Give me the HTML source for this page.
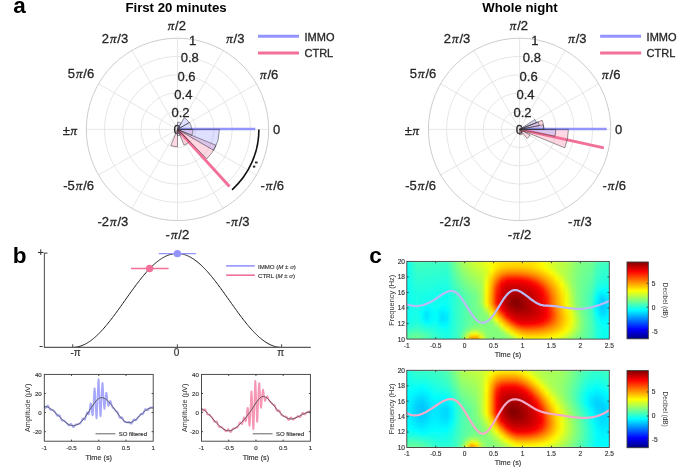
<!DOCTYPE html>
<html><head><meta charset="utf-8"><style>
html,body{margin:0;padding:0;background:#fff;}
svg{display:block;will-change:transform;}
</style></head><body>
<svg width="685" height="473" viewBox="0 0 685 473">
<defs><clipPath id="c1"><rect x="406.8" y="261.4" width="202.50" height="77.70"/></clipPath><linearGradient id="g2"><stop offset="0.000" stop-color="#08fff7"/><stop offset="0.025" stop-color="#29ffd6"/><stop offset="0.049" stop-color="#41ffbe"/><stop offset="0.074" stop-color="#40ffbf"/><stop offset="0.099" stop-color="#3fffc0"/><stop offset="0.123" stop-color="#3effc1"/><stop offset="0.148" stop-color="#3dffc2"/><stop offset="0.173" stop-color="#3cffc3"/><stop offset="0.198" stop-color="#3bffc4"/><stop offset="0.222" stop-color="#5cffa3"/><stop offset="0.247" stop-color="#81ff7e"/><stop offset="0.272" stop-color="#a4ff5b"/><stop offset="0.296" stop-color="#b7ff48"/><stop offset="0.321" stop-color="#c8ff37"/><stop offset="0.346" stop-color="#d5ff2a"/><stop offset="0.370" stop-color="#e1ff1e"/><stop offset="0.395" stop-color="#f1ff0e"/><stop offset="0.420" stop-color="#fffd00"/><stop offset="0.444" stop-color="#ffec00"/><stop offset="0.469" stop-color="#ffe200"/><stop offset="0.494" stop-color="#ffe000"/><stop offset="0.519" stop-color="#ffdf00"/><stop offset="0.543" stop-color="#ffde00"/><stop offset="0.568" stop-color="#ffde00"/><stop offset="0.593" stop-color="#ffde00"/><stop offset="0.617" stop-color="#ffde00"/><stop offset="0.642" stop-color="#ffe800"/><stop offset="0.667" stop-color="#fffb00"/><stop offset="0.691" stop-color="#f1ff0e"/><stop offset="0.716" stop-color="#dfff20"/><stop offset="0.741" stop-color="#cbff34"/><stop offset="0.765" stop-color="#c2ff3d"/><stop offset="0.790" stop-color="#b7ff48"/><stop offset="0.815" stop-color="#a0ff5f"/><stop offset="0.840" stop-color="#8bff74"/><stop offset="0.864" stop-color="#7cff83"/><stop offset="0.889" stop-color="#76ff89"/><stop offset="0.914" stop-color="#6fff90"/><stop offset="0.938" stop-color="#52ffad"/><stop offset="0.963" stop-color="#42ffbd"/><stop offset="0.988" stop-color="#3fffc0"/><stop offset="1.000" stop-color="#3effc1"/></linearGradient><linearGradient id="g3"><stop offset="0.000" stop-color="#08fff7"/><stop offset="0.025" stop-color="#28ffd7"/><stop offset="0.049" stop-color="#3effc1"/><stop offset="0.074" stop-color="#3dffc2"/><stop offset="0.099" stop-color="#3cffc3"/><stop offset="0.123" stop-color="#3bffc4"/><stop offset="0.148" stop-color="#3affc5"/><stop offset="0.173" stop-color="#39ffc6"/><stop offset="0.198" stop-color="#38ffc7"/><stop offset="0.222" stop-color="#58ffa7"/><stop offset="0.247" stop-color="#7cff83"/><stop offset="0.272" stop-color="#9fff60"/><stop offset="0.296" stop-color="#b1ff4e"/><stop offset="0.321" stop-color="#c3ff3c"/><stop offset="0.346" stop-color="#cfff30"/><stop offset="0.370" stop-color="#dcff23"/><stop offset="0.395" stop-color="#eaff15"/><stop offset="0.420" stop-color="#fbff04"/><stop offset="0.444" stop-color="#fff000"/><stop offset="0.469" stop-color="#ffe400"/><stop offset="0.494" stop-color="#ffdf00"/><stop offset="0.519" stop-color="#ffde00"/><stop offset="0.543" stop-color="#ffdd00"/><stop offset="0.568" stop-color="#ffde00"/><stop offset="0.593" stop-color="#ffdf00"/><stop offset="0.617" stop-color="#ffe100"/><stop offset="0.642" stop-color="#ffec00"/><stop offset="0.667" stop-color="#fffd00"/><stop offset="0.691" stop-color="#eeff11"/><stop offset="0.716" stop-color="#dbff24"/><stop offset="0.741" stop-color="#c8ff37"/><stop offset="0.765" stop-color="#bfff40"/><stop offset="0.790" stop-color="#b5ff4a"/><stop offset="0.815" stop-color="#9eff61"/><stop offset="0.840" stop-color="#89ff76"/><stop offset="0.864" stop-color="#7bff84"/><stop offset="0.889" stop-color="#74ff8b"/><stop offset="0.914" stop-color="#6cff93"/><stop offset="0.938" stop-color="#4fffb0"/><stop offset="0.963" stop-color="#3fffc0"/><stop offset="0.988" stop-color="#3cffc3"/><stop offset="1.000" stop-color="#3bffc4"/></linearGradient><linearGradient id="g4"><stop offset="0.000" stop-color="#08fff7"/><stop offset="0.025" stop-color="#26ffd9"/><stop offset="0.049" stop-color="#3cffc3"/><stop offset="0.074" stop-color="#3bffc4"/><stop offset="0.099" stop-color="#3affc5"/><stop offset="0.123" stop-color="#39ffc6"/><stop offset="0.148" stop-color="#38ffc7"/><stop offset="0.173" stop-color="#37ffc8"/><stop offset="0.198" stop-color="#35ffca"/><stop offset="0.222" stop-color="#55ffaa"/><stop offset="0.247" stop-color="#78ff87"/><stop offset="0.272" stop-color="#99ff66"/><stop offset="0.296" stop-color="#acff53"/><stop offset="0.321" stop-color="#bdff42"/><stop offset="0.346" stop-color="#c9ff36"/><stop offset="0.370" stop-color="#d6ff29"/><stop offset="0.395" stop-color="#e5ff1a"/><stop offset="0.420" stop-color="#f8ff07"/><stop offset="0.444" stop-color="#ffee00"/><stop offset="0.469" stop-color="#ffdd00"/><stop offset="0.494" stop-color="#ffd500"/><stop offset="0.519" stop-color="#ffd300"/><stop offset="0.543" stop-color="#ffd300"/><stop offset="0.568" stop-color="#ffd400"/><stop offset="0.593" stop-color="#ffd800"/><stop offset="0.617" stop-color="#ffdd00"/><stop offset="0.642" stop-color="#ffe900"/><stop offset="0.667" stop-color="#fffb00"/><stop offset="0.691" stop-color="#efff10"/><stop offset="0.716" stop-color="#daff25"/><stop offset="0.741" stop-color="#c6ff39"/><stop offset="0.765" stop-color="#bdff42"/><stop offset="0.790" stop-color="#b2ff4d"/><stop offset="0.815" stop-color="#9cff63"/><stop offset="0.840" stop-color="#88ff77"/><stop offset="0.864" stop-color="#79ff86"/><stop offset="0.889" stop-color="#72ff8d"/><stop offset="0.914" stop-color="#6aff95"/><stop offset="0.938" stop-color="#4cffb3"/><stop offset="0.963" stop-color="#3cffc3"/><stop offset="0.988" stop-color="#39ffc6"/><stop offset="1.000" stop-color="#38ffc7"/></linearGradient><linearGradient id="g5"><stop offset="0.000" stop-color="#08fff7"/><stop offset="0.025" stop-color="#25ffda"/><stop offset="0.049" stop-color="#3affc5"/><stop offset="0.074" stop-color="#39ffc6"/><stop offset="0.099" stop-color="#38ffc7"/><stop offset="0.123" stop-color="#36ffc9"/><stop offset="0.148" stop-color="#35ffca"/><stop offset="0.173" stop-color="#34ffcb"/><stop offset="0.198" stop-color="#33ffcc"/><stop offset="0.222" stop-color="#51ffae"/><stop offset="0.247" stop-color="#74ff8b"/><stop offset="0.272" stop-color="#94ff6b"/><stop offset="0.296" stop-color="#a6ff59"/><stop offset="0.321" stop-color="#b7ff48"/><stop offset="0.346" stop-color="#c4ff3b"/><stop offset="0.370" stop-color="#d0ff2f"/><stop offset="0.395" stop-color="#dfff20"/><stop offset="0.420" stop-color="#faff05"/><stop offset="0.444" stop-color="#ffe400"/><stop offset="0.469" stop-color="#ffce00"/><stop offset="0.494" stop-color="#ffc400"/><stop offset="0.519" stop-color="#ffc100"/><stop offset="0.543" stop-color="#ffc100"/><stop offset="0.568" stop-color="#ffc300"/><stop offset="0.593" stop-color="#ffc900"/><stop offset="0.617" stop-color="#ffd100"/><stop offset="0.642" stop-color="#ffdf00"/><stop offset="0.667" stop-color="#fff200"/><stop offset="0.691" stop-color="#f6ff09"/><stop offset="0.716" stop-color="#deff21"/><stop offset="0.741" stop-color="#c7ff38"/><stop offset="0.765" stop-color="#bbff44"/><stop offset="0.790" stop-color="#b0ff4f"/><stop offset="0.815" stop-color="#9aff65"/><stop offset="0.840" stop-color="#86ff79"/><stop offset="0.864" stop-color="#78ff87"/><stop offset="0.889" stop-color="#70ff8f"/><stop offset="0.914" stop-color="#67ff98"/><stop offset="0.938" stop-color="#49ffb6"/><stop offset="0.963" stop-color="#39ffc6"/><stop offset="0.988" stop-color="#36ffc9"/><stop offset="1.000" stop-color="#35ffca"/></linearGradient><linearGradient id="g6"><stop offset="0.000" stop-color="#08fff7"/><stop offset="0.025" stop-color="#24ffdb"/><stop offset="0.049" stop-color="#38ffc7"/><stop offset="0.074" stop-color="#37ffc8"/><stop offset="0.099" stop-color="#35ffca"/><stop offset="0.123" stop-color="#34ffcb"/><stop offset="0.148" stop-color="#33ffcc"/><stop offset="0.173" stop-color="#32ffcd"/><stop offset="0.198" stop-color="#30ffcf"/><stop offset="0.222" stop-color="#4effb1"/><stop offset="0.247" stop-color="#6fff90"/><stop offset="0.272" stop-color="#8eff71"/><stop offset="0.296" stop-color="#a1ff5e"/><stop offset="0.321" stop-color="#b2ff4d"/><stop offset="0.346" stop-color="#beff41"/><stop offset="0.370" stop-color="#cbff34"/><stop offset="0.395" stop-color="#dcff23"/><stop offset="0.420" stop-color="#fffe00"/><stop offset="0.444" stop-color="#ffd600"/><stop offset="0.469" stop-color="#ffbb00"/><stop offset="0.494" stop-color="#ffad00"/><stop offset="0.519" stop-color="#ffaa00"/><stop offset="0.543" stop-color="#ffaa00"/><stop offset="0.568" stop-color="#ffad00"/><stop offset="0.593" stop-color="#ffb400"/><stop offset="0.617" stop-color="#ffbf00"/><stop offset="0.642" stop-color="#ffce00"/><stop offset="0.667" stop-color="#ffe300"/><stop offset="0.691" stop-color="#fffb00"/><stop offset="0.716" stop-color="#e8ff17"/><stop offset="0.741" stop-color="#cbff34"/><stop offset="0.765" stop-color="#baff45"/><stop offset="0.790" stop-color="#aeff51"/><stop offset="0.815" stop-color="#98ff67"/><stop offset="0.840" stop-color="#85ff7a"/><stop offset="0.864" stop-color="#76ff89"/><stop offset="0.889" stop-color="#6eff91"/><stop offset="0.914" stop-color="#65ff9a"/><stop offset="0.938" stop-color="#46ffb9"/><stop offset="0.963" stop-color="#36ffc9"/><stop offset="0.988" stop-color="#33ffcc"/><stop offset="1.000" stop-color="#32ffcd"/></linearGradient><linearGradient id="g7"><stop offset="0.000" stop-color="#08fff7"/><stop offset="0.025" stop-color="#23ffdc"/><stop offset="0.049" stop-color="#36ffc9"/><stop offset="0.074" stop-color="#34ffcb"/><stop offset="0.099" stop-color="#33ffcc"/><stop offset="0.123" stop-color="#32ffcd"/><stop offset="0.148" stop-color="#30ffcf"/><stop offset="0.173" stop-color="#2fffd0"/><stop offset="0.198" stop-color="#2effd1"/><stop offset="0.222" stop-color="#4bffb4"/><stop offset="0.247" stop-color="#6bff94"/><stop offset="0.272" stop-color="#89ff76"/><stop offset="0.296" stop-color="#9bff64"/><stop offset="0.321" stop-color="#acff53"/><stop offset="0.346" stop-color="#b8ff47"/><stop offset="0.370" stop-color="#c5ff3a"/><stop offset="0.395" stop-color="#dbff24"/><stop offset="0.420" stop-color="#fff300"/><stop offset="0.444" stop-color="#ffc400"/><stop offset="0.469" stop-color="#ffa400"/><stop offset="0.494" stop-color="#ff9300"/><stop offset="0.519" stop-color="#ff8f00"/><stop offset="0.543" stop-color="#ff8f00"/><stop offset="0.568" stop-color="#ff9300"/><stop offset="0.593" stop-color="#ff9b00"/><stop offset="0.617" stop-color="#ffa900"/><stop offset="0.642" stop-color="#ffba00"/><stop offset="0.667" stop-color="#ffd000"/><stop offset="0.691" stop-color="#ffea00"/><stop offset="0.716" stop-color="#f6ff09"/><stop offset="0.741" stop-color="#d5ff2a"/><stop offset="0.765" stop-color="#bcff43"/><stop offset="0.790" stop-color="#adff52"/><stop offset="0.815" stop-color="#97ff68"/><stop offset="0.840" stop-color="#83ff7c"/><stop offset="0.864" stop-color="#75ff8a"/><stop offset="0.889" stop-color="#6cff93"/><stop offset="0.914" stop-color="#63ff9c"/><stop offset="0.938" stop-color="#44ffbb"/><stop offset="0.963" stop-color="#33ffcc"/><stop offset="0.988" stop-color="#30ffcf"/><stop offset="1.000" stop-color="#2fffd0"/></linearGradient><linearGradient id="g8"><stop offset="0.000" stop-color="#08fff7"/><stop offset="0.025" stop-color="#21ffde"/><stop offset="0.049" stop-color="#33ffcc"/><stop offset="0.074" stop-color="#32ffcd"/><stop offset="0.099" stop-color="#31ffce"/><stop offset="0.123" stop-color="#2fffd0"/><stop offset="0.148" stop-color="#2effd1"/><stop offset="0.173" stop-color="#2dffd2"/><stop offset="0.198" stop-color="#2bffd4"/><stop offset="0.222" stop-color="#47ffb8"/><stop offset="0.247" stop-color="#66ff99"/><stop offset="0.272" stop-color="#83ff7c"/><stop offset="0.296" stop-color="#96ff69"/><stop offset="0.321" stop-color="#a6ff59"/><stop offset="0.346" stop-color="#b3ff4c"/><stop offset="0.370" stop-color="#c0ff3f"/><stop offset="0.395" stop-color="#ddff22"/><stop offset="0.420" stop-color="#ffe700"/><stop offset="0.444" stop-color="#ffb200"/><stop offset="0.469" stop-color="#ff8b00"/><stop offset="0.494" stop-color="#ff7500"/><stop offset="0.519" stop-color="#ff6f00"/><stop offset="0.543" stop-color="#ff6f00"/><stop offset="0.568" stop-color="#ff7400"/><stop offset="0.593" stop-color="#ff7f00"/><stop offset="0.617" stop-color="#ff8f00"/><stop offset="0.642" stop-color="#ffa400"/><stop offset="0.667" stop-color="#ffbd00"/><stop offset="0.691" stop-color="#ffd800"/><stop offset="0.716" stop-color="#fff800"/><stop offset="0.741" stop-color="#e3ff1c"/><stop offset="0.765" stop-color="#c1ff3e"/><stop offset="0.790" stop-color="#acff53"/><stop offset="0.815" stop-color="#95ff6a"/><stop offset="0.840" stop-color="#82ff7d"/><stop offset="0.864" stop-color="#74ff8b"/><stop offset="0.889" stop-color="#6aff95"/><stop offset="0.914" stop-color="#60ff9f"/><stop offset="0.938" stop-color="#41ffbe"/><stop offset="0.963" stop-color="#30ffcf"/><stop offset="0.988" stop-color="#2dffd2"/><stop offset="1.000" stop-color="#2cffd3"/></linearGradient><linearGradient id="g9"><stop offset="0.000" stop-color="#08fff7"/><stop offset="0.025" stop-color="#20ffdf"/><stop offset="0.049" stop-color="#31ffce"/><stop offset="0.074" stop-color="#30ffcf"/><stop offset="0.099" stop-color="#2effd1"/><stop offset="0.123" stop-color="#2dffd2"/><stop offset="0.148" stop-color="#2cffd3"/><stop offset="0.173" stop-color="#2affd5"/><stop offset="0.198" stop-color="#29ffd6"/><stop offset="0.222" stop-color="#44ffbb"/><stop offset="0.247" stop-color="#62ff9d"/><stop offset="0.272" stop-color="#7eff81"/><stop offset="0.296" stop-color="#90ff6f"/><stop offset="0.321" stop-color="#a1ff5e"/><stop offset="0.346" stop-color="#adff52"/><stop offset="0.370" stop-color="#bbff44"/><stop offset="0.395" stop-color="#e2ff1d"/><stop offset="0.420" stop-color="#ffda00"/><stop offset="0.444" stop-color="#ffa000"/><stop offset="0.469" stop-color="#ff6f00"/><stop offset="0.494" stop-color="#ff4f00"/><stop offset="0.519" stop-color="#ff4600"/><stop offset="0.543" stop-color="#ff4600"/><stop offset="0.568" stop-color="#ff4d00"/><stop offset="0.593" stop-color="#ff5c00"/><stop offset="0.617" stop-color="#ff7300"/><stop offset="0.642" stop-color="#ff8c00"/><stop offset="0.667" stop-color="#ffa800"/><stop offset="0.691" stop-color="#ffc700"/><stop offset="0.716" stop-color="#ffe800"/><stop offset="0.741" stop-color="#f1ff0e"/><stop offset="0.765" stop-color="#cbff34"/><stop offset="0.790" stop-color="#aeff51"/><stop offset="0.815" stop-color="#95ff6a"/><stop offset="0.840" stop-color="#81ff7e"/><stop offset="0.864" stop-color="#72ff8d"/><stop offset="0.889" stop-color="#68ff97"/><stop offset="0.914" stop-color="#5effa1"/><stop offset="0.938" stop-color="#3dffc2"/><stop offset="0.963" stop-color="#2dffd2"/><stop offset="0.988" stop-color="#2affd5"/><stop offset="1.000" stop-color="#29ffd6"/></linearGradient><linearGradient id="g10"><stop offset="0.000" stop-color="#08fff7"/><stop offset="0.025" stop-color="#1fffe0"/><stop offset="0.049" stop-color="#2fffd0"/><stop offset="0.074" stop-color="#2effd1"/><stop offset="0.099" stop-color="#2cffd3"/><stop offset="0.123" stop-color="#2bffd4"/><stop offset="0.148" stop-color="#29ffd6"/><stop offset="0.173" stop-color="#28ffd7"/><stop offset="0.198" stop-color="#26ffd9"/><stop offset="0.222" stop-color="#40ffbf"/><stop offset="0.247" stop-color="#5dffa2"/><stop offset="0.272" stop-color="#78ff87"/><stop offset="0.296" stop-color="#8bff74"/><stop offset="0.321" stop-color="#9bff64"/><stop offset="0.346" stop-color="#a7ff58"/><stop offset="0.370" stop-color="#b7ff48"/><stop offset="0.395" stop-color="#e7ff18"/><stop offset="0.420" stop-color="#ffce00"/><stop offset="0.444" stop-color="#ff8d00"/><stop offset="0.469" stop-color="#ff4d00"/><stop offset="0.494" stop-color="#ff2700"/><stop offset="0.519" stop-color="#ff1e00"/><stop offset="0.543" stop-color="#ff1e00"/><stop offset="0.568" stop-color="#ff2400"/><stop offset="0.593" stop-color="#ff3400"/><stop offset="0.617" stop-color="#ff4f00"/><stop offset="0.642" stop-color="#ff7200"/><stop offset="0.667" stop-color="#ff9300"/><stop offset="0.691" stop-color="#ffb500"/><stop offset="0.716" stop-color="#ffd800"/><stop offset="0.741" stop-color="#fffe00"/><stop offset="0.765" stop-color="#d7ff28"/><stop offset="0.790" stop-color="#b1ff4e"/><stop offset="0.815" stop-color="#95ff6a"/><stop offset="0.840" stop-color="#80ff7f"/><stop offset="0.864" stop-color="#71ff8e"/><stop offset="0.889" stop-color="#67ff98"/><stop offset="0.914" stop-color="#5bffa4"/><stop offset="0.938" stop-color="#3affc5"/><stop offset="0.963" stop-color="#29ffd6"/><stop offset="0.988" stop-color="#27ffd8"/><stop offset="1.000" stop-color="#26ffd9"/></linearGradient><linearGradient id="g11"><stop offset="0.000" stop-color="#08fff7"/><stop offset="0.025" stop-color="#1effe1"/><stop offset="0.049" stop-color="#2dffd2"/><stop offset="0.074" stop-color="#2bffd4"/><stop offset="0.099" stop-color="#2affd5"/><stop offset="0.123" stop-color="#28ffd7"/><stop offset="0.148" stop-color="#27ffd8"/><stop offset="0.173" stop-color="#25ffda"/><stop offset="0.198" stop-color="#24ffdb"/><stop offset="0.222" stop-color="#3dffc2"/><stop offset="0.247" stop-color="#59ffa6"/><stop offset="0.272" stop-color="#73ff8c"/><stop offset="0.296" stop-color="#85ff7a"/><stop offset="0.321" stop-color="#96ff69"/><stop offset="0.346" stop-color="#a2ff5d"/><stop offset="0.370" stop-color="#b3ff4c"/><stop offset="0.395" stop-color="#edff12"/><stop offset="0.420" stop-color="#ffc400"/><stop offset="0.444" stop-color="#ff7a00"/><stop offset="0.469" stop-color="#ff2b00"/><stop offset="0.494" stop-color="#ff0700"/><stop offset="0.519" stop-color="#ff0000"/><stop offset="0.543" stop-color="#ff0000"/><stop offset="0.568" stop-color="#ff0400"/><stop offset="0.593" stop-color="#ff1100"/><stop offset="0.617" stop-color="#ff2a00"/><stop offset="0.642" stop-color="#ff5100"/><stop offset="0.667" stop-color="#ff7d00"/><stop offset="0.691" stop-color="#ffa300"/><stop offset="0.716" stop-color="#ffc900"/><stop offset="0.741" stop-color="#fff000"/><stop offset="0.765" stop-color="#e3ff1c"/><stop offset="0.790" stop-color="#b7ff48"/><stop offset="0.815" stop-color="#96ff69"/><stop offset="0.840" stop-color="#7fff80"/><stop offset="0.864" stop-color="#70ff8f"/><stop offset="0.889" stop-color="#65ff9a"/><stop offset="0.914" stop-color="#59ffa6"/><stop offset="0.938" stop-color="#37ffc8"/><stop offset="0.963" stop-color="#25ffda"/><stop offset="0.988" stop-color="#23ffdc"/><stop offset="1.000" stop-color="#22ffdd"/></linearGradient><linearGradient id="g12"><stop offset="0.000" stop-color="#08fff7"/><stop offset="0.025" stop-color="#1cffe3"/><stop offset="0.049" stop-color="#2bffd4"/><stop offset="0.074" stop-color="#29ffd6"/><stop offset="0.099" stop-color="#27ffd8"/><stop offset="0.123" stop-color="#26ffd9"/><stop offset="0.148" stop-color="#24ffdb"/><stop offset="0.173" stop-color="#23ffdc"/><stop offset="0.198" stop-color="#21ffde"/><stop offset="0.222" stop-color="#39ffc6"/><stop offset="0.247" stop-color="#54ffab"/><stop offset="0.272" stop-color="#6dff92"/><stop offset="0.296" stop-color="#80ff7f"/><stop offset="0.321" stop-color="#90ff6f"/><stop offset="0.346" stop-color="#9cff63"/><stop offset="0.370" stop-color="#afff50"/><stop offset="0.395" stop-color="#f3ff0c"/><stop offset="0.420" stop-color="#ffba00"/><stop offset="0.444" stop-color="#ff6600"/><stop offset="0.469" stop-color="#ff1000"/><stop offset="0.494" stop-color="#f30000"/><stop offset="0.519" stop-color="#ee0000"/><stop offset="0.543" stop-color="#ee0000"/><stop offset="0.568" stop-color="#f10000"/><stop offset="0.593" stop-color="#fa0000"/><stop offset="0.617" stop-color="#ff0c00"/><stop offset="0.642" stop-color="#ff3000"/><stop offset="0.667" stop-color="#ff6400"/><stop offset="0.691" stop-color="#ff9200"/><stop offset="0.716" stop-color="#ffbb00"/><stop offset="0.741" stop-color="#ffe300"/><stop offset="0.765" stop-color="#eeff11"/><stop offset="0.790" stop-color="#c0ff3f"/><stop offset="0.815" stop-color="#97ff68"/><stop offset="0.840" stop-color="#7eff81"/><stop offset="0.864" stop-color="#6fff90"/><stop offset="0.889" stop-color="#63ff9c"/><stop offset="0.914" stop-color="#56ffa9"/><stop offset="0.938" stop-color="#32ffcd"/><stop offset="0.963" stop-color="#20ffdf"/><stop offset="0.988" stop-color="#1fffe0"/><stop offset="1.000" stop-color="#1fffe0"/></linearGradient><linearGradient id="g13"><stop offset="0.000" stop-color="#08fff7"/><stop offset="0.025" stop-color="#1bffe4"/><stop offset="0.049" stop-color="#28ffd7"/><stop offset="0.074" stop-color="#27ffd8"/><stop offset="0.099" stop-color="#25ffda"/><stop offset="0.123" stop-color="#24ffdb"/><stop offset="0.148" stop-color="#22ffdd"/><stop offset="0.173" stop-color="#20ffdf"/><stop offset="0.198" stop-color="#1fffe0"/><stop offset="0.222" stop-color="#36ffc9"/><stop offset="0.247" stop-color="#50ffaf"/><stop offset="0.272" stop-color="#68ff97"/><stop offset="0.296" stop-color="#7aff85"/><stop offset="0.321" stop-color="#8aff75"/><stop offset="0.346" stop-color="#97ff68"/><stop offset="0.370" stop-color="#acff53"/><stop offset="0.395" stop-color="#f8ff07"/><stop offset="0.420" stop-color="#ffb200"/><stop offset="0.444" stop-color="#ff5200"/><stop offset="0.469" stop-color="#fd0000"/><stop offset="0.494" stop-color="#e50000"/><stop offset="0.519" stop-color="#df0000"/><stop offset="0.543" stop-color="#df0000"/><stop offset="0.568" stop-color="#e20000"/><stop offset="0.593" stop-color="#ea0000"/><stop offset="0.617" stop-color="#f80000"/><stop offset="0.642" stop-color="#ff1400"/><stop offset="0.667" stop-color="#ff4800"/><stop offset="0.691" stop-color="#ff8000"/><stop offset="0.716" stop-color="#ffad00"/><stop offset="0.741" stop-color="#ffd800"/><stop offset="0.765" stop-color="#f9ff06"/><stop offset="0.790" stop-color="#c9ff36"/><stop offset="0.815" stop-color="#9aff65"/><stop offset="0.840" stop-color="#7eff81"/><stop offset="0.864" stop-color="#6eff91"/><stop offset="0.889" stop-color="#61ff9e"/><stop offset="0.914" stop-color="#53ffac"/><stop offset="0.938" stop-color="#2effd1"/><stop offset="0.963" stop-color="#1affe5"/><stop offset="0.988" stop-color="#1affe5"/><stop offset="1.000" stop-color="#1bffe4"/></linearGradient><linearGradient id="g14"><stop offset="0.000" stop-color="#08fff7"/><stop offset="0.025" stop-color="#1affe5"/><stop offset="0.049" stop-color="#26ffd9"/><stop offset="0.074" stop-color="#25ffda"/><stop offset="0.099" stop-color="#23ffdc"/><stop offset="0.123" stop-color="#21ffde"/><stop offset="0.148" stop-color="#1fffe0"/><stop offset="0.173" stop-color="#1effe1"/><stop offset="0.198" stop-color="#1cffe3"/><stop offset="0.222" stop-color="#32ffcd"/><stop offset="0.247" stop-color="#4bffb4"/><stop offset="0.272" stop-color="#63ff9c"/><stop offset="0.296" stop-color="#75ff8a"/><stop offset="0.321" stop-color="#85ff7a"/><stop offset="0.346" stop-color="#91ff6e"/><stop offset="0.370" stop-color="#aaff55"/><stop offset="0.395" stop-color="#fcff03"/><stop offset="0.420" stop-color="#ffab00"/><stop offset="0.444" stop-color="#ff4100"/><stop offset="0.469" stop-color="#f10000"/><stop offset="0.494" stop-color="#d90000"/><stop offset="0.519" stop-color="#d30000"/><stop offset="0.543" stop-color="#d30000"/><stop offset="0.568" stop-color="#d60000"/><stop offset="0.593" stop-color="#de0000"/><stop offset="0.617" stop-color="#eb0000"/><stop offset="0.642" stop-color="#ff0100"/><stop offset="0.667" stop-color="#ff2e00"/><stop offset="0.691" stop-color="#ff6e00"/><stop offset="0.716" stop-color="#ffa000"/><stop offset="0.741" stop-color="#ffcd00"/><stop offset="0.765" stop-color="#fffb00"/><stop offset="0.790" stop-color="#d2ff2d"/><stop offset="0.815" stop-color="#9eff61"/><stop offset="0.840" stop-color="#7fff80"/><stop offset="0.864" stop-color="#6dff92"/><stop offset="0.889" stop-color="#5fffa0"/><stop offset="0.914" stop-color="#50ffaf"/><stop offset="0.938" stop-color="#29ffd6"/><stop offset="0.963" stop-color="#13ffec"/><stop offset="0.988" stop-color="#15ffea"/><stop offset="1.000" stop-color="#16ffe9"/></linearGradient><linearGradient id="g15"><stop offset="0.000" stop-color="#08fff7"/><stop offset="0.025" stop-color="#19ffe6"/><stop offset="0.049" stop-color="#24ffdb"/><stop offset="0.074" stop-color="#22ffdd"/><stop offset="0.099" stop-color="#21ffde"/><stop offset="0.123" stop-color="#1fffe0"/><stop offset="0.148" stop-color="#1dffe2"/><stop offset="0.173" stop-color="#1bffe4"/><stop offset="0.198" stop-color="#1affe5"/><stop offset="0.222" stop-color="#2fffd0"/><stop offset="0.247" stop-color="#47ffb8"/><stop offset="0.272" stop-color="#5dffa2"/><stop offset="0.296" stop-color="#6fff90"/><stop offset="0.321" stop-color="#7fff80"/><stop offset="0.346" stop-color="#8cff73"/><stop offset="0.370" stop-color="#a7ff58"/><stop offset="0.395" stop-color="#fffe00"/><stop offset="0.420" stop-color="#ffa500"/><stop offset="0.444" stop-color="#ff3300"/><stop offset="0.469" stop-color="#e90000"/><stop offset="0.494" stop-color="#d00000"/><stop offset="0.519" stop-color="#c90000"/><stop offset="0.543" stop-color="#c90000"/><stop offset="0.568" stop-color="#cc0000"/><stop offset="0.593" stop-color="#d30000"/><stop offset="0.617" stop-color="#e00000"/><stop offset="0.642" stop-color="#f40000"/><stop offset="0.667" stop-color="#ff1900"/><stop offset="0.691" stop-color="#ff5b00"/><stop offset="0.716" stop-color="#ff9500"/><stop offset="0.741" stop-color="#ffc400"/><stop offset="0.765" stop-color="#fff200"/><stop offset="0.790" stop-color="#d9ff26"/><stop offset="0.815" stop-color="#a2ff5d"/><stop offset="0.840" stop-color="#7fff80"/><stop offset="0.864" stop-color="#6cff93"/><stop offset="0.889" stop-color="#5dffa2"/><stop offset="0.914" stop-color="#4dffb2"/><stop offset="0.938" stop-color="#23ffdc"/><stop offset="0.963" stop-color="#0bfff4"/><stop offset="0.988" stop-color="#0efff1"/><stop offset="1.000" stop-color="#12ffed"/></linearGradient><linearGradient id="g16"><stop offset="0.000" stop-color="#08fff7"/><stop offset="0.025" stop-color="#17ffe8"/><stop offset="0.049" stop-color="#22ffdd"/><stop offset="0.074" stop-color="#20ffdf"/><stop offset="0.099" stop-color="#1effe1"/><stop offset="0.123" stop-color="#1cffe3"/><stop offset="0.148" stop-color="#1bffe4"/><stop offset="0.173" stop-color="#19ffe6"/><stop offset="0.198" stop-color="#17ffe8"/><stop offset="0.222" stop-color="#2cffd3"/><stop offset="0.247" stop-color="#43ffbc"/><stop offset="0.272" stop-color="#58ffa7"/><stop offset="0.296" stop-color="#69ff96"/><stop offset="0.321" stop-color="#7aff85"/><stop offset="0.346" stop-color="#86ff79"/><stop offset="0.370" stop-color="#a5ff5a"/><stop offset="0.395" stop-color="#fffb00"/><stop offset="0.420" stop-color="#ffa100"/><stop offset="0.444" stop-color="#ff2800"/><stop offset="0.469" stop-color="#e20000"/><stop offset="0.494" stop-color="#c70000"/><stop offset="0.519" stop-color="#bf0000"/><stop offset="0.543" stop-color="#bf0000"/><stop offset="0.568" stop-color="#c20000"/><stop offset="0.593" stop-color="#cb0000"/><stop offset="0.617" stop-color="#d70000"/><stop offset="0.642" stop-color="#ea0000"/><stop offset="0.667" stop-color="#ff0900"/><stop offset="0.691" stop-color="#ff4900"/><stop offset="0.716" stop-color="#ff8a00"/><stop offset="0.741" stop-color="#ffbc00"/><stop offset="0.765" stop-color="#ffeb00"/><stop offset="0.790" stop-color="#e0ff1f"/><stop offset="0.815" stop-color="#a7ff58"/><stop offset="0.840" stop-color="#80ff7f"/><stop offset="0.864" stop-color="#6bff94"/><stop offset="0.889" stop-color="#5cffa3"/><stop offset="0.914" stop-color="#4affb5"/><stop offset="0.938" stop-color="#1cffe3"/><stop offset="0.963" stop-color="#02fffd"/><stop offset="0.988" stop-color="#07fff8"/><stop offset="1.000" stop-color="#0cfff3"/></linearGradient><linearGradient id="g17"><stop offset="0.000" stop-color="#08fff7"/><stop offset="0.025" stop-color="#16ffe9"/><stop offset="0.049" stop-color="#20ffdf"/><stop offset="0.074" stop-color="#1effe1"/><stop offset="0.099" stop-color="#1cffe3"/><stop offset="0.123" stop-color="#1affe5"/><stop offset="0.148" stop-color="#18ffe7"/><stop offset="0.173" stop-color="#16ffe9"/><stop offset="0.198" stop-color="#14ffeb"/><stop offset="0.222" stop-color="#28ffd7"/><stop offset="0.247" stop-color="#3effc1"/><stop offset="0.272" stop-color="#52ffad"/><stop offset="0.296" stop-color="#64ff9b"/><stop offset="0.321" stop-color="#74ff8b"/><stop offset="0.346" stop-color="#81ff7e"/><stop offset="0.370" stop-color="#a4ff5b"/><stop offset="0.395" stop-color="#fff900"/><stop offset="0.420" stop-color="#ff9d00"/><stop offset="0.444" stop-color="#ff2000"/><stop offset="0.469" stop-color="#dd0000"/><stop offset="0.494" stop-color="#c00000"/><stop offset="0.519" stop-color="#b40000"/><stop offset="0.543" stop-color="#b40000"/><stop offset="0.568" stop-color="#b90000"/><stop offset="0.593" stop-color="#c30000"/><stop offset="0.617" stop-color="#d00000"/><stop offset="0.642" stop-color="#e30000"/><stop offset="0.667" stop-color="#fe0000"/><stop offset="0.691" stop-color="#ff3a00"/><stop offset="0.716" stop-color="#ff8100"/><stop offset="0.741" stop-color="#ffb500"/><stop offset="0.765" stop-color="#ffe500"/><stop offset="0.790" stop-color="#e5ff1a"/><stop offset="0.815" stop-color="#abff54"/><stop offset="0.840" stop-color="#81ff7e"/><stop offset="0.864" stop-color="#6aff95"/><stop offset="0.889" stop-color="#5affa5"/><stop offset="0.914" stop-color="#46ffb9"/><stop offset="0.938" stop-color="#14ffeb"/><stop offset="0.963" stop-color="#00f6ff"/><stop offset="0.988" stop-color="#00feff"/><stop offset="1.000" stop-color="#07fff8"/></linearGradient><linearGradient id="g18"><stop offset="0.000" stop-color="#08fff7"/><stop offset="0.025" stop-color="#15ffea"/><stop offset="0.049" stop-color="#1dffe2"/><stop offset="0.074" stop-color="#1bffe4"/><stop offset="0.099" stop-color="#19ffe6"/><stop offset="0.123" stop-color="#17ffe8"/><stop offset="0.148" stop-color="#16ffe9"/><stop offset="0.173" stop-color="#14ffeb"/><stop offset="0.198" stop-color="#12ffed"/><stop offset="0.222" stop-color="#25ffda"/><stop offset="0.247" stop-color="#3affc5"/><stop offset="0.272" stop-color="#4dffb2"/><stop offset="0.296" stop-color="#5effa1"/><stop offset="0.321" stop-color="#6eff91"/><stop offset="0.346" stop-color="#7cff83"/><stop offset="0.370" stop-color="#a2ff5d"/><stop offset="0.395" stop-color="#fff800"/><stop offset="0.420" stop-color="#ff9b00"/><stop offset="0.444" stop-color="#ff1b00"/><stop offset="0.469" stop-color="#da0000"/><stop offset="0.494" stop-color="#ba0000"/><stop offset="0.519" stop-color="#aa0000"/><stop offset="0.543" stop-color="#aa0000"/><stop offset="0.568" stop-color="#b00000"/><stop offset="0.593" stop-color="#bc0000"/><stop offset="0.617" stop-color="#ca0000"/><stop offset="0.642" stop-color="#dd0000"/><stop offset="0.667" stop-color="#f80000"/><stop offset="0.691" stop-color="#ff2d00"/><stop offset="0.716" stop-color="#ff7800"/><stop offset="0.741" stop-color="#ffaf00"/><stop offset="0.765" stop-color="#ffe000"/><stop offset="0.790" stop-color="#eaff15"/><stop offset="0.815" stop-color="#afff50"/><stop offset="0.840" stop-color="#81ff7e"/><stop offset="0.864" stop-color="#69ff96"/><stop offset="0.889" stop-color="#58ffa7"/><stop offset="0.914" stop-color="#43ffbc"/><stop offset="0.938" stop-color="#0cfff3"/><stop offset="0.963" stop-color="#00eaff"/><stop offset="0.988" stop-color="#00f6ff"/><stop offset="1.000" stop-color="#00ffff"/></linearGradient><linearGradient id="g19"><stop offset="0.000" stop-color="#08fff7"/><stop offset="0.025" stop-color="#14ffeb"/><stop offset="0.049" stop-color="#1bffe4"/><stop offset="0.074" stop-color="#19ffe6"/><stop offset="0.099" stop-color="#16ffe9"/><stop offset="0.123" stop-color="#15ffea"/><stop offset="0.148" stop-color="#13ffec"/><stop offset="0.173" stop-color="#11ffee"/><stop offset="0.198" stop-color="#0ffff0"/><stop offset="0.222" stop-color="#21ffde"/><stop offset="0.247" stop-color="#35ffca"/><stop offset="0.272" stop-color="#47ffb8"/><stop offset="0.296" stop-color="#59ffa6"/><stop offset="0.321" stop-color="#69ff96"/><stop offset="0.346" stop-color="#77ff88"/><stop offset="0.370" stop-color="#a0ff5f"/><stop offset="0.395" stop-color="#fff700"/><stop offset="0.420" stop-color="#ff9a00"/><stop offset="0.444" stop-color="#ff1800"/><stop offset="0.469" stop-color="#d80000"/><stop offset="0.494" stop-color="#b60000"/><stop offset="0.519" stop-color="#a10000"/><stop offset="0.543" stop-color="#a00000"/><stop offset="0.568" stop-color="#a70000"/><stop offset="0.593" stop-color="#b50000"/><stop offset="0.617" stop-color="#c60000"/><stop offset="0.642" stop-color="#d90000"/><stop offset="0.667" stop-color="#f30000"/><stop offset="0.691" stop-color="#ff2400"/><stop offset="0.716" stop-color="#ff7200"/><stop offset="0.741" stop-color="#ffab00"/><stop offset="0.765" stop-color="#ffdc00"/><stop offset="0.790" stop-color="#edff12"/><stop offset="0.815" stop-color="#b2ff4d"/><stop offset="0.840" stop-color="#82ff7d"/><stop offset="0.864" stop-color="#69ff96"/><stop offset="0.889" stop-color="#56ffa9"/><stop offset="0.914" stop-color="#3fffc0"/><stop offset="0.938" stop-color="#04fffb"/><stop offset="0.963" stop-color="#00dfff"/><stop offset="0.988" stop-color="#00edff"/><stop offset="1.000" stop-color="#00f9ff"/></linearGradient><linearGradient id="g20"><stop offset="0.000" stop-color="#08fff7"/><stop offset="0.025" stop-color="#13ffec"/><stop offset="0.049" stop-color="#1bffe4"/><stop offset="0.074" stop-color="#18ffe7"/><stop offset="0.099" stop-color="#15ffea"/><stop offset="0.123" stop-color="#14ffeb"/><stop offset="0.148" stop-color="#12ffed"/><stop offset="0.173" stop-color="#10ffef"/><stop offset="0.198" stop-color="#0efff1"/><stop offset="0.222" stop-color="#20ffdf"/><stop offset="0.247" stop-color="#34ffcb"/><stop offset="0.272" stop-color="#46ffb9"/><stop offset="0.296" stop-color="#58ffa7"/><stop offset="0.321" stop-color="#68ff97"/><stop offset="0.346" stop-color="#76ff89"/><stop offset="0.370" stop-color="#a0ff5f"/><stop offset="0.395" stop-color="#fff700"/><stop offset="0.420" stop-color="#ff9900"/><stop offset="0.444" stop-color="#ff1600"/><stop offset="0.469" stop-color="#d60000"/><stop offset="0.494" stop-color="#b30000"/><stop offset="0.519" stop-color="#980000"/><stop offset="0.543" stop-color="#970000"/><stop offset="0.568" stop-color="#a00000"/><stop offset="0.593" stop-color="#b00000"/><stop offset="0.617" stop-color="#c20000"/><stop offset="0.642" stop-color="#d60000"/><stop offset="0.667" stop-color="#ef0000"/><stop offset="0.691" stop-color="#ff1e00"/><stop offset="0.716" stop-color="#ff6c00"/><stop offset="0.741" stop-color="#ffa700"/><stop offset="0.765" stop-color="#ffda00"/><stop offset="0.790" stop-color="#f0ff0f"/><stop offset="0.815" stop-color="#b5ff4a"/><stop offset="0.840" stop-color="#83ff7c"/><stop offset="0.864" stop-color="#69ff96"/><stop offset="0.889" stop-color="#56ffa9"/><stop offset="0.914" stop-color="#3dffc2"/><stop offset="0.938" stop-color="#00fdff"/><stop offset="0.963" stop-color="#00d5ff"/><stop offset="0.988" stop-color="#00e6ff"/><stop offset="1.000" stop-color="#00f5ff"/></linearGradient><linearGradient id="g21"><stop offset="0.000" stop-color="#08fff7"/><stop offset="0.025" stop-color="#13ffec"/><stop offset="0.049" stop-color="#1bffe4"/><stop offset="0.074" stop-color="#17ffe8"/><stop offset="0.099" stop-color="#13ffec"/><stop offset="0.123" stop-color="#13ffec"/><stop offset="0.148" stop-color="#12ffed"/><stop offset="0.173" stop-color="#0ffff0"/><stop offset="0.198" stop-color="#0dfff2"/><stop offset="0.222" stop-color="#20ffdf"/><stop offset="0.247" stop-color="#34ffcb"/><stop offset="0.272" stop-color="#46ffb9"/><stop offset="0.296" stop-color="#58ffa7"/><stop offset="0.321" stop-color="#68ff97"/><stop offset="0.346" stop-color="#76ff89"/><stop offset="0.370" stop-color="#a0ff5f"/><stop offset="0.395" stop-color="#fff600"/><stop offset="0.420" stop-color="#ff9800"/><stop offset="0.444" stop-color="#ff1500"/><stop offset="0.469" stop-color="#d60000"/><stop offset="0.494" stop-color="#b10000"/><stop offset="0.519" stop-color="#920000"/><stop offset="0.543" stop-color="#8f0000"/><stop offset="0.568" stop-color="#9b0000"/><stop offset="0.593" stop-color="#ad0000"/><stop offset="0.617" stop-color="#c00000"/><stop offset="0.642" stop-color="#d40000"/><stop offset="0.667" stop-color="#ed0000"/><stop offset="0.691" stop-color="#ff1a00"/><stop offset="0.716" stop-color="#ff6900"/><stop offset="0.741" stop-color="#ffa500"/><stop offset="0.765" stop-color="#ffd800"/><stop offset="0.790" stop-color="#f1ff0e"/><stop offset="0.815" stop-color="#b6ff49"/><stop offset="0.840" stop-color="#83ff7c"/><stop offset="0.864" stop-color="#69ff96"/><stop offset="0.889" stop-color="#56ffa9"/><stop offset="0.914" stop-color="#3cffc3"/><stop offset="0.938" stop-color="#00f8ff"/><stop offset="0.963" stop-color="#00ceff"/><stop offset="0.988" stop-color="#00e1ff"/><stop offset="1.000" stop-color="#00f2ff"/></linearGradient><linearGradient id="g22"><stop offset="0.000" stop-color="#08fff7"/><stop offset="0.025" stop-color="#13ffec"/><stop offset="0.049" stop-color="#1bffe4"/><stop offset="0.074" stop-color="#16ffe9"/><stop offset="0.099" stop-color="#10ffef"/><stop offset="0.123" stop-color="#11ffee"/><stop offset="0.148" stop-color="#11ffee"/><stop offset="0.173" stop-color="#0dfff2"/><stop offset="0.198" stop-color="#0cfff3"/><stop offset="0.222" stop-color="#20ffdf"/><stop offset="0.247" stop-color="#34ffcb"/><stop offset="0.272" stop-color="#46ffb9"/><stop offset="0.296" stop-color="#58ffa7"/><stop offset="0.321" stop-color="#68ff97"/><stop offset="0.346" stop-color="#76ff89"/><stop offset="0.370" stop-color="#a0ff5f"/><stop offset="0.395" stop-color="#fff600"/><stop offset="0.420" stop-color="#ff9800"/><stop offset="0.444" stop-color="#ff1500"/><stop offset="0.469" stop-color="#d60000"/><stop offset="0.494" stop-color="#b10000"/><stop offset="0.519" stop-color="#8f0000"/><stop offset="0.543" stop-color="#880000"/><stop offset="0.568" stop-color="#980000"/><stop offset="0.593" stop-color="#ab0000"/><stop offset="0.617" stop-color="#bf0000"/><stop offset="0.642" stop-color="#d30000"/><stop offset="0.667" stop-color="#ec0000"/><stop offset="0.691" stop-color="#ff1900"/><stop offset="0.716" stop-color="#ff6800"/><stop offset="0.741" stop-color="#ffa500"/><stop offset="0.765" stop-color="#ffd700"/><stop offset="0.790" stop-color="#f2ff0d"/><stop offset="0.815" stop-color="#b7ff48"/><stop offset="0.840" stop-color="#84ff7b"/><stop offset="0.864" stop-color="#69ff96"/><stop offset="0.889" stop-color="#56ffa9"/><stop offset="0.914" stop-color="#3bffc4"/><stop offset="0.938" stop-color="#00f4ff"/><stop offset="0.963" stop-color="#00c9ff"/><stop offset="0.988" stop-color="#00ddff"/><stop offset="1.000" stop-color="#00f0ff"/></linearGradient><linearGradient id="g23"><stop offset="0.000" stop-color="#08fff7"/><stop offset="0.025" stop-color="#13ffec"/><stop offset="0.049" stop-color="#1affe5"/><stop offset="0.074" stop-color="#14ffeb"/><stop offset="0.099" stop-color="#0bfff4"/><stop offset="0.123" stop-color="#0ffff0"/><stop offset="0.148" stop-color="#10ffef"/><stop offset="0.173" stop-color="#09fff6"/><stop offset="0.198" stop-color="#09fff6"/><stop offset="0.222" stop-color="#20ffdf"/><stop offset="0.247" stop-color="#34ffcb"/><stop offset="0.272" stop-color="#46ffb9"/><stop offset="0.296" stop-color="#58ffa7"/><stop offset="0.321" stop-color="#68ff97"/><stop offset="0.346" stop-color="#75ff8a"/><stop offset="0.370" stop-color="#9cff63"/><stop offset="0.395" stop-color="#fffc00"/><stop offset="0.420" stop-color="#ff9e00"/><stop offset="0.444" stop-color="#ff1d00"/><stop offset="0.469" stop-color="#d80000"/><stop offset="0.494" stop-color="#b30000"/><stop offset="0.519" stop-color="#910000"/><stop offset="0.543" stop-color="#860000"/><stop offset="0.568" stop-color="#970000"/><stop offset="0.593" stop-color="#aa0000"/><stop offset="0.617" stop-color="#be0000"/><stop offset="0.642" stop-color="#d20000"/><stop offset="0.667" stop-color="#eb0000"/><stop offset="0.691" stop-color="#ff1500"/><stop offset="0.716" stop-color="#ff6300"/><stop offset="0.741" stop-color="#ffa100"/><stop offset="0.765" stop-color="#ffd400"/><stop offset="0.790" stop-color="#f5ff0a"/><stop offset="0.815" stop-color="#bbff44"/><stop offset="0.840" stop-color="#86ff79"/><stop offset="0.864" stop-color="#6aff95"/><stop offset="0.889" stop-color="#56ffa9"/><stop offset="0.914" stop-color="#3affc5"/><stop offset="0.938" stop-color="#00f2ff"/><stop offset="0.963" stop-color="#00c6ff"/><stop offset="0.988" stop-color="#00dbff"/><stop offset="1.000" stop-color="#00eeff"/></linearGradient><linearGradient id="g24"><stop offset="0.000" stop-color="#08fff7"/><stop offset="0.025" stop-color="#13ffec"/><stop offset="0.049" stop-color="#1affe5"/><stop offset="0.074" stop-color="#11ffee"/><stop offset="0.099" stop-color="#04fffb"/><stop offset="0.123" stop-color="#0bfff4"/><stop offset="0.148" stop-color="#0efff1"/><stop offset="0.173" stop-color="#04fffb"/><stop offset="0.198" stop-color="#06fff9"/><stop offset="0.222" stop-color="#1fffe0"/><stop offset="0.247" stop-color="#34ffcb"/><stop offset="0.272" stop-color="#46ffb9"/><stop offset="0.296" stop-color="#58ffa7"/><stop offset="0.321" stop-color="#68ff97"/><stop offset="0.346" stop-color="#74ff8b"/><stop offset="0.370" stop-color="#90ff6f"/><stop offset="0.395" stop-color="#efff10"/><stop offset="0.420" stop-color="#ffb100"/><stop offset="0.444" stop-color="#ff3900"/><stop offset="0.469" stop-color="#e10000"/><stop offset="0.494" stop-color="#bb0000"/><stop offset="0.519" stop-color="#9a0000"/><stop offset="0.543" stop-color="#8c0000"/><stop offset="0.568" stop-color="#960000"/><stop offset="0.593" stop-color="#a70000"/><stop offset="0.617" stop-color="#bb0000"/><stop offset="0.642" stop-color="#ce0000"/><stop offset="0.667" stop-color="#e60000"/><stop offset="0.691" stop-color="#ff0b00"/><stop offset="0.716" stop-color="#ff5500"/><stop offset="0.741" stop-color="#ff9800"/><stop offset="0.765" stop-color="#ffcc00"/><stop offset="0.790" stop-color="#ffff00"/><stop offset="0.815" stop-color="#c6ff39"/><stop offset="0.840" stop-color="#8cff73"/><stop offset="0.864" stop-color="#6cff93"/><stop offset="0.889" stop-color="#57ffa8"/><stop offset="0.914" stop-color="#3bffc4"/><stop offset="0.938" stop-color="#00f3ff"/><stop offset="0.963" stop-color="#00c6ff"/><stop offset="0.988" stop-color="#00daff"/><stop offset="1.000" stop-color="#00eeff"/></linearGradient><linearGradient id="g25"><stop offset="0.000" stop-color="#08fff7"/><stop offset="0.025" stop-color="#13ffec"/><stop offset="0.049" stop-color="#1affe5"/><stop offset="0.074" stop-color="#0dfff2"/><stop offset="0.099" stop-color="#00fbff"/><stop offset="0.123" stop-color="#07fff8"/><stop offset="0.148" stop-color="#0cfff3"/><stop offset="0.173" stop-color="#00fcff"/><stop offset="0.198" stop-color="#01fffe"/><stop offset="0.222" stop-color="#1effe1"/><stop offset="0.247" stop-color="#34ffcb"/><stop offset="0.272" stop-color="#46ffb9"/><stop offset="0.296" stop-color="#58ffa7"/><stop offset="0.321" stop-color="#68ff97"/><stop offset="0.346" stop-color="#74ff8b"/><stop offset="0.370" stop-color="#88ff77"/><stop offset="0.395" stop-color="#d9ff26"/><stop offset="0.420" stop-color="#ffc500"/><stop offset="0.444" stop-color="#ff5a00"/><stop offset="0.469" stop-color="#ee0000"/><stop offset="0.494" stop-color="#c50000"/><stop offset="0.519" stop-color="#a50000"/><stop offset="0.543" stop-color="#950000"/><stop offset="0.568" stop-color="#9a0000"/><stop offset="0.593" stop-color="#a70000"/><stop offset="0.617" stop-color="#b90000"/><stop offset="0.642" stop-color="#cc0000"/><stop offset="0.667" stop-color="#e20000"/><stop offset="0.691" stop-color="#ff0300"/><stop offset="0.716" stop-color="#ff4900"/><stop offset="0.741" stop-color="#ff8f00"/><stop offset="0.765" stop-color="#ffc400"/><stop offset="0.790" stop-color="#fff600"/><stop offset="0.815" stop-color="#d0ff2f"/><stop offset="0.840" stop-color="#93ff6c"/><stop offset="0.864" stop-color="#6fff90"/><stop offset="0.889" stop-color="#58ffa7"/><stop offset="0.914" stop-color="#3bffc4"/><stop offset="0.938" stop-color="#00f5ff"/><stop offset="0.963" stop-color="#00c9ff"/><stop offset="0.988" stop-color="#00dcff"/><stop offset="1.000" stop-color="#00efff"/></linearGradient><linearGradient id="g26"><stop offset="0.000" stop-color="#08fff7"/><stop offset="0.025" stop-color="#13ffec"/><stop offset="0.049" stop-color="#19ffe6"/><stop offset="0.074" stop-color="#09fff6"/><stop offset="0.099" stop-color="#00f2ff"/><stop offset="0.123" stop-color="#02fffd"/><stop offset="0.148" stop-color="#09fff6"/><stop offset="0.173" stop-color="#00f4ff"/><stop offset="0.198" stop-color="#00faff"/><stop offset="0.222" stop-color="#1dffe2"/><stop offset="0.247" stop-color="#34ffcb"/><stop offset="0.272" stop-color="#46ffb9"/><stop offset="0.296" stop-color="#58ffa7"/><stop offset="0.321" stop-color="#68ff97"/><stop offset="0.346" stop-color="#73ff8c"/><stop offset="0.370" stop-color="#83ff7c"/><stop offset="0.395" stop-color="#c2ff3d"/><stop offset="0.420" stop-color="#ffda00"/><stop offset="0.444" stop-color="#ff7b00"/><stop offset="0.469" stop-color="#fe0000"/><stop offset="0.494" stop-color="#cf0000"/><stop offset="0.519" stop-color="#b10000"/><stop offset="0.543" stop-color="#a00000"/><stop offset="0.568" stop-color="#a20000"/><stop offset="0.593" stop-color="#ab0000"/><stop offset="0.617" stop-color="#ba0000"/><stop offset="0.642" stop-color="#cb0000"/><stop offset="0.667" stop-color="#e00000"/><stop offset="0.691" stop-color="#fe0000"/><stop offset="0.716" stop-color="#ff3f00"/><stop offset="0.741" stop-color="#ff8800"/><stop offset="0.765" stop-color="#ffbd00"/><stop offset="0.790" stop-color="#ffef00"/><stop offset="0.815" stop-color="#d8ff27"/><stop offset="0.840" stop-color="#9aff65"/><stop offset="0.864" stop-color="#72ff8d"/><stop offset="0.889" stop-color="#59ffa6"/><stop offset="0.914" stop-color="#3dffc2"/><stop offset="0.938" stop-color="#00f9ff"/><stop offset="0.963" stop-color="#00ceff"/><stop offset="0.988" stop-color="#00dfff"/><stop offset="1.000" stop-color="#00f1ff"/></linearGradient><linearGradient id="g27"><stop offset="0.000" stop-color="#09fff6"/><stop offset="0.025" stop-color="#13ffec"/><stop offset="0.049" stop-color="#19ffe6"/><stop offset="0.074" stop-color="#06fff9"/><stop offset="0.099" stop-color="#00eaff"/><stop offset="0.123" stop-color="#00fdff"/><stop offset="0.148" stop-color="#06fff9"/><stop offset="0.173" stop-color="#00ecff"/><stop offset="0.198" stop-color="#00f4ff"/><stop offset="0.222" stop-color="#1cffe3"/><stop offset="0.247" stop-color="#34ffcb"/><stop offset="0.272" stop-color="#46ffb9"/><stop offset="0.296" stop-color="#58ffa7"/><stop offset="0.321" stop-color="#68ff97"/><stop offset="0.346" stop-color="#73ff8c"/><stop offset="0.370" stop-color="#81ff7e"/><stop offset="0.395" stop-color="#a8ff57"/><stop offset="0.420" stop-color="#fff100"/><stop offset="0.444" stop-color="#ff9600"/><stop offset="0.469" stop-color="#ff1a00"/><stop offset="0.494" stop-color="#dc0000"/><stop offset="0.519" stop-color="#be0000"/><stop offset="0.543" stop-color="#ac0000"/><stop offset="0.568" stop-color="#ac0000"/><stop offset="0.593" stop-color="#b10000"/><stop offset="0.617" stop-color="#bd0000"/><stop offset="0.642" stop-color="#cc0000"/><stop offset="0.667" stop-color="#e00000"/><stop offset="0.691" stop-color="#fc0000"/><stop offset="0.716" stop-color="#ff3800"/><stop offset="0.741" stop-color="#ff8100"/><stop offset="0.765" stop-color="#ffb700"/><stop offset="0.790" stop-color="#ffe800"/><stop offset="0.815" stop-color="#e0ff1f"/><stop offset="0.840" stop-color="#a2ff5d"/><stop offset="0.864" stop-color="#76ff89"/><stop offset="0.889" stop-color="#5bffa4"/><stop offset="0.914" stop-color="#3fffc0"/><stop offset="0.938" stop-color="#00ffff"/><stop offset="0.963" stop-color="#00d5ff"/><stop offset="0.988" stop-color="#00e3ff"/><stop offset="1.000" stop-color="#00f3ff"/></linearGradient><linearGradient id="g28"><stop offset="0.000" stop-color="#09fff6"/><stop offset="0.025" stop-color="#14ffeb"/><stop offset="0.049" stop-color="#19ffe6"/><stop offset="0.074" stop-color="#04fffb"/><stop offset="0.099" stop-color="#00e5ff"/><stop offset="0.123" stop-color="#00fbff"/><stop offset="0.148" stop-color="#04fffb"/><stop offset="0.173" stop-color="#00e5ff"/><stop offset="0.198" stop-color="#00efff"/><stop offset="0.222" stop-color="#1cffe3"/><stop offset="0.247" stop-color="#34ffcb"/><stop offset="0.272" stop-color="#46ffb9"/><stop offset="0.296" stop-color="#58ffa7"/><stop offset="0.321" stop-color="#68ff97"/><stop offset="0.346" stop-color="#73ff8c"/><stop offset="0.370" stop-color="#7fff80"/><stop offset="0.395" stop-color="#96ff69"/><stop offset="0.420" stop-color="#f4ff0b"/><stop offset="0.444" stop-color="#ffb100"/><stop offset="0.469" stop-color="#ff4400"/><stop offset="0.494" stop-color="#eb0000"/><stop offset="0.519" stop-color="#ca0000"/><stop offset="0.543" stop-color="#b90000"/><stop offset="0.568" stop-color="#b70000"/><stop offset="0.593" stop-color="#ba0000"/><stop offset="0.617" stop-color="#c30000"/><stop offset="0.642" stop-color="#cf0000"/><stop offset="0.667" stop-color="#e10000"/><stop offset="0.691" stop-color="#fc0000"/><stop offset="0.716" stop-color="#ff3500"/><stop offset="0.741" stop-color="#ff7e00"/><stop offset="0.765" stop-color="#ffb300"/><stop offset="0.790" stop-color="#ffe300"/><stop offset="0.815" stop-color="#e6ff19"/><stop offset="0.840" stop-color="#a9ff56"/><stop offset="0.864" stop-color="#79ff86"/><stop offset="0.889" stop-color="#5cffa3"/><stop offset="0.914" stop-color="#41ffbe"/><stop offset="0.938" stop-color="#05fffa"/><stop offset="0.963" stop-color="#00ddff"/><stop offset="0.988" stop-color="#00e9ff"/><stop offset="1.000" stop-color="#00f7ff"/></linearGradient><linearGradient id="g29"><stop offset="0.000" stop-color="#09fff6"/><stop offset="0.025" stop-color="#14ffeb"/><stop offset="0.049" stop-color="#1affe5"/><stop offset="0.074" stop-color="#04fffb"/><stop offset="0.099" stop-color="#00e4ff"/><stop offset="0.123" stop-color="#00faff"/><stop offset="0.148" stop-color="#02fffd"/><stop offset="0.173" stop-color="#00e1ff"/><stop offset="0.198" stop-color="#00ecff"/><stop offset="0.222" stop-color="#1bffe4"/><stop offset="0.247" stop-color="#34ffcb"/><stop offset="0.272" stop-color="#46ffb9"/><stop offset="0.296" stop-color="#58ffa7"/><stop offset="0.321" stop-color="#68ff97"/><stop offset="0.346" stop-color="#73ff8c"/><stop offset="0.370" stop-color="#7eff81"/><stop offset="0.395" stop-color="#8aff75"/><stop offset="0.420" stop-color="#d9ff26"/><stop offset="0.444" stop-color="#ffcb00"/><stop offset="0.469" stop-color="#ff7000"/><stop offset="0.494" stop-color="#ff0100"/><stop offset="0.519" stop-color="#d80000"/><stop offset="0.543" stop-color="#c50000"/><stop offset="0.568" stop-color="#c20000"/><stop offset="0.593" stop-color="#c40000"/><stop offset="0.617" stop-color="#ca0000"/><stop offset="0.642" stop-color="#d50000"/><stop offset="0.667" stop-color="#e50000"/><stop offset="0.691" stop-color="#ff0000"/><stop offset="0.716" stop-color="#ff3700"/><stop offset="0.741" stop-color="#ff7d00"/><stop offset="0.765" stop-color="#ffb000"/><stop offset="0.790" stop-color="#ffe000"/><stop offset="0.815" stop-color="#ebff14"/><stop offset="0.840" stop-color="#b0ff4f"/><stop offset="0.864" stop-color="#7dff82"/><stop offset="0.889" stop-color="#5effa1"/><stop offset="0.914" stop-color="#43ffbc"/><stop offset="0.938" stop-color="#0bfff4"/><stop offset="0.963" stop-color="#00e6ff"/><stop offset="0.988" stop-color="#00efff"/><stop offset="1.000" stop-color="#00faff"/></linearGradient><linearGradient id="g30"><stop offset="0.000" stop-color="#0afff5"/><stop offset="0.025" stop-color="#15ffea"/><stop offset="0.049" stop-color="#1bffe4"/><stop offset="0.074" stop-color="#06fff9"/><stop offset="0.099" stop-color="#00e7ff"/><stop offset="0.123" stop-color="#00fcff"/><stop offset="0.148" stop-color="#03fffc"/><stop offset="0.173" stop-color="#00e1ff"/><stop offset="0.198" stop-color="#00ecff"/><stop offset="0.222" stop-color="#1bffe4"/><stop offset="0.247" stop-color="#34ffcb"/><stop offset="0.272" stop-color="#46ffb9"/><stop offset="0.296" stop-color="#58ffa7"/><stop offset="0.321" stop-color="#68ff97"/><stop offset="0.346" stop-color="#73ff8c"/><stop offset="0.370" stop-color="#7eff81"/><stop offset="0.395" stop-color="#84ff7b"/><stop offset="0.420" stop-color="#baff45"/><stop offset="0.444" stop-color="#ffe600"/><stop offset="0.469" stop-color="#ff9300"/><stop offset="0.494" stop-color="#ff2600"/><stop offset="0.519" stop-color="#e90000"/><stop offset="0.543" stop-color="#d30000"/><stop offset="0.568" stop-color="#cd0000"/><stop offset="0.593" stop-color="#ce0000"/><stop offset="0.617" stop-color="#d30000"/><stop offset="0.642" stop-color="#dc0000"/><stop offset="0.667" stop-color="#ec0000"/><stop offset="0.691" stop-color="#ff0600"/><stop offset="0.716" stop-color="#ff3d00"/><stop offset="0.741" stop-color="#ff7e00"/><stop offset="0.765" stop-color="#ffb000"/><stop offset="0.790" stop-color="#ffde00"/><stop offset="0.815" stop-color="#eeff11"/><stop offset="0.840" stop-color="#b4ff4b"/><stop offset="0.864" stop-color="#80ff7f"/><stop offset="0.889" stop-color="#5fffa0"/><stop offset="0.914" stop-color="#45ffba"/><stop offset="0.938" stop-color="#11ffee"/><stop offset="0.963" stop-color="#00efff"/><stop offset="0.988" stop-color="#00f5ff"/><stop offset="1.000" stop-color="#00feff"/></linearGradient><linearGradient id="g31"><stop offset="0.000" stop-color="#0cfff3"/><stop offset="0.025" stop-color="#17ffe8"/><stop offset="0.049" stop-color="#1dffe2"/><stop offset="0.074" stop-color="#0afff5"/><stop offset="0.099" stop-color="#00eeff"/><stop offset="0.123" stop-color="#01fffe"/><stop offset="0.148" stop-color="#05fffa"/><stop offset="0.173" stop-color="#00e4ff"/><stop offset="0.198" stop-color="#00eeff"/><stop offset="0.222" stop-color="#1cffe3"/><stop offset="0.247" stop-color="#34ffcb"/><stop offset="0.272" stop-color="#46ffb9"/><stop offset="0.296" stop-color="#58ffa7"/><stop offset="0.321" stop-color="#68ff97"/><stop offset="0.346" stop-color="#73ff8c"/><stop offset="0.370" stop-color="#7eff81"/><stop offset="0.395" stop-color="#81ff7e"/><stop offset="0.420" stop-color="#9fff60"/><stop offset="0.444" stop-color="#fbff04"/><stop offset="0.469" stop-color="#ffb200"/><stop offset="0.494" stop-color="#ff5700"/><stop offset="0.519" stop-color="#ff0000"/><stop offset="0.543" stop-color="#e20000"/><stop offset="0.568" stop-color="#da0000"/><stop offset="0.593" stop-color="#da0000"/><stop offset="0.617" stop-color="#de0000"/><stop offset="0.642" stop-color="#e60000"/><stop offset="0.667" stop-color="#f50000"/><stop offset="0.691" stop-color="#ff1200"/><stop offset="0.716" stop-color="#ff4900"/><stop offset="0.741" stop-color="#ff8400"/><stop offset="0.765" stop-color="#ffb200"/><stop offset="0.790" stop-color="#ffde00"/><stop offset="0.815" stop-color="#efff10"/><stop offset="0.840" stop-color="#b7ff48"/><stop offset="0.864" stop-color="#82ff7d"/><stop offset="0.889" stop-color="#61ff9e"/><stop offset="0.914" stop-color="#47ffb8"/><stop offset="0.938" stop-color="#16ffe9"/><stop offset="0.963" stop-color="#00f7ff"/><stop offset="0.988" stop-color="#00fbff"/><stop offset="1.000" stop-color="#02fffd"/></linearGradient><linearGradient id="g32"><stop offset="0.000" stop-color="#0ffff0"/><stop offset="0.025" stop-color="#1bffe4"/><stop offset="0.049" stop-color="#21ffde"/><stop offset="0.074" stop-color="#10ffef"/><stop offset="0.099" stop-color="#00f9ff"/><stop offset="0.123" stop-color="#07fff8"/><stop offset="0.148" stop-color="#08fff7"/><stop offset="0.173" stop-color="#00ebff"/><stop offset="0.198" stop-color="#00f3ff"/><stop offset="0.222" stop-color="#1dffe2"/><stop offset="0.247" stop-color="#35ffca"/><stop offset="0.272" stop-color="#47ffb8"/><stop offset="0.296" stop-color="#58ffa7"/><stop offset="0.321" stop-color="#69ff96"/><stop offset="0.346" stop-color="#74ff8b"/><stop offset="0.370" stop-color="#7eff81"/><stop offset="0.395" stop-color="#80ff7f"/><stop offset="0.420" stop-color="#8eff71"/><stop offset="0.444" stop-color="#dcff23"/><stop offset="0.469" stop-color="#ffd000"/><stop offset="0.494" stop-color="#ff8400"/><stop offset="0.519" stop-color="#ff2700"/><stop offset="0.543" stop-color="#f60000"/><stop offset="0.568" stop-color="#e90000"/><stop offset="0.593" stop-color="#e90000"/><stop offset="0.617" stop-color="#ec0000"/><stop offset="0.642" stop-color="#f40000"/><stop offset="0.667" stop-color="#ff0300"/><stop offset="0.691" stop-color="#ff2500"/><stop offset="0.716" stop-color="#ff5900"/><stop offset="0.741" stop-color="#ff8c00"/><stop offset="0.765" stop-color="#ffb600"/><stop offset="0.790" stop-color="#ffe100"/><stop offset="0.815" stop-color="#eeff11"/><stop offset="0.840" stop-color="#b7ff48"/><stop offset="0.864" stop-color="#83ff7c"/><stop offset="0.889" stop-color="#62ff9d"/><stop offset="0.914" stop-color="#48ffb7"/><stop offset="0.938" stop-color="#1bffe4"/><stop offset="0.963" stop-color="#00feff"/><stop offset="0.988" stop-color="#00ffff"/><stop offset="1.000" stop-color="#04fffb"/></linearGradient><linearGradient id="g33"><stop offset="0.000" stop-color="#14ffeb"/><stop offset="0.025" stop-color="#20ffdf"/><stop offset="0.049" stop-color="#26ffd9"/><stop offset="0.074" stop-color="#19ffe6"/><stop offset="0.099" stop-color="#06fff9"/><stop offset="0.123" stop-color="#0efff1"/><stop offset="0.148" stop-color="#0dfff2"/><stop offset="0.173" stop-color="#00f5ff"/><stop offset="0.198" stop-color="#00faff"/><stop offset="0.222" stop-color="#1effe1"/><stop offset="0.247" stop-color="#35ffca"/><stop offset="0.272" stop-color="#47ffb8"/><stop offset="0.296" stop-color="#5affa5"/><stop offset="0.321" stop-color="#6bff94"/><stop offset="0.346" stop-color="#76ff89"/><stop offset="0.370" stop-color="#7fff80"/><stop offset="0.395" stop-color="#80ff7f"/><stop offset="0.420" stop-color="#86ff79"/><stop offset="0.444" stop-color="#baff45"/><stop offset="0.469" stop-color="#ffee00"/><stop offset="0.494" stop-color="#ffa700"/><stop offset="0.519" stop-color="#ff5c00"/><stop offset="0.543" stop-color="#ff1500"/><stop offset="0.568" stop-color="#fc0000"/><stop offset="0.593" stop-color="#fb0000"/><stop offset="0.617" stop-color="#fe0000"/><stop offset="0.642" stop-color="#ff0700"/><stop offset="0.667" stop-color="#ff1b00"/><stop offset="0.691" stop-color="#ff3e00"/><stop offset="0.716" stop-color="#ff6c00"/><stop offset="0.741" stop-color="#ff9600"/><stop offset="0.765" stop-color="#ffbd00"/><stop offset="0.790" stop-color="#ffe500"/><stop offset="0.815" stop-color="#ebff14"/><stop offset="0.840" stop-color="#b6ff49"/><stop offset="0.864" stop-color="#83ff7c"/><stop offset="0.889" stop-color="#62ff9d"/><stop offset="0.914" stop-color="#4affb5"/><stop offset="0.938" stop-color="#1fffe0"/><stop offset="0.963" stop-color="#05fffa"/><stop offset="0.988" stop-color="#04fffb"/><stop offset="1.000" stop-color="#07fff8"/></linearGradient><linearGradient id="g34"><stop offset="0.000" stop-color="#1bffe4"/><stop offset="0.025" stop-color="#27ffd8"/><stop offset="0.049" stop-color="#2effd1"/><stop offset="0.074" stop-color="#23ffdc"/><stop offset="0.099" stop-color="#14ffeb"/><stop offset="0.123" stop-color="#16ffe9"/><stop offset="0.148" stop-color="#13ffec"/><stop offset="0.173" stop-color="#00ffff"/><stop offset="0.198" stop-color="#02fffd"/><stop offset="0.222" stop-color="#20ffdf"/><stop offset="0.247" stop-color="#35ffca"/><stop offset="0.272" stop-color="#48ffb7"/><stop offset="0.296" stop-color="#5dffa2"/><stop offset="0.321" stop-color="#72ff8d"/><stop offset="0.346" stop-color="#7cff83"/><stop offset="0.370" stop-color="#82ff7d"/><stop offset="0.395" stop-color="#80ff7f"/><stop offset="0.420" stop-color="#82ff7d"/><stop offset="0.444" stop-color="#9cff63"/><stop offset="0.469" stop-color="#efff10"/><stop offset="0.494" stop-color="#ffc800"/><stop offset="0.519" stop-color="#ff8900"/><stop offset="0.543" stop-color="#ff4700"/><stop offset="0.568" stop-color="#ff1f00"/><stop offset="0.593" stop-color="#ff1a00"/><stop offset="0.617" stop-color="#ff1d00"/><stop offset="0.642" stop-color="#ff2800"/><stop offset="0.667" stop-color="#ff3d00"/><stop offset="0.691" stop-color="#ff5d00"/><stop offset="0.716" stop-color="#ff8100"/><stop offset="0.741" stop-color="#ffa300"/><stop offset="0.765" stop-color="#ffc600"/><stop offset="0.790" stop-color="#ffec00"/><stop offset="0.815" stop-color="#e6ff19"/><stop offset="0.840" stop-color="#b2ff4d"/><stop offset="0.864" stop-color="#82ff7d"/><stop offset="0.889" stop-color="#62ff9d"/><stop offset="0.914" stop-color="#4affb5"/><stop offset="0.938" stop-color="#21ffde"/><stop offset="0.963" stop-color="#0afff5"/><stop offset="0.988" stop-color="#08fff7"/><stop offset="1.000" stop-color="#09fff6"/></linearGradient><linearGradient id="g35"><stop offset="0.000" stop-color="#25ffda"/><stop offset="0.025" stop-color="#31ffce"/><stop offset="0.049" stop-color="#37ffc8"/><stop offset="0.074" stop-color="#2effd1"/><stop offset="0.099" stop-color="#21ffde"/><stop offset="0.123" stop-color="#1fffe0"/><stop offset="0.148" stop-color="#19ffe6"/><stop offset="0.173" stop-color="#09fff6"/><stop offset="0.198" stop-color="#08fff7"/><stop offset="0.222" stop-color="#21ffde"/><stop offset="0.247" stop-color="#36ffc9"/><stop offset="0.272" stop-color="#4affb5"/><stop offset="0.296" stop-color="#64ff9b"/><stop offset="0.321" stop-color="#80ff7f"/><stop offset="0.346" stop-color="#89ff76"/><stop offset="0.370" stop-color="#88ff77"/><stop offset="0.395" stop-color="#81ff7e"/><stop offset="0.420" stop-color="#81ff7e"/><stop offset="0.444" stop-color="#8cff73"/><stop offset="0.469" stop-color="#ccff33"/><stop offset="0.494" stop-color="#ffe800"/><stop offset="0.519" stop-color="#ffad00"/><stop offset="0.543" stop-color="#ff7a00"/><stop offset="0.568" stop-color="#ff5000"/><stop offset="0.593" stop-color="#ff4600"/><stop offset="0.617" stop-color="#ff4900"/><stop offset="0.642" stop-color="#ff5200"/><stop offset="0.667" stop-color="#ff6300"/><stop offset="0.691" stop-color="#ff7b00"/><stop offset="0.716" stop-color="#ff9500"/><stop offset="0.741" stop-color="#ffb200"/><stop offset="0.765" stop-color="#ffd200"/><stop offset="0.790" stop-color="#fff500"/><stop offset="0.815" stop-color="#dfff20"/><stop offset="0.840" stop-color="#acff53"/><stop offset="0.864" stop-color="#80ff7f"/><stop offset="0.889" stop-color="#61ff9e"/><stop offset="0.914" stop-color="#4bffb4"/><stop offset="0.938" stop-color="#23ffdc"/><stop offset="0.963" stop-color="#0dfff2"/><stop offset="0.988" stop-color="#0afff5"/><stop offset="1.000" stop-color="#0afff5"/></linearGradient><linearGradient id="g36"><stop offset="0.000" stop-color="#30ffcf"/><stop offset="0.025" stop-color="#3dffc2"/><stop offset="0.049" stop-color="#43ffbc"/><stop offset="0.074" stop-color="#3affc5"/><stop offset="0.099" stop-color="#2effd1"/><stop offset="0.123" stop-color="#28ffd7"/><stop offset="0.148" stop-color="#1fffe0"/><stop offset="0.173" stop-color="#12ffed"/><stop offset="0.198" stop-color="#0efff1"/><stop offset="0.222" stop-color="#23ffdc"/><stop offset="0.247" stop-color="#37ffc8"/><stop offset="0.272" stop-color="#4dffb2"/><stop offset="0.296" stop-color="#71ff8e"/><stop offset="0.321" stop-color="#9aff65"/><stop offset="0.346" stop-color="#a2ff5d"/><stop offset="0.370" stop-color="#93ff6c"/><stop offset="0.395" stop-color="#83ff7c"/><stop offset="0.420" stop-color="#81ff7e"/><stop offset="0.444" stop-color="#85ff7a"/><stop offset="0.469" stop-color="#a8ff57"/><stop offset="0.494" stop-color="#f4ff0b"/><stop offset="0.519" stop-color="#ffce00"/><stop offset="0.543" stop-color="#ffa000"/><stop offset="0.568" stop-color="#ff7f00"/><stop offset="0.593" stop-color="#ff7300"/><stop offset="0.617" stop-color="#ff7500"/><stop offset="0.642" stop-color="#ff7a00"/><stop offset="0.667" stop-color="#ff8500"/><stop offset="0.691" stop-color="#ff9500"/><stop offset="0.716" stop-color="#ffaa00"/><stop offset="0.741" stop-color="#ffc200"/><stop offset="0.765" stop-color="#ffdf00"/><stop offset="0.790" stop-color="#fdff02"/><stop offset="0.815" stop-color="#d5ff2a"/><stop offset="0.840" stop-color="#a4ff5b"/><stop offset="0.864" stop-color="#7cff83"/><stop offset="0.889" stop-color="#60ff9f"/><stop offset="0.914" stop-color="#4bffb4"/><stop offset="0.938" stop-color="#25ffda"/><stop offset="0.963" stop-color="#0ffff0"/><stop offset="0.988" stop-color="#0cfff3"/><stop offset="1.000" stop-color="#0bfff4"/></linearGradient><linearGradient id="g37"><stop offset="0.000" stop-color="#3cffc3"/><stop offset="0.025" stop-color="#4affb5"/><stop offset="0.049" stop-color="#50ffaf"/><stop offset="0.074" stop-color="#47ffb8"/><stop offset="0.099" stop-color="#3affc5"/><stop offset="0.123" stop-color="#31ffce"/><stop offset="0.148" stop-color="#26ffd9"/><stop offset="0.173" stop-color="#19ffe6"/><stop offset="0.198" stop-color="#13ffec"/><stop offset="0.222" stop-color="#24ffdb"/><stop offset="0.247" stop-color="#38ffc7"/><stop offset="0.272" stop-color="#52ffad"/><stop offset="0.296" stop-color="#86ff79"/><stop offset="0.321" stop-color="#c3ff3c"/><stop offset="0.346" stop-color="#c9ff36"/><stop offset="0.370" stop-color="#a4ff5b"/><stop offset="0.395" stop-color="#87ff78"/><stop offset="0.420" stop-color="#81ff7e"/><stop offset="0.444" stop-color="#83ff7c"/><stop offset="0.469" stop-color="#92ff6d"/><stop offset="0.494" stop-color="#d0ff2f"/><stop offset="0.519" stop-color="#fff000"/><stop offset="0.543" stop-color="#ffc200"/><stop offset="0.568" stop-color="#ffa300"/><stop offset="0.593" stop-color="#ff9600"/><stop offset="0.617" stop-color="#ff9700"/><stop offset="0.642" stop-color="#ff9a00"/><stop offset="0.667" stop-color="#ffa200"/><stop offset="0.691" stop-color="#ffae00"/><stop offset="0.716" stop-color="#ffbf00"/><stop offset="0.741" stop-color="#ffd400"/><stop offset="0.765" stop-color="#ffef00"/><stop offset="0.790" stop-color="#efff10"/><stop offset="0.815" stop-color="#c9ff36"/><stop offset="0.840" stop-color="#9bff64"/><stop offset="0.864" stop-color="#78ff87"/><stop offset="0.889" stop-color="#5fffa0"/><stop offset="0.914" stop-color="#4affb5"/><stop offset="0.938" stop-color="#25ffda"/><stop offset="0.963" stop-color="#11ffee"/><stop offset="0.988" stop-color="#0dfff2"/><stop offset="1.000" stop-color="#0bfff4"/></linearGradient><linearGradient id="g38"><stop offset="0.000" stop-color="#47ffb8"/><stop offset="0.025" stop-color="#56ffa9"/><stop offset="0.049" stop-color="#5bffa4"/><stop offset="0.074" stop-color="#52ffad"/><stop offset="0.099" stop-color="#45ffba"/><stop offset="0.123" stop-color="#38ffc7"/><stop offset="0.148" stop-color="#2bffd4"/><stop offset="0.173" stop-color="#1effe1"/><stop offset="0.198" stop-color="#16ffe9"/><stop offset="0.222" stop-color="#26ffd9"/><stop offset="0.247" stop-color="#39ffc6"/><stop offset="0.272" stop-color="#59ffa6"/><stop offset="0.296" stop-color="#a2ff5d"/><stop offset="0.321" stop-color="#faff05"/><stop offset="0.346" stop-color="#fcff03"/><stop offset="0.370" stop-color="#bbff44"/><stop offset="0.395" stop-color="#8cff73"/><stop offset="0.420" stop-color="#81ff7e"/><stop offset="0.444" stop-color="#81ff7e"/><stop offset="0.469" stop-color="#88ff77"/><stop offset="0.494" stop-color="#aaff55"/><stop offset="0.519" stop-color="#ebff14"/><stop offset="0.543" stop-color="#ffe300"/><stop offset="0.568" stop-color="#ffc400"/><stop offset="0.593" stop-color="#ffb500"/><stop offset="0.617" stop-color="#ffb500"/><stop offset="0.642" stop-color="#ffb700"/><stop offset="0.667" stop-color="#ffbd00"/><stop offset="0.691" stop-color="#ffc700"/><stop offset="0.716" stop-color="#ffd500"/><stop offset="0.741" stop-color="#ffe800"/><stop offset="0.765" stop-color="#fdff02"/><stop offset="0.790" stop-color="#dfff20"/><stop offset="0.815" stop-color="#b9ff46"/><stop offset="0.840" stop-color="#91ff6e"/><stop offset="0.864" stop-color="#74ff8b"/><stop offset="0.889" stop-color="#5dffa2"/><stop offset="0.914" stop-color="#4affb5"/><stop offset="0.938" stop-color="#25ffda"/><stop offset="0.963" stop-color="#12ffed"/><stop offset="0.988" stop-color="#0dfff2"/><stop offset="1.000" stop-color="#0cfff3"/></linearGradient><linearGradient id="g39"><stop offset="0.000" stop-color="#51ffae"/><stop offset="0.025" stop-color="#60ff9f"/><stop offset="0.049" stop-color="#65ff9a"/><stop offset="0.074" stop-color="#5bffa4"/><stop offset="0.099" stop-color="#4dffb2"/><stop offset="0.123" stop-color="#3effc1"/><stop offset="0.148" stop-color="#2fffd0"/><stop offset="0.173" stop-color="#22ffdd"/><stop offset="0.198" stop-color="#19ffe6"/><stop offset="0.222" stop-color="#26ffd9"/><stop offset="0.247" stop-color="#3affc5"/><stop offset="0.272" stop-color="#60ff9f"/><stop offset="0.296" stop-color="#beff41"/><stop offset="0.321" stop-color="#ffcb00"/><stop offset="0.346" stop-color="#ffcc00"/><stop offset="0.370" stop-color="#d3ff2c"/><stop offset="0.395" stop-color="#91ff6e"/><stop offset="0.420" stop-color="#82ff7d"/><stop offset="0.444" stop-color="#81ff7e"/><stop offset="0.469" stop-color="#84ff7b"/><stop offset="0.494" stop-color="#92ff6d"/><stop offset="0.519" stop-color="#c5ff3a"/><stop offset="0.543" stop-color="#f8ff07"/><stop offset="0.568" stop-color="#ffe400"/><stop offset="0.593" stop-color="#ffd300"/><stop offset="0.617" stop-color="#ffd200"/><stop offset="0.642" stop-color="#ffd300"/><stop offset="0.667" stop-color="#ffd800"/><stop offset="0.691" stop-color="#ffe000"/><stop offset="0.716" stop-color="#ffec00"/><stop offset="0.741" stop-color="#fffe00"/><stop offset="0.765" stop-color="#e9ff16"/><stop offset="0.790" stop-color="#cdff32"/><stop offset="0.815" stop-color="#a9ff56"/><stop offset="0.840" stop-color="#88ff77"/><stop offset="0.864" stop-color="#70ff8f"/><stop offset="0.889" stop-color="#5bffa4"/><stop offset="0.914" stop-color="#49ffb6"/><stop offset="0.938" stop-color="#25ffda"/><stop offset="0.963" stop-color="#12ffed"/><stop offset="0.988" stop-color="#0efff1"/><stop offset="1.000" stop-color="#0cfff3"/></linearGradient><linearGradient id="g40"><stop offset="0.000" stop-color="#56ffa9"/><stop offset="0.025" stop-color="#65ff9a"/><stop offset="0.049" stop-color="#6aff95"/><stop offset="0.074" stop-color="#60ff9f"/><stop offset="0.099" stop-color="#51ffae"/><stop offset="0.123" stop-color="#41ffbe"/><stop offset="0.148" stop-color="#32ffcd"/><stop offset="0.173" stop-color="#24ffdb"/><stop offset="0.198" stop-color="#1affe5"/><stop offset="0.222" stop-color="#27ffd8"/><stop offset="0.247" stop-color="#3bffc4"/><stop offset="0.272" stop-color="#65ff9a"/><stop offset="0.296" stop-color="#d4ff2b"/><stop offset="0.321" stop-color="#ffa000"/><stop offset="0.346" stop-color="#ffa300"/><stop offset="0.370" stop-color="#e6ff19"/><stop offset="0.395" stop-color="#95ff6a"/><stop offset="0.420" stop-color="#82ff7d"/><stop offset="0.444" stop-color="#81ff7e"/><stop offset="0.469" stop-color="#82ff7d"/><stop offset="0.494" stop-color="#88ff77"/><stop offset="0.519" stop-color="#a1ff5e"/><stop offset="0.543" stop-color="#d4ff2b"/><stop offset="0.568" stop-color="#f8ff07"/><stop offset="0.593" stop-color="#fff200"/><stop offset="0.617" stop-color="#ffef00"/><stop offset="0.642" stop-color="#fff000"/><stop offset="0.667" stop-color="#fff400"/><stop offset="0.691" stop-color="#fffb00"/><stop offset="0.716" stop-color="#f8ff07"/><stop offset="0.741" stop-color="#e8ff17"/><stop offset="0.765" stop-color="#d3ff2c"/><stop offset="0.790" stop-color="#b8ff47"/><stop offset="0.815" stop-color="#9aff65"/><stop offset="0.840" stop-color="#80ff7f"/><stop offset="0.864" stop-color="#6cff93"/><stop offset="0.889" stop-color="#5affa5"/><stop offset="0.914" stop-color="#48ffb7"/><stop offset="0.938" stop-color="#25ffda"/><stop offset="0.963" stop-color="#12ffed"/><stop offset="0.988" stop-color="#0efff1"/><stop offset="1.000" stop-color="#0cfff3"/></linearGradient><linearGradient id="g41"><stop offset="0.000" stop-color="#56ffa9"/><stop offset="0.025" stop-color="#65ff9a"/><stop offset="0.049" stop-color="#6bff94"/><stop offset="0.074" stop-color="#60ff9f"/><stop offset="0.099" stop-color="#51ffae"/><stop offset="0.123" stop-color="#41ffbe"/><stop offset="0.148" stop-color="#32ffcd"/><stop offset="0.173" stop-color="#25ffda"/><stop offset="0.198" stop-color="#1affe5"/><stop offset="0.222" stop-color="#27ffd8"/><stop offset="0.247" stop-color="#3bffc4"/><stop offset="0.272" stop-color="#67ff98"/><stop offset="0.296" stop-color="#dcff23"/><stop offset="0.321" stop-color="#ff9100"/><stop offset="0.346" stop-color="#ff9500"/><stop offset="0.370" stop-color="#ecff13"/><stop offset="0.395" stop-color="#96ff69"/><stop offset="0.420" stop-color="#82ff7d"/><stop offset="0.444" stop-color="#81ff7e"/><stop offset="0.469" stop-color="#82ff7d"/><stop offset="0.494" stop-color="#85ff7a"/><stop offset="0.519" stop-color="#8fff70"/><stop offset="0.543" stop-color="#adff52"/><stop offset="0.568" stop-color="#d5ff2a"/><stop offset="0.593" stop-color="#ebff14"/><stop offset="0.617" stop-color="#f0ff0f"/><stop offset="0.642" stop-color="#f0ff0f"/><stop offset="0.667" stop-color="#edff12"/><stop offset="0.691" stop-color="#e7ff18"/><stop offset="0.716" stop-color="#ddff22"/><stop offset="0.741" stop-color="#ceff31"/><stop offset="0.765" stop-color="#bbff44"/><stop offset="0.790" stop-color="#a5ff5a"/><stop offset="0.815" stop-color="#8eff71"/><stop offset="0.840" stop-color="#79ff86"/><stop offset="0.864" stop-color="#69ff96"/><stop offset="0.889" stop-color="#58ffa7"/><stop offset="0.914" stop-color="#48ffb7"/><stop offset="0.938" stop-color="#24ffdb"/><stop offset="0.963" stop-color="#12ffed"/><stop offset="0.988" stop-color="#0efff1"/><stop offset="1.000" stop-color="#0cfff3"/></linearGradient><filter id="f41" x="403.8" y="258.4" width="208.50" height="83.70" filterUnits="userSpaceOnUse"><feGaussianBlur stdDeviation="0.4 0.9" edgeMode="duplicate"/></filter><linearGradient id="g42" x1="0" y1="0" x2="0" y2="1"><stop offset="0.000" stop-color="#800000"/><stop offset="0.025" stop-color="#990000"/><stop offset="0.050" stop-color="#b30000"/><stop offset="0.075" stop-color="#cc0000"/><stop offset="0.100" stop-color="#e50000"/><stop offset="0.125" stop-color="#ff0000"/><stop offset="0.150" stop-color="#ff1a00"/><stop offset="0.175" stop-color="#ff3300"/><stop offset="0.200" stop-color="#ff4c00"/><stop offset="0.225" stop-color="#ff6600"/><stop offset="0.250" stop-color="#ff8000"/><stop offset="0.275" stop-color="#ff9900"/><stop offset="0.300" stop-color="#ffb300"/><stop offset="0.325" stop-color="#ffcc00"/><stop offset="0.350" stop-color="#ffe500"/><stop offset="0.375" stop-color="#ffff00"/><stop offset="0.400" stop-color="#e5ff1a"/><stop offset="0.425" stop-color="#ccff33"/><stop offset="0.450" stop-color="#b3ff4c"/><stop offset="0.475" stop-color="#99ff66"/><stop offset="0.500" stop-color="#80ff80"/><stop offset="0.525" stop-color="#66ff99"/><stop offset="0.550" stop-color="#4cffb3"/><stop offset="0.575" stop-color="#33ffcc"/><stop offset="0.600" stop-color="#1affe5"/><stop offset="0.625" stop-color="#00ffff"/><stop offset="0.650" stop-color="#00e5ff"/><stop offset="0.675" stop-color="#00ccff"/><stop offset="0.700" stop-color="#00b3ff"/><stop offset="0.725" stop-color="#0099ff"/><stop offset="0.750" stop-color="#0080ff"/><stop offset="0.775" stop-color="#0066ff"/><stop offset="0.800" stop-color="#004cff"/><stop offset="0.825" stop-color="#0033ff"/><stop offset="0.850" stop-color="#001aff"/><stop offset="0.875" stop-color="#0000ff"/><stop offset="0.900" stop-color="#0000e5"/><stop offset="0.925" stop-color="#0000cc"/><stop offset="0.950" stop-color="#0000b3"/><stop offset="0.975" stop-color="#000099"/><stop offset="1.000" stop-color="#000080"/></linearGradient><clipPath id="c43"><rect x="406.8" y="370.3" width="202.50" height="77.20"/></clipPath><linearGradient id="g44"><stop offset="0.000" stop-color="#16ffe9"/><stop offset="0.025" stop-color="#28ffd7"/><stop offset="0.049" stop-color="#35ffca"/><stop offset="0.074" stop-color="#35ffca"/><stop offset="0.099" stop-color="#37ffc8"/><stop offset="0.123" stop-color="#3affc5"/><stop offset="0.148" stop-color="#3dffc2"/><stop offset="0.173" stop-color="#44ffbb"/><stop offset="0.198" stop-color="#4fffb0"/><stop offset="0.222" stop-color="#6aff95"/><stop offset="0.247" stop-color="#8dff72"/><stop offset="0.272" stop-color="#afff50"/><stop offset="0.296" stop-color="#b5ff4a"/><stop offset="0.321" stop-color="#bcff43"/><stop offset="0.346" stop-color="#c2ff3d"/><stop offset="0.370" stop-color="#caff35"/><stop offset="0.395" stop-color="#daff25"/><stop offset="0.420" stop-color="#f3ff0c"/><stop offset="0.444" stop-color="#fff700"/><stop offset="0.469" stop-color="#ffee00"/><stop offset="0.494" stop-color="#ffec00"/><stop offset="0.519" stop-color="#ffec00"/><stop offset="0.543" stop-color="#fff100"/><stop offset="0.568" stop-color="#fcff03"/><stop offset="0.593" stop-color="#e5ff1a"/><stop offset="0.617" stop-color="#cdff32"/><stop offset="0.642" stop-color="#bbff44"/><stop offset="0.667" stop-color="#b2ff4d"/><stop offset="0.691" stop-color="#adff52"/><stop offset="0.716" stop-color="#aaff55"/><stop offset="0.741" stop-color="#a8ff57"/><stop offset="0.765" stop-color="#a2ff5d"/><stop offset="0.790" stop-color="#91ff6e"/><stop offset="0.815" stop-color="#7eff81"/><stop offset="0.840" stop-color="#6aff95"/><stop offset="0.864" stop-color="#55ffaa"/><stop offset="0.889" stop-color="#41ffbe"/><stop offset="0.914" stop-color="#3affc5"/><stop offset="0.938" stop-color="#34ffcb"/><stop offset="0.963" stop-color="#38ffc7"/><stop offset="0.988" stop-color="#3effc1"/><stop offset="1.000" stop-color="#41ffbe"/></linearGradient><linearGradient id="g45"><stop offset="0.000" stop-color="#14ffeb"/><stop offset="0.025" stop-color="#26ffd9"/><stop offset="0.049" stop-color="#31ffce"/><stop offset="0.074" stop-color="#30ffcf"/><stop offset="0.099" stop-color="#32ffcd"/><stop offset="0.123" stop-color="#36ffc9"/><stop offset="0.148" stop-color="#39ffc6"/><stop offset="0.173" stop-color="#41ffbe"/><stop offset="0.198" stop-color="#4cffb3"/><stop offset="0.222" stop-color="#66ff99"/><stop offset="0.247" stop-color="#88ff77"/><stop offset="0.272" stop-color="#aaff55"/><stop offset="0.296" stop-color="#b1ff4e"/><stop offset="0.321" stop-color="#b8ff47"/><stop offset="0.346" stop-color="#beff41"/><stop offset="0.370" stop-color="#c7ff38"/><stop offset="0.395" stop-color="#deff21"/><stop offset="0.420" stop-color="#ffff00"/><stop offset="0.444" stop-color="#ffe400"/><stop offset="0.469" stop-color="#ffd800"/><stop offset="0.494" stop-color="#ffd500"/><stop offset="0.519" stop-color="#ffd500"/><stop offset="0.543" stop-color="#ffda00"/><stop offset="0.568" stop-color="#ffed00"/><stop offset="0.593" stop-color="#f6ff09"/><stop offset="0.617" stop-color="#d8ff27"/><stop offset="0.642" stop-color="#c1ff3e"/><stop offset="0.667" stop-color="#b3ff4c"/><stop offset="0.691" stop-color="#acff53"/><stop offset="0.716" stop-color="#a8ff57"/><stop offset="0.741" stop-color="#a6ff59"/><stop offset="0.765" stop-color="#9fff60"/><stop offset="0.790" stop-color="#8fff70"/><stop offset="0.815" stop-color="#7cff83"/><stop offset="0.840" stop-color="#67ff98"/><stop offset="0.864" stop-color="#51ffae"/><stop offset="0.889" stop-color="#3dffc2"/><stop offset="0.914" stop-color="#36ffc9"/><stop offset="0.938" stop-color="#30ffcf"/><stop offset="0.963" stop-color="#33ffcc"/><stop offset="0.988" stop-color="#3affc5"/><stop offset="1.000" stop-color="#3dffc2"/></linearGradient><linearGradient id="g46"><stop offset="0.000" stop-color="#13ffec"/><stop offset="0.025" stop-color="#22ffdd"/><stop offset="0.049" stop-color="#2cffd3"/><stop offset="0.074" stop-color="#2bffd4"/><stop offset="0.099" stop-color="#2effd1"/><stop offset="0.123" stop-color="#32ffcd"/><stop offset="0.148" stop-color="#36ffc9"/><stop offset="0.173" stop-color="#3effc1"/><stop offset="0.198" stop-color="#49ffb6"/><stop offset="0.222" stop-color="#62ff9d"/><stop offset="0.247" stop-color="#84ff7b"/><stop offset="0.272" stop-color="#a5ff5a"/><stop offset="0.296" stop-color="#acff53"/><stop offset="0.321" stop-color="#b3ff4c"/><stop offset="0.346" stop-color="#baff45"/><stop offset="0.370" stop-color="#c6ff39"/><stop offset="0.395" stop-color="#e2ff1d"/><stop offset="0.420" stop-color="#fff100"/><stop offset="0.444" stop-color="#ffcf00"/><stop offset="0.469" stop-color="#ffbf00"/><stop offset="0.494" stop-color="#ffbc00"/><stop offset="0.519" stop-color="#ffbb00"/><stop offset="0.543" stop-color="#ffc100"/><stop offset="0.568" stop-color="#ffd500"/><stop offset="0.593" stop-color="#fff400"/><stop offset="0.617" stop-color="#e8ff17"/><stop offset="0.642" stop-color="#c9ff36"/><stop offset="0.667" stop-color="#b5ff4a"/><stop offset="0.691" stop-color="#acff53"/><stop offset="0.716" stop-color="#a7ff58"/><stop offset="0.741" stop-color="#a4ff5b"/><stop offset="0.765" stop-color="#9dff62"/><stop offset="0.790" stop-color="#8cff73"/><stop offset="0.815" stop-color="#79ff86"/><stop offset="0.840" stop-color="#64ff9b"/><stop offset="0.864" stop-color="#4effb1"/><stop offset="0.889" stop-color="#39ffc6"/><stop offset="0.914" stop-color="#31ffce"/><stop offset="0.938" stop-color="#2bffd4"/><stop offset="0.963" stop-color="#2fffd0"/><stop offset="0.988" stop-color="#36ffc9"/><stop offset="1.000" stop-color="#39ffc6"/></linearGradient><linearGradient id="g47"><stop offset="0.000" stop-color="#12ffed"/><stop offset="0.025" stop-color="#1fffe0"/><stop offset="0.049" stop-color="#27ffd8"/><stop offset="0.074" stop-color="#25ffda"/><stop offset="0.099" stop-color="#28ffd7"/><stop offset="0.123" stop-color="#2effd1"/><stop offset="0.148" stop-color="#33ffcc"/><stop offset="0.173" stop-color="#3bffc4"/><stop offset="0.198" stop-color="#45ffba"/><stop offset="0.222" stop-color="#5effa1"/><stop offset="0.247" stop-color="#7fff80"/><stop offset="0.272" stop-color="#a0ff5f"/><stop offset="0.296" stop-color="#a7ff58"/><stop offset="0.321" stop-color="#afff50"/><stop offset="0.346" stop-color="#b6ff49"/><stop offset="0.370" stop-color="#c4ff3b"/><stop offset="0.395" stop-color="#e7ff18"/><stop offset="0.420" stop-color="#ffe300"/><stop offset="0.444" stop-color="#ffb800"/><stop offset="0.469" stop-color="#ffa500"/><stop offset="0.494" stop-color="#ffa000"/><stop offset="0.519" stop-color="#ffa000"/><stop offset="0.543" stop-color="#ffa600"/><stop offset="0.568" stop-color="#ffbc00"/><stop offset="0.593" stop-color="#ffdd00"/><stop offset="0.617" stop-color="#faff05"/><stop offset="0.642" stop-color="#d5ff2a"/><stop offset="0.667" stop-color="#baff45"/><stop offset="0.691" stop-color="#acff53"/><stop offset="0.716" stop-color="#a6ff59"/><stop offset="0.741" stop-color="#a2ff5d"/><stop offset="0.765" stop-color="#9bff64"/><stop offset="0.790" stop-color="#8aff75"/><stop offset="0.815" stop-color="#76ff89"/><stop offset="0.840" stop-color="#60ff9f"/><stop offset="0.864" stop-color="#4affb5"/><stop offset="0.889" stop-color="#35ffca"/><stop offset="0.914" stop-color="#2cffd3"/><stop offset="0.938" stop-color="#26ffd9"/><stop offset="0.963" stop-color="#2affd5"/><stop offset="0.988" stop-color="#31ffce"/><stop offset="1.000" stop-color="#35ffca"/></linearGradient><linearGradient id="g48"><stop offset="0.000" stop-color="#10ffef"/><stop offset="0.025" stop-color="#1bffe4"/><stop offset="0.049" stop-color="#22ffdd"/><stop offset="0.074" stop-color="#1fffe0"/><stop offset="0.099" stop-color="#23ffdc"/><stop offset="0.123" stop-color="#2affd5"/><stop offset="0.148" stop-color="#2fffd0"/><stop offset="0.173" stop-color="#37ffc8"/><stop offset="0.198" stop-color="#41ffbe"/><stop offset="0.222" stop-color="#5affa5"/><stop offset="0.247" stop-color="#7bff84"/><stop offset="0.272" stop-color="#9bff64"/><stop offset="0.296" stop-color="#a3ff5c"/><stop offset="0.321" stop-color="#abff54"/><stop offset="0.346" stop-color="#b3ff4c"/><stop offset="0.370" stop-color="#c3ff3c"/><stop offset="0.395" stop-color="#edff12"/><stop offset="0.420" stop-color="#ffd500"/><stop offset="0.444" stop-color="#ffa200"/><stop offset="0.469" stop-color="#ff8900"/><stop offset="0.494" stop-color="#ff8300"/><stop offset="0.519" stop-color="#ff8300"/><stop offset="0.543" stop-color="#ff8900"/><stop offset="0.568" stop-color="#ffa000"/><stop offset="0.593" stop-color="#ffc400"/><stop offset="0.617" stop-color="#ffef00"/><stop offset="0.642" stop-color="#e5ff1a"/><stop offset="0.667" stop-color="#c3ff3c"/><stop offset="0.691" stop-color="#afff50"/><stop offset="0.716" stop-color="#a6ff59"/><stop offset="0.741" stop-color="#a1ff5e"/><stop offset="0.765" stop-color="#99ff66"/><stop offset="0.790" stop-color="#88ff77"/><stop offset="0.815" stop-color="#74ff8b"/><stop offset="0.840" stop-color="#5dffa2"/><stop offset="0.864" stop-color="#46ffb9"/><stop offset="0.889" stop-color="#30ffcf"/><stop offset="0.914" stop-color="#27ffd8"/><stop offset="0.938" stop-color="#20ffdf"/><stop offset="0.963" stop-color="#24ffdb"/><stop offset="0.988" stop-color="#2cffd3"/><stop offset="1.000" stop-color="#30ffcf"/></linearGradient><linearGradient id="g49"><stop offset="0.000" stop-color="#0efff1"/><stop offset="0.025" stop-color="#18ffe7"/><stop offset="0.049" stop-color="#1cffe3"/><stop offset="0.074" stop-color="#19ffe6"/><stop offset="0.099" stop-color="#1dffe2"/><stop offset="0.123" stop-color="#26ffd9"/><stop offset="0.148" stop-color="#2bffd4"/><stop offset="0.173" stop-color="#33ffcc"/><stop offset="0.198" stop-color="#3dffc2"/><stop offset="0.222" stop-color="#55ffaa"/><stop offset="0.247" stop-color="#76ff89"/><stop offset="0.272" stop-color="#96ff69"/><stop offset="0.296" stop-color="#9eff61"/><stop offset="0.321" stop-color="#a6ff59"/><stop offset="0.346" stop-color="#afff50"/><stop offset="0.370" stop-color="#c2ff3d"/><stop offset="0.395" stop-color="#f2ff0d"/><stop offset="0.420" stop-color="#ffc700"/><stop offset="0.444" stop-color="#ff8b00"/><stop offset="0.469" stop-color="#ff6b00"/><stop offset="0.494" stop-color="#ff6300"/><stop offset="0.519" stop-color="#ff6200"/><stop offset="0.543" stop-color="#ff6a00"/><stop offset="0.568" stop-color="#ff8400"/><stop offset="0.593" stop-color="#ffaa00"/><stop offset="0.617" stop-color="#ffd800"/><stop offset="0.642" stop-color="#f7ff08"/><stop offset="0.667" stop-color="#ceff31"/><stop offset="0.691" stop-color="#b3ff4c"/><stop offset="0.716" stop-color="#a6ff59"/><stop offset="0.741" stop-color="#a0ff5f"/><stop offset="0.765" stop-color="#97ff68"/><stop offset="0.790" stop-color="#85ff7a"/><stop offset="0.815" stop-color="#71ff8e"/><stop offset="0.840" stop-color="#5affa5"/><stop offset="0.864" stop-color="#41ffbe"/><stop offset="0.889" stop-color="#2bffd4"/><stop offset="0.914" stop-color="#21ffde"/><stop offset="0.938" stop-color="#1affe5"/><stop offset="0.963" stop-color="#1fffe0"/><stop offset="0.988" stop-color="#27ffd8"/><stop offset="1.000" stop-color="#2bffd4"/></linearGradient><linearGradient id="g50"><stop offset="0.000" stop-color="#0dfff2"/><stop offset="0.025" stop-color="#14ffeb"/><stop offset="0.049" stop-color="#16ffe9"/><stop offset="0.074" stop-color="#12ffed"/><stop offset="0.099" stop-color="#17ffe8"/><stop offset="0.123" stop-color="#21ffde"/><stop offset="0.148" stop-color="#27ffd8"/><stop offset="0.173" stop-color="#2fffd0"/><stop offset="0.198" stop-color="#38ffc7"/><stop offset="0.222" stop-color="#50ffaf"/><stop offset="0.247" stop-color="#71ff8e"/><stop offset="0.272" stop-color="#91ff6e"/><stop offset="0.296" stop-color="#99ff66"/><stop offset="0.321" stop-color="#a2ff5d"/><stop offset="0.346" stop-color="#acff53"/><stop offset="0.370" stop-color="#c1ff3e"/><stop offset="0.395" stop-color="#f6ff09"/><stop offset="0.420" stop-color="#ffbb00"/><stop offset="0.444" stop-color="#ff7500"/><stop offset="0.469" stop-color="#ff4800"/><stop offset="0.494" stop-color="#ff3d00"/><stop offset="0.519" stop-color="#ff3c00"/><stop offset="0.543" stop-color="#ff4400"/><stop offset="0.568" stop-color="#ff6400"/><stop offset="0.593" stop-color="#ff8f00"/><stop offset="0.617" stop-color="#ffc000"/><stop offset="0.642" stop-color="#fff300"/><stop offset="0.667" stop-color="#ddff22"/><stop offset="0.691" stop-color="#bbff44"/><stop offset="0.716" stop-color="#a8ff57"/><stop offset="0.741" stop-color="#9fff60"/><stop offset="0.765" stop-color="#95ff6a"/><stop offset="0.790" stop-color="#83ff7c"/><stop offset="0.815" stop-color="#6eff91"/><stop offset="0.840" stop-color="#56ffa9"/><stop offset="0.864" stop-color="#3dffc2"/><stop offset="0.889" stop-color="#25ffda"/><stop offset="0.914" stop-color="#1bffe4"/><stop offset="0.938" stop-color="#13ffec"/><stop offset="0.963" stop-color="#19ffe6"/><stop offset="0.988" stop-color="#22ffdd"/><stop offset="1.000" stop-color="#27ffd8"/></linearGradient><linearGradient id="g51"><stop offset="0.000" stop-color="#0bfff4"/><stop offset="0.025" stop-color="#0ffff0"/><stop offset="0.049" stop-color="#0ffff0"/><stop offset="0.074" stop-color="#0bfff4"/><stop offset="0.099" stop-color="#11ffee"/><stop offset="0.123" stop-color="#1cffe3"/><stop offset="0.148" stop-color="#23ffdc"/><stop offset="0.173" stop-color="#2affd5"/><stop offset="0.198" stop-color="#33ffcc"/><stop offset="0.222" stop-color="#4bffb4"/><stop offset="0.247" stop-color="#6cff93"/><stop offset="0.272" stop-color="#8bff74"/><stop offset="0.296" stop-color="#95ff6a"/><stop offset="0.321" stop-color="#9eff61"/><stop offset="0.346" stop-color="#a8ff57"/><stop offset="0.370" stop-color="#c0ff3f"/><stop offset="0.395" stop-color="#faff05"/><stop offset="0.420" stop-color="#ffb000"/><stop offset="0.444" stop-color="#ff5d00"/><stop offset="0.469" stop-color="#ff2600"/><stop offset="0.494" stop-color="#ff1900"/><stop offset="0.519" stop-color="#ff1800"/><stop offset="0.543" stop-color="#ff2000"/><stop offset="0.568" stop-color="#ff3f00"/><stop offset="0.593" stop-color="#ff7200"/><stop offset="0.617" stop-color="#ffa700"/><stop offset="0.642" stop-color="#ffde00"/><stop offset="0.667" stop-color="#eeff11"/><stop offset="0.691" stop-color="#c5ff3a"/><stop offset="0.716" stop-color="#abff54"/><stop offset="0.741" stop-color="#9fff60"/><stop offset="0.765" stop-color="#94ff6b"/><stop offset="0.790" stop-color="#81ff7e"/><stop offset="0.815" stop-color="#6bff94"/><stop offset="0.840" stop-color="#53ffac"/><stop offset="0.864" stop-color="#38ffc7"/><stop offset="0.889" stop-color="#1fffe0"/><stop offset="0.914" stop-color="#14ffeb"/><stop offset="0.938" stop-color="#0dfff2"/><stop offset="0.963" stop-color="#12ffed"/><stop offset="0.988" stop-color="#1cffe3"/><stop offset="1.000" stop-color="#22ffdd"/></linearGradient><linearGradient id="g52"><stop offset="0.000" stop-color="#09fff6"/><stop offset="0.025" stop-color="#0bfff4"/><stop offset="0.049" stop-color="#08fff7"/><stop offset="0.074" stop-color="#03fffc"/><stop offset="0.099" stop-color="#0afff5"/><stop offset="0.123" stop-color="#17ffe8"/><stop offset="0.148" stop-color="#1effe1"/><stop offset="0.173" stop-color="#24ffdb"/><stop offset="0.198" stop-color="#2dffd2"/><stop offset="0.222" stop-color="#45ffba"/><stop offset="0.247" stop-color="#66ff99"/><stop offset="0.272" stop-color="#86ff79"/><stop offset="0.296" stop-color="#90ff6f"/><stop offset="0.321" stop-color="#99ff66"/><stop offset="0.346" stop-color="#a5ff5a"/><stop offset="0.370" stop-color="#c0ff3f"/><stop offset="0.395" stop-color="#feff01"/><stop offset="0.420" stop-color="#ffa700"/><stop offset="0.444" stop-color="#ff4600"/><stop offset="0.469" stop-color="#ff0a00"/><stop offset="0.494" stop-color="#fe0000"/><stop offset="0.519" stop-color="#fe0000"/><stop offset="0.543" stop-color="#ff0300"/><stop offset="0.568" stop-color="#ff1c00"/><stop offset="0.593" stop-color="#ff5000"/><stop offset="0.617" stop-color="#ff8d00"/><stop offset="0.642" stop-color="#ffc700"/><stop offset="0.667" stop-color="#fffe00"/><stop offset="0.691" stop-color="#d2ff2d"/><stop offset="0.716" stop-color="#b1ff4e"/><stop offset="0.741" stop-color="#a0ff5f"/><stop offset="0.765" stop-color="#93ff6c"/><stop offset="0.790" stop-color="#7fff80"/><stop offset="0.815" stop-color="#69ff96"/><stop offset="0.840" stop-color="#4fffb0"/><stop offset="0.864" stop-color="#34ffcb"/><stop offset="0.889" stop-color="#19ffe6"/><stop offset="0.914" stop-color="#0dfff2"/><stop offset="0.938" stop-color="#05fffa"/><stop offset="0.963" stop-color="#0cfff3"/><stop offset="0.988" stop-color="#17ffe8"/><stop offset="1.000" stop-color="#1cffe3"/></linearGradient><linearGradient id="g53"><stop offset="0.000" stop-color="#07fff8"/><stop offset="0.025" stop-color="#07fff8"/><stop offset="0.049" stop-color="#02fffd"/><stop offset="0.074" stop-color="#00fbff"/><stop offset="0.099" stop-color="#04fffb"/><stop offset="0.123" stop-color="#11ffee"/><stop offset="0.148" stop-color="#19ffe6"/><stop offset="0.173" stop-color="#1fffe0"/><stop offset="0.198" stop-color="#26ffd9"/><stop offset="0.222" stop-color="#3effc1"/><stop offset="0.247" stop-color="#61ff9e"/><stop offset="0.272" stop-color="#81ff7e"/><stop offset="0.296" stop-color="#8bff74"/><stop offset="0.321" stop-color="#95ff6a"/><stop offset="0.346" stop-color="#a2ff5d"/><stop offset="0.370" stop-color="#bfff40"/><stop offset="0.395" stop-color="#fffe00"/><stop offset="0.420" stop-color="#ffa000"/><stop offset="0.444" stop-color="#ff3200"/><stop offset="0.469" stop-color="#f80000"/><stop offset="0.494" stop-color="#ed0000"/><stop offset="0.519" stop-color="#ec0000"/><stop offset="0.543" stop-color="#f00000"/><stop offset="0.568" stop-color="#ff0100"/><stop offset="0.593" stop-color="#ff2d00"/><stop offset="0.617" stop-color="#ff7100"/><stop offset="0.642" stop-color="#ffaf00"/><stop offset="0.667" stop-color="#ffeb00"/><stop offset="0.691" stop-color="#e0ff1f"/><stop offset="0.716" stop-color="#baff45"/><stop offset="0.741" stop-color="#a2ff5d"/><stop offset="0.765" stop-color="#93ff6c"/><stop offset="0.790" stop-color="#7eff81"/><stop offset="0.815" stop-color="#66ff99"/><stop offset="0.840" stop-color="#4cffb3"/><stop offset="0.864" stop-color="#2fffd0"/><stop offset="0.889" stop-color="#13ffec"/><stop offset="0.914" stop-color="#06fff9"/><stop offset="0.938" stop-color="#00fdff"/><stop offset="0.963" stop-color="#05fffa"/><stop offset="0.988" stop-color="#11ffee"/><stop offset="1.000" stop-color="#17ffe8"/></linearGradient><linearGradient id="g54"><stop offset="0.000" stop-color="#05fffa"/><stop offset="0.025" stop-color="#02fffd"/><stop offset="0.049" stop-color="#00faff"/><stop offset="0.074" stop-color="#00f3ff"/><stop offset="0.099" stop-color="#00fcff"/><stop offset="0.123" stop-color="#0cfff3"/><stop offset="0.148" stop-color="#14ffeb"/><stop offset="0.173" stop-color="#19ffe6"/><stop offset="0.198" stop-color="#1fffe0"/><stop offset="0.222" stop-color="#37ffc8"/><stop offset="0.247" stop-color="#5bffa4"/><stop offset="0.272" stop-color="#7bff84"/><stop offset="0.296" stop-color="#86ff79"/><stop offset="0.321" stop-color="#91ff6e"/><stop offset="0.346" stop-color="#9eff61"/><stop offset="0.370" stop-color="#beff41"/><stop offset="0.395" stop-color="#fffc00"/><stop offset="0.420" stop-color="#ff9a00"/><stop offset="0.444" stop-color="#ff2300"/><stop offset="0.469" stop-color="#eb0000"/><stop offset="0.494" stop-color="#df0000"/><stop offset="0.519" stop-color="#de0000"/><stop offset="0.543" stop-color="#e10000"/><stop offset="0.568" stop-color="#ef0000"/><stop offset="0.593" stop-color="#ff0f00"/><stop offset="0.617" stop-color="#ff5100"/><stop offset="0.642" stop-color="#ff9800"/><stop offset="0.667" stop-color="#ffd600"/><stop offset="0.691" stop-color="#f0ff0f"/><stop offset="0.716" stop-color="#c4ff3b"/><stop offset="0.741" stop-color="#a7ff58"/><stop offset="0.765" stop-color="#94ff6b"/><stop offset="0.790" stop-color="#7dff82"/><stop offset="0.815" stop-color="#64ff9b"/><stop offset="0.840" stop-color="#48ffb7"/><stop offset="0.864" stop-color="#2affd5"/><stop offset="0.889" stop-color="#0dfff2"/><stop offset="0.914" stop-color="#00feff"/><stop offset="0.938" stop-color="#00f5ff"/><stop offset="0.963" stop-color="#00fcff"/><stop offset="0.988" stop-color="#0bfff4"/><stop offset="1.000" stop-color="#11ffee"/></linearGradient><linearGradient id="g55"><stop offset="0.000" stop-color="#03fffc"/><stop offset="0.025" stop-color="#00fdff"/><stop offset="0.049" stop-color="#00f3ff"/><stop offset="0.074" stop-color="#00ecff"/><stop offset="0.099" stop-color="#00f5ff"/><stop offset="0.123" stop-color="#07fff8"/><stop offset="0.148" stop-color="#0ffff0"/><stop offset="0.173" stop-color="#12ffed"/><stop offset="0.198" stop-color="#17ffe8"/><stop offset="0.222" stop-color="#2fffd0"/><stop offset="0.247" stop-color="#55ffaa"/><stop offset="0.272" stop-color="#76ff89"/><stop offset="0.296" stop-color="#82ff7d"/><stop offset="0.321" stop-color="#8dff72"/><stop offset="0.346" stop-color="#9bff64"/><stop offset="0.370" stop-color="#bdff42"/><stop offset="0.395" stop-color="#fffa00"/><stop offset="0.420" stop-color="#ff9500"/><stop offset="0.444" stop-color="#ff1700"/><stop offset="0.469" stop-color="#e00000"/><stop offset="0.494" stop-color="#d20000"/><stop offset="0.519" stop-color="#d10000"/><stop offset="0.543" stop-color="#d40000"/><stop offset="0.568" stop-color="#e10000"/><stop offset="0.593" stop-color="#fa0000"/><stop offset="0.617" stop-color="#ff3100"/><stop offset="0.642" stop-color="#ff8000"/><stop offset="0.667" stop-color="#ffc200"/><stop offset="0.691" stop-color="#fffd00"/><stop offset="0.716" stop-color="#d0ff2f"/><stop offset="0.741" stop-color="#adff52"/><stop offset="0.765" stop-color="#96ff69"/><stop offset="0.790" stop-color="#7dff82"/><stop offset="0.815" stop-color="#63ff9c"/><stop offset="0.840" stop-color="#46ffb9"/><stop offset="0.864" stop-color="#26ffd9"/><stop offset="0.889" stop-color="#07fff8"/><stop offset="0.914" stop-color="#00f6ff"/><stop offset="0.938" stop-color="#00edff"/><stop offset="0.963" stop-color="#00f5ff"/><stop offset="0.988" stop-color="#04fffb"/><stop offset="1.000" stop-color="#0cfff3"/></linearGradient><linearGradient id="g56"><stop offset="0.000" stop-color="#01fffe"/><stop offset="0.025" stop-color="#00f8ff"/><stop offset="0.049" stop-color="#00ecff"/><stop offset="0.074" stop-color="#00e5ff"/><stop offset="0.099" stop-color="#00efff"/><stop offset="0.123" stop-color="#01fffe"/><stop offset="0.148" stop-color="#0afff5"/><stop offset="0.173" stop-color="#0bfff4"/><stop offset="0.198" stop-color="#0ffff0"/><stop offset="0.222" stop-color="#28ffd7"/><stop offset="0.247" stop-color="#4effb1"/><stop offset="0.272" stop-color="#70ff8f"/><stop offset="0.296" stop-color="#7dff82"/><stop offset="0.321" stop-color="#89ff76"/><stop offset="0.346" stop-color="#98ff67"/><stop offset="0.370" stop-color="#bdff42"/><stop offset="0.395" stop-color="#fff900"/><stop offset="0.420" stop-color="#ff9200"/><stop offset="0.444" stop-color="#ff0f00"/><stop offset="0.469" stop-color="#d80000"/><stop offset="0.494" stop-color="#c80000"/><stop offset="0.519" stop-color="#c60000"/><stop offset="0.543" stop-color="#c90000"/><stop offset="0.568" stop-color="#d50000"/><stop offset="0.593" stop-color="#eb0000"/><stop offset="0.617" stop-color="#ff1500"/><stop offset="0.642" stop-color="#ff6600"/><stop offset="0.667" stop-color="#ffad00"/><stop offset="0.691" stop-color="#ffec00"/><stop offset="0.716" stop-color="#deff21"/><stop offset="0.741" stop-color="#b5ff4a"/><stop offset="0.765" stop-color="#99ff66"/><stop offset="0.790" stop-color="#7fff80"/><stop offset="0.815" stop-color="#63ff9c"/><stop offset="0.840" stop-color="#44ffbb"/><stop offset="0.864" stop-color="#22ffdd"/><stop offset="0.889" stop-color="#02fffd"/><stop offset="0.914" stop-color="#00efff"/><stop offset="0.938" stop-color="#00e6ff"/><stop offset="0.963" stop-color="#00eeff"/><stop offset="0.988" stop-color="#00fdff"/><stop offset="1.000" stop-color="#06fff9"/></linearGradient><linearGradient id="g57"><stop offset="0.000" stop-color="#00feff"/><stop offset="0.025" stop-color="#00f4ff"/><stop offset="0.049" stop-color="#00e6ff"/><stop offset="0.074" stop-color="#00deff"/><stop offset="0.099" stop-color="#00e9ff"/><stop offset="0.123" stop-color="#00fbff"/><stop offset="0.148" stop-color="#05fffa"/><stop offset="0.173" stop-color="#04fffb"/><stop offset="0.198" stop-color="#06fff9"/><stop offset="0.222" stop-color="#1fffe0"/><stop offset="0.247" stop-color="#48ffb7"/><stop offset="0.272" stop-color="#6bff94"/><stop offset="0.296" stop-color="#78ff87"/><stop offset="0.321" stop-color="#85ff7a"/><stop offset="0.346" stop-color="#95ff6a"/><stop offset="0.370" stop-color="#bcff43"/><stop offset="0.395" stop-color="#fff900"/><stop offset="0.420" stop-color="#ff9000"/><stop offset="0.444" stop-color="#ff0a00"/><stop offset="0.469" stop-color="#d20000"/><stop offset="0.494" stop-color="#be0000"/><stop offset="0.519" stop-color="#bc0000"/><stop offset="0.543" stop-color="#bf0000"/><stop offset="0.568" stop-color="#cb0000"/><stop offset="0.593" stop-color="#df0000"/><stop offset="0.617" stop-color="#ff0100"/><stop offset="0.642" stop-color="#ff4a00"/><stop offset="0.667" stop-color="#ff9800"/><stop offset="0.691" stop-color="#ffda00"/><stop offset="0.716" stop-color="#ecff13"/><stop offset="0.741" stop-color="#bfff40"/><stop offset="0.765" stop-color="#9eff61"/><stop offset="0.790" stop-color="#81ff7e"/><stop offset="0.815" stop-color="#64ff9b"/><stop offset="0.840" stop-color="#43ffbc"/><stop offset="0.864" stop-color="#20ffdf"/><stop offset="0.889" stop-color="#00fdff"/><stop offset="0.914" stop-color="#00eaff"/><stop offset="0.938" stop-color="#00dfff"/><stop offset="0.963" stop-color="#00e7ff"/><stop offset="0.988" stop-color="#00f7ff"/><stop offset="1.000" stop-color="#00ffff"/></linearGradient><linearGradient id="g58"><stop offset="0.000" stop-color="#00fdff"/><stop offset="0.025" stop-color="#00f0ff"/><stop offset="0.049" stop-color="#00e0ff"/><stop offset="0.074" stop-color="#00d8ff"/><stop offset="0.099" stop-color="#00e3ff"/><stop offset="0.123" stop-color="#00f6ff"/><stop offset="0.148" stop-color="#00feff"/><stop offset="0.173" stop-color="#00fbff"/><stop offset="0.198" stop-color="#00fdff"/><stop offset="0.222" stop-color="#17ffe8"/><stop offset="0.247" stop-color="#41ffbe"/><stop offset="0.272" stop-color="#65ff9a"/><stop offset="0.296" stop-color="#73ff8c"/><stop offset="0.321" stop-color="#80ff7f"/><stop offset="0.346" stop-color="#92ff6d"/><stop offset="0.370" stop-color="#bbff44"/><stop offset="0.395" stop-color="#fff800"/><stop offset="0.420" stop-color="#ff8f00"/><stop offset="0.444" stop-color="#ff0700"/><stop offset="0.469" stop-color="#ce0000"/><stop offset="0.494" stop-color="#b50000"/><stop offset="0.519" stop-color="#b20000"/><stop offset="0.543" stop-color="#b60000"/><stop offset="0.568" stop-color="#c20000"/><stop offset="0.593" stop-color="#d50000"/><stop offset="0.617" stop-color="#f30000"/><stop offset="0.642" stop-color="#ff2f00"/><stop offset="0.667" stop-color="#ff8400"/><stop offset="0.691" stop-color="#ffc900"/><stop offset="0.716" stop-color="#faff05"/><stop offset="0.741" stop-color="#caff35"/><stop offset="0.765" stop-color="#a5ff5a"/><stop offset="0.790" stop-color="#85ff7a"/><stop offset="0.815" stop-color="#66ff99"/><stop offset="0.840" stop-color="#44ffbb"/><stop offset="0.864" stop-color="#1fffe0"/><stop offset="0.889" stop-color="#00fbff"/><stop offset="0.914" stop-color="#00e5ff"/><stop offset="0.938" stop-color="#00d9ff"/><stop offset="0.963" stop-color="#00e0ff"/><stop offset="0.988" stop-color="#00f1ff"/><stop offset="1.000" stop-color="#00faff"/></linearGradient><linearGradient id="g59"><stop offset="0.000" stop-color="#00fbff"/><stop offset="0.025" stop-color="#00edff"/><stop offset="0.049" stop-color="#00dbff"/><stop offset="0.074" stop-color="#00d2ff"/><stop offset="0.099" stop-color="#00deff"/><stop offset="0.123" stop-color="#00f2ff"/><stop offset="0.148" stop-color="#00f9ff"/><stop offset="0.173" stop-color="#00f4ff"/><stop offset="0.198" stop-color="#00f4ff"/><stop offset="0.222" stop-color="#0ffff0"/><stop offset="0.247" stop-color="#3bffc4"/><stop offset="0.272" stop-color="#5fffa0"/><stop offset="0.296" stop-color="#6fff90"/><stop offset="0.321" stop-color="#7cff83"/><stop offset="0.346" stop-color="#90ff6f"/><stop offset="0.370" stop-color="#baff45"/><stop offset="0.395" stop-color="#fff800"/><stop offset="0.420" stop-color="#ff8e00"/><stop offset="0.444" stop-color="#ff0600"/><stop offset="0.469" stop-color="#cb0000"/><stop offset="0.494" stop-color="#ae0000"/><stop offset="0.519" stop-color="#a90000"/><stop offset="0.543" stop-color="#ad0000"/><stop offset="0.568" stop-color="#b90000"/><stop offset="0.593" stop-color="#cc0000"/><stop offset="0.617" stop-color="#e80000"/><stop offset="0.642" stop-color="#ff1900"/><stop offset="0.667" stop-color="#ff7000"/><stop offset="0.691" stop-color="#ffb800"/><stop offset="0.716" stop-color="#fff600"/><stop offset="0.741" stop-color="#d5ff2a"/><stop offset="0.765" stop-color="#adff52"/><stop offset="0.790" stop-color="#8aff75"/><stop offset="0.815" stop-color="#6aff95"/><stop offset="0.840" stop-color="#47ffb8"/><stop offset="0.864" stop-color="#21ffde"/><stop offset="0.889" stop-color="#00fbff"/><stop offset="0.914" stop-color="#00e2ff"/><stop offset="0.938" stop-color="#00d4ff"/><stop offset="0.963" stop-color="#00daff"/><stop offset="0.988" stop-color="#00ebff"/><stop offset="1.000" stop-color="#00f5ff"/></linearGradient><linearGradient id="g60"><stop offset="0.000" stop-color="#00faff"/><stop offset="0.025" stop-color="#00eaff"/><stop offset="0.049" stop-color="#00d7ff"/><stop offset="0.074" stop-color="#00cdff"/><stop offset="0.099" stop-color="#00d9ff"/><stop offset="0.123" stop-color="#00eeff"/><stop offset="0.148" stop-color="#00f4ff"/><stop offset="0.173" stop-color="#00eeff"/><stop offset="0.198" stop-color="#00ecff"/><stop offset="0.222" stop-color="#07fff8"/><stop offset="0.247" stop-color="#34ffcb"/><stop offset="0.272" stop-color="#5affa5"/><stop offset="0.296" stop-color="#6aff95"/><stop offset="0.321" stop-color="#78ff87"/><stop offset="0.346" stop-color="#8dff72"/><stop offset="0.370" stop-color="#b9ff46"/><stop offset="0.395" stop-color="#fff800"/><stop offset="0.420" stop-color="#ff8d00"/><stop offset="0.444" stop-color="#ff0500"/><stop offset="0.469" stop-color="#c90000"/><stop offset="0.494" stop-color="#a80000"/><stop offset="0.519" stop-color="#a00000"/><stop offset="0.543" stop-color="#a40000"/><stop offset="0.568" stop-color="#b20000"/><stop offset="0.593" stop-color="#c50000"/><stop offset="0.617" stop-color="#df0000"/><stop offset="0.642" stop-color="#ff0800"/><stop offset="0.667" stop-color="#ff5b00"/><stop offset="0.691" stop-color="#ffa700"/><stop offset="0.716" stop-color="#ffe800"/><stop offset="0.741" stop-color="#e1ff1e"/><stop offset="0.765" stop-color="#b5ff4a"/><stop offset="0.790" stop-color="#90ff6f"/><stop offset="0.815" stop-color="#6eff91"/><stop offset="0.840" stop-color="#4cffb3"/><stop offset="0.864" stop-color="#25ffda"/><stop offset="0.889" stop-color="#00feff"/><stop offset="0.914" stop-color="#00e2ff"/><stop offset="0.938" stop-color="#00d1ff"/><stop offset="0.963" stop-color="#00d5ff"/><stop offset="0.988" stop-color="#00e6ff"/><stop offset="1.000" stop-color="#00f0ff"/></linearGradient><linearGradient id="g61"><stop offset="0.000" stop-color="#00f9ff"/><stop offset="0.025" stop-color="#00e8ff"/><stop offset="0.049" stop-color="#00d3ff"/><stop offset="0.074" stop-color="#00c9ff"/><stop offset="0.099" stop-color="#00d6ff"/><stop offset="0.123" stop-color="#00eaff"/><stop offset="0.148" stop-color="#00f0ff"/><stop offset="0.173" stop-color="#00e7ff"/><stop offset="0.198" stop-color="#00e4ff"/><stop offset="0.222" stop-color="#00ffff"/><stop offset="0.247" stop-color="#2effd1"/><stop offset="0.272" stop-color="#54ffab"/><stop offset="0.296" stop-color="#65ff9a"/><stop offset="0.321" stop-color="#75ff8a"/><stop offset="0.346" stop-color="#8bff74"/><stop offset="0.370" stop-color="#b9ff46"/><stop offset="0.395" stop-color="#fff800"/><stop offset="0.420" stop-color="#ff8d00"/><stop offset="0.444" stop-color="#ff0400"/><stop offset="0.469" stop-color="#c90000"/><stop offset="0.494" stop-color="#a40000"/><stop offset="0.519" stop-color="#980000"/><stop offset="0.543" stop-color="#9c0000"/><stop offset="0.568" stop-color="#ab0000"/><stop offset="0.593" stop-color="#bf0000"/><stop offset="0.617" stop-color="#d80000"/><stop offset="0.642" stop-color="#fc0000"/><stop offset="0.667" stop-color="#ff4700"/><stop offset="0.691" stop-color="#ff9800"/><stop offset="0.716" stop-color="#ffda00"/><stop offset="0.741" stop-color="#ecff13"/><stop offset="0.765" stop-color="#beff41"/><stop offset="0.790" stop-color="#97ff68"/><stop offset="0.815" stop-color="#74ff8b"/><stop offset="0.840" stop-color="#51ffae"/><stop offset="0.864" stop-color="#2bffd4"/><stop offset="0.889" stop-color="#04fffb"/><stop offset="0.914" stop-color="#00e5ff"/><stop offset="0.938" stop-color="#00d0ff"/><stop offset="0.963" stop-color="#00d1ff"/><stop offset="0.988" stop-color="#00e1ff"/><stop offset="1.000" stop-color="#00ebff"/></linearGradient><linearGradient id="g62"><stop offset="0.000" stop-color="#00f8ff"/><stop offset="0.025" stop-color="#00e6ff"/><stop offset="0.049" stop-color="#00d0ff"/><stop offset="0.074" stop-color="#00c6ff"/><stop offset="0.099" stop-color="#00d3ff"/><stop offset="0.123" stop-color="#00e7ff"/><stop offset="0.148" stop-color="#00ecff"/><stop offset="0.173" stop-color="#00e2ff"/><stop offset="0.198" stop-color="#00deff"/><stop offset="0.222" stop-color="#00f8ff"/><stop offset="0.247" stop-color="#29ffd6"/><stop offset="0.272" stop-color="#4fffb0"/><stop offset="0.296" stop-color="#61ff9e"/><stop offset="0.321" stop-color="#71ff8e"/><stop offset="0.346" stop-color="#88ff77"/><stop offset="0.370" stop-color="#b8ff47"/><stop offset="0.395" stop-color="#fff800"/><stop offset="0.420" stop-color="#ff8d00"/><stop offset="0.444" stop-color="#ff0400"/><stop offset="0.469" stop-color="#c80000"/><stop offset="0.494" stop-color="#a20000"/><stop offset="0.519" stop-color="#900000"/><stop offset="0.543" stop-color="#950000"/><stop offset="0.568" stop-color="#a50000"/><stop offset="0.593" stop-color="#ba0000"/><stop offset="0.617" stop-color="#d20000"/><stop offset="0.642" stop-color="#f40000"/><stop offset="0.667" stop-color="#ff3600"/><stop offset="0.691" stop-color="#ff8b00"/><stop offset="0.716" stop-color="#ffce00"/><stop offset="0.741" stop-color="#f7ff08"/><stop offset="0.765" stop-color="#c7ff38"/><stop offset="0.790" stop-color="#9eff61"/><stop offset="0.815" stop-color="#7aff85"/><stop offset="0.840" stop-color="#57ffa8"/><stop offset="0.864" stop-color="#32ffcd"/><stop offset="0.889" stop-color="#0cfff3"/><stop offset="0.914" stop-color="#00e9ff"/><stop offset="0.938" stop-color="#00d2ff"/><stop offset="0.963" stop-color="#00ceff"/><stop offset="0.988" stop-color="#00ddff"/><stop offset="1.000" stop-color="#00e7ff"/></linearGradient><linearGradient id="g63"><stop offset="0.000" stop-color="#00f8ff"/><stop offset="0.025" stop-color="#00e4ff"/><stop offset="0.049" stop-color="#00ceff"/><stop offset="0.074" stop-color="#00c4ff"/><stop offset="0.099" stop-color="#00d0ff"/><stop offset="0.123" stop-color="#00e5ff"/><stop offset="0.148" stop-color="#00e9ff"/><stop offset="0.173" stop-color="#00ddff"/><stop offset="0.198" stop-color="#00d8ff"/><stop offset="0.222" stop-color="#00f3ff"/><stop offset="0.247" stop-color="#24ffdb"/><stop offset="0.272" stop-color="#4affb5"/><stop offset="0.296" stop-color="#5cffa3"/><stop offset="0.321" stop-color="#6dff92"/><stop offset="0.346" stop-color="#86ff79"/><stop offset="0.370" stop-color="#b8ff47"/><stop offset="0.395" stop-color="#fff800"/><stop offset="0.420" stop-color="#ff8d00"/><stop offset="0.444" stop-color="#ff0400"/><stop offset="0.469" stop-color="#c80000"/><stop offset="0.494" stop-color="#a10000"/><stop offset="0.519" stop-color="#890000"/><stop offset="0.543" stop-color="#900000"/><stop offset="0.568" stop-color="#a00000"/><stop offset="0.593" stop-color="#b60000"/><stop offset="0.617" stop-color="#ce0000"/><stop offset="0.642" stop-color="#ed0000"/><stop offset="0.667" stop-color="#ff2700"/><stop offset="0.691" stop-color="#ff7e00"/><stop offset="0.716" stop-color="#ffc200"/><stop offset="0.741" stop-color="#fffd00"/><stop offset="0.765" stop-color="#d0ff2f"/><stop offset="0.790" stop-color="#a6ff59"/><stop offset="0.815" stop-color="#80ff7f"/><stop offset="0.840" stop-color="#5dffa2"/><stop offset="0.864" stop-color="#3affc5"/><stop offset="0.889" stop-color="#14ffeb"/><stop offset="0.914" stop-color="#00f0ff"/><stop offset="0.938" stop-color="#00d5ff"/><stop offset="0.963" stop-color="#00ceff"/><stop offset="0.988" stop-color="#00daff"/><stop offset="1.000" stop-color="#00e3ff"/></linearGradient><linearGradient id="g64"><stop offset="0.000" stop-color="#00f8ff"/><stop offset="0.025" stop-color="#00e5ff"/><stop offset="0.049" stop-color="#00cfff"/><stop offset="0.074" stop-color="#00c5ff"/><stop offset="0.099" stop-color="#00d2ff"/><stop offset="0.123" stop-color="#00e5ff"/><stop offset="0.148" stop-color="#00e9ff"/><stop offset="0.173" stop-color="#00dcff"/><stop offset="0.198" stop-color="#00d7ff"/><stop offset="0.222" stop-color="#00f2ff"/><stop offset="0.247" stop-color="#23ffdc"/><stop offset="0.272" stop-color="#4affb5"/><stop offset="0.296" stop-color="#5cffa3"/><stop offset="0.321" stop-color="#6dff92"/><stop offset="0.346" stop-color="#86ff79"/><stop offset="0.370" stop-color="#b8ff47"/><stop offset="0.395" stop-color="#fff800"/><stop offset="0.420" stop-color="#ff8d00"/><stop offset="0.444" stop-color="#ff0400"/><stop offset="0.469" stop-color="#c80000"/><stop offset="0.494" stop-color="#a10000"/><stop offset="0.519" stop-color="#840000"/><stop offset="0.543" stop-color="#8c0000"/><stop offset="0.568" stop-color="#9e0000"/><stop offset="0.593" stop-color="#b30000"/><stop offset="0.617" stop-color="#ca0000"/><stop offset="0.642" stop-color="#e90000"/><stop offset="0.667" stop-color="#ff1c00"/><stop offset="0.691" stop-color="#ff7300"/><stop offset="0.716" stop-color="#ffb800"/><stop offset="0.741" stop-color="#fff400"/><stop offset="0.765" stop-color="#d8ff27"/><stop offset="0.790" stop-color="#adff52"/><stop offset="0.815" stop-color="#87ff78"/><stop offset="0.840" stop-color="#64ff9b"/><stop offset="0.864" stop-color="#41ffbe"/><stop offset="0.889" stop-color="#1cffe3"/><stop offset="0.914" stop-color="#00f8ff"/><stop offset="0.938" stop-color="#00dbff"/><stop offset="0.963" stop-color="#00d0ff"/><stop offset="0.988" stop-color="#00daff"/><stop offset="1.000" stop-color="#00e3ff"/></linearGradient><linearGradient id="g65"><stop offset="0.000" stop-color="#00f8ff"/><stop offset="0.025" stop-color="#00e6ff"/><stop offset="0.049" stop-color="#00d1ff"/><stop offset="0.074" stop-color="#00c8ff"/><stop offset="0.099" stop-color="#00d3ff"/><stop offset="0.123" stop-color="#00e6ff"/><stop offset="0.148" stop-color="#00e9ff"/><stop offset="0.173" stop-color="#00ddff"/><stop offset="0.198" stop-color="#00d7ff"/><stop offset="0.222" stop-color="#00f2ff"/><stop offset="0.247" stop-color="#23ffdc"/><stop offset="0.272" stop-color="#4affb5"/><stop offset="0.296" stop-color="#5cffa3"/><stop offset="0.321" stop-color="#6dff92"/><stop offset="0.346" stop-color="#85ff7a"/><stop offset="0.370" stop-color="#b5ff4a"/><stop offset="0.395" stop-color="#fffb00"/><stop offset="0.420" stop-color="#ff9200"/><stop offset="0.444" stop-color="#ff0800"/><stop offset="0.469" stop-color="#ca0000"/><stop offset="0.494" stop-color="#a30000"/><stop offset="0.519" stop-color="#850000"/><stop offset="0.543" stop-color="#8a0000"/><stop offset="0.568" stop-color="#9c0000"/><stop offset="0.593" stop-color="#b10000"/><stop offset="0.617" stop-color="#c80000"/><stop offset="0.642" stop-color="#e50000"/><stop offset="0.667" stop-color="#ff1400"/><stop offset="0.691" stop-color="#ff6a00"/><stop offset="0.716" stop-color="#ffaf00"/><stop offset="0.741" stop-color="#ffec00"/><stop offset="0.765" stop-color="#e0ff1f"/><stop offset="0.790" stop-color="#b4ff4b"/><stop offset="0.815" stop-color="#8dff72"/><stop offset="0.840" stop-color="#6aff95"/><stop offset="0.864" stop-color="#47ffb8"/><stop offset="0.889" stop-color="#23ffdc"/><stop offset="0.914" stop-color="#00ffff"/><stop offset="0.938" stop-color="#00e1ff"/><stop offset="0.963" stop-color="#00d3ff"/><stop offset="0.988" stop-color="#00dbff"/><stop offset="1.000" stop-color="#00e4ff"/></linearGradient><linearGradient id="g66"><stop offset="0.000" stop-color="#00f9ff"/><stop offset="0.025" stop-color="#00e8ff"/><stop offset="0.049" stop-color="#00d4ff"/><stop offset="0.074" stop-color="#00cbff"/><stop offset="0.099" stop-color="#00d6ff"/><stop offset="0.123" stop-color="#00e8ff"/><stop offset="0.148" stop-color="#00eaff"/><stop offset="0.173" stop-color="#00deff"/><stop offset="0.198" stop-color="#00d9ff"/><stop offset="0.222" stop-color="#00f3ff"/><stop offset="0.247" stop-color="#24ffdb"/><stop offset="0.272" stop-color="#4affb5"/><stop offset="0.296" stop-color="#5cffa3"/><stop offset="0.321" stop-color="#6cff93"/><stop offset="0.346" stop-color="#82ff7d"/><stop offset="0.370" stop-color="#adff52"/><stop offset="0.395" stop-color="#f7ff08"/><stop offset="0.420" stop-color="#ffa200"/><stop offset="0.444" stop-color="#ff1800"/><stop offset="0.469" stop-color="#d10000"/><stop offset="0.494" stop-color="#a90000"/><stop offset="0.519" stop-color="#8c0000"/><stop offset="0.543" stop-color="#8c0000"/><stop offset="0.568" stop-color="#9b0000"/><stop offset="0.593" stop-color="#af0000"/><stop offset="0.617" stop-color="#c60000"/><stop offset="0.642" stop-color="#e10000"/><stop offset="0.667" stop-color="#ff0d00"/><stop offset="0.691" stop-color="#ff6000"/><stop offset="0.716" stop-color="#ffa800"/><stop offset="0.741" stop-color="#ffe500"/><stop offset="0.765" stop-color="#e5ff1a"/><stop offset="0.790" stop-color="#b8ff47"/><stop offset="0.815" stop-color="#91ff6e"/><stop offset="0.840" stop-color="#6dff92"/><stop offset="0.864" stop-color="#4bffb4"/><stop offset="0.889" stop-color="#28ffd7"/><stop offset="0.914" stop-color="#04fffb"/><stop offset="0.938" stop-color="#00e4ff"/><stop offset="0.963" stop-color="#00d5ff"/><stop offset="0.988" stop-color="#00dcff"/><stop offset="1.000" stop-color="#00e4ff"/></linearGradient><linearGradient id="g67"><stop offset="0.000" stop-color="#00faff"/><stop offset="0.025" stop-color="#00eaff"/><stop offset="0.049" stop-color="#00d7ff"/><stop offset="0.074" stop-color="#00ceff"/><stop offset="0.099" stop-color="#00d9ff"/><stop offset="0.123" stop-color="#00eaff"/><stop offset="0.148" stop-color="#00ecff"/><stop offset="0.173" stop-color="#00e0ff"/><stop offset="0.198" stop-color="#00dbff"/><stop offset="0.222" stop-color="#00f5ff"/><stop offset="0.247" stop-color="#25ffda"/><stop offset="0.272" stop-color="#4affb5"/><stop offset="0.296" stop-color="#5cffa3"/><stop offset="0.321" stop-color="#6bff94"/><stop offset="0.346" stop-color="#7eff81"/><stop offset="0.370" stop-color="#a5ff5a"/><stop offset="0.395" stop-color="#eaff15"/><stop offset="0.420" stop-color="#ffb400"/><stop offset="0.444" stop-color="#ff3000"/><stop offset="0.469" stop-color="#da0000"/><stop offset="0.494" stop-color="#b20000"/><stop offset="0.519" stop-color="#960000"/><stop offset="0.543" stop-color="#930000"/><stop offset="0.568" stop-color="#9d0000"/><stop offset="0.593" stop-color="#af0000"/><stop offset="0.617" stop-color="#c40000"/><stop offset="0.642" stop-color="#df0000"/><stop offset="0.667" stop-color="#ff0700"/><stop offset="0.691" stop-color="#ff5800"/><stop offset="0.716" stop-color="#ffa200"/><stop offset="0.741" stop-color="#ffdf00"/><stop offset="0.765" stop-color="#eaff15"/><stop offset="0.790" stop-color="#bdff42"/><stop offset="0.815" stop-color="#95ff6a"/><stop offset="0.840" stop-color="#71ff8e"/><stop offset="0.864" stop-color="#4fffb0"/><stop offset="0.889" stop-color="#2bffd4"/><stop offset="0.914" stop-color="#08fff7"/><stop offset="0.938" stop-color="#00e7ff"/><stop offset="0.963" stop-color="#00d8ff"/><stop offset="0.988" stop-color="#00deff"/><stop offset="1.000" stop-color="#00e5ff"/></linearGradient><linearGradient id="g68"><stop offset="0.000" stop-color="#00fbff"/><stop offset="0.025" stop-color="#00ecff"/><stop offset="0.049" stop-color="#00dbff"/><stop offset="0.074" stop-color="#00d3ff"/><stop offset="0.099" stop-color="#00dcff"/><stop offset="0.123" stop-color="#00ecff"/><stop offset="0.148" stop-color="#00eeff"/><stop offset="0.173" stop-color="#00e3ff"/><stop offset="0.198" stop-color="#00dfff"/><stop offset="0.222" stop-color="#00f8ff"/><stop offset="0.247" stop-color="#26ffd9"/><stop offset="0.272" stop-color="#4bffb4"/><stop offset="0.296" stop-color="#5cffa3"/><stop offset="0.321" stop-color="#6aff95"/><stop offset="0.346" stop-color="#7cff83"/><stop offset="0.370" stop-color="#9dff62"/><stop offset="0.395" stop-color="#dcff23"/><stop offset="0.420" stop-color="#ffc700"/><stop offset="0.444" stop-color="#ff4e00"/><stop offset="0.469" stop-color="#e60000"/><stop offset="0.494" stop-color="#bc0000"/><stop offset="0.519" stop-color="#a10000"/><stop offset="0.543" stop-color="#9c0000"/><stop offset="0.568" stop-color="#a30000"/><stop offset="0.593" stop-color="#b10000"/><stop offset="0.617" stop-color="#c50000"/><stop offset="0.642" stop-color="#de0000"/><stop offset="0.667" stop-color="#ff0500"/><stop offset="0.691" stop-color="#ff5200"/><stop offset="0.716" stop-color="#ff9c00"/><stop offset="0.741" stop-color="#ffdb00"/><stop offset="0.765" stop-color="#eeff11"/><stop offset="0.790" stop-color="#c1ff3e"/><stop offset="0.815" stop-color="#98ff67"/><stop offset="0.840" stop-color="#74ff8b"/><stop offset="0.864" stop-color="#52ffad"/><stop offset="0.889" stop-color="#2fffd0"/><stop offset="0.914" stop-color="#0cfff3"/><stop offset="0.938" stop-color="#00ebff"/><stop offset="0.963" stop-color="#00daff"/><stop offset="0.988" stop-color="#00dfff"/><stop offset="1.000" stop-color="#00e7ff"/></linearGradient><linearGradient id="g69"><stop offset="0.000" stop-color="#00fdff"/><stop offset="0.025" stop-color="#00efff"/><stop offset="0.049" stop-color="#00dfff"/><stop offset="0.074" stop-color="#00d7ff"/><stop offset="0.099" stop-color="#00e0ff"/><stop offset="0.123" stop-color="#00efff"/><stop offset="0.148" stop-color="#00f1ff"/><stop offset="0.173" stop-color="#00e7ff"/><stop offset="0.198" stop-color="#00e4ff"/><stop offset="0.222" stop-color="#00fcff"/><stop offset="0.247" stop-color="#28ffd7"/><stop offset="0.272" stop-color="#4bffb4"/><stop offset="0.296" stop-color="#5cffa3"/><stop offset="0.321" stop-color="#69ff96"/><stop offset="0.346" stop-color="#79ff86"/><stop offset="0.370" stop-color="#96ff69"/><stop offset="0.395" stop-color="#cfff30"/><stop offset="0.420" stop-color="#ffdb00"/><stop offset="0.444" stop-color="#ff6e00"/><stop offset="0.469" stop-color="#f60000"/><stop offset="0.494" stop-color="#c70000"/><stop offset="0.519" stop-color="#ad0000"/><stop offset="0.543" stop-color="#a70000"/><stop offset="0.568" stop-color="#ab0000"/><stop offset="0.593" stop-color="#b60000"/><stop offset="0.617" stop-color="#c80000"/><stop offset="0.642" stop-color="#e00000"/><stop offset="0.667" stop-color="#ff0500"/><stop offset="0.691" stop-color="#ff4f00"/><stop offset="0.716" stop-color="#ff9900"/><stop offset="0.741" stop-color="#ffd700"/><stop offset="0.765" stop-color="#f2ff0d"/><stop offset="0.790" stop-color="#c4ff3b"/><stop offset="0.815" stop-color="#9bff64"/><stop offset="0.840" stop-color="#77ff88"/><stop offset="0.864" stop-color="#55ffaa"/><stop offset="0.889" stop-color="#33ffcc"/><stop offset="0.914" stop-color="#0ffff0"/><stop offset="0.938" stop-color="#00eeff"/><stop offset="0.963" stop-color="#00ddff"/><stop offset="0.988" stop-color="#00e2ff"/><stop offset="1.000" stop-color="#00e9ff"/></linearGradient><linearGradient id="g70"><stop offset="0.000" stop-color="#00feff"/><stop offset="0.025" stop-color="#00f2ff"/><stop offset="0.049" stop-color="#00e4ff"/><stop offset="0.074" stop-color="#00ddff"/><stop offset="0.099" stop-color="#00e5ff"/><stop offset="0.123" stop-color="#00f2ff"/><stop offset="0.148" stop-color="#00f3ff"/><stop offset="0.173" stop-color="#00ecff"/><stop offset="0.198" stop-color="#00eaff"/><stop offset="0.222" stop-color="#02fffd"/><stop offset="0.247" stop-color="#2affd5"/><stop offset="0.272" stop-color="#4cffb3"/><stop offset="0.296" stop-color="#5cffa3"/><stop offset="0.321" stop-color="#69ff96"/><stop offset="0.346" stop-color="#77ff88"/><stop offset="0.370" stop-color="#8fff70"/><stop offset="0.395" stop-color="#c1ff3e"/><stop offset="0.420" stop-color="#fff000"/><stop offset="0.444" stop-color="#ff8b00"/><stop offset="0.469" stop-color="#ff0d00"/><stop offset="0.494" stop-color="#d50000"/><stop offset="0.519" stop-color="#ba0000"/><stop offset="0.543" stop-color="#b30000"/><stop offset="0.568" stop-color="#b50000"/><stop offset="0.593" stop-color="#be0000"/><stop offset="0.617" stop-color="#cd0000"/><stop offset="0.642" stop-color="#e30000"/><stop offset="0.667" stop-color="#ff0800"/><stop offset="0.691" stop-color="#ff5000"/><stop offset="0.716" stop-color="#ff9800"/><stop offset="0.741" stop-color="#ffd500"/><stop offset="0.765" stop-color="#f4ff0b"/><stop offset="0.790" stop-color="#c6ff39"/><stop offset="0.815" stop-color="#9eff61"/><stop offset="0.840" stop-color="#79ff86"/><stop offset="0.864" stop-color="#58ffa7"/><stop offset="0.889" stop-color="#36ffc9"/><stop offset="0.914" stop-color="#13ffec"/><stop offset="0.938" stop-color="#00f2ff"/><stop offset="0.963" stop-color="#00e0ff"/><stop offset="0.988" stop-color="#00e4ff"/><stop offset="1.000" stop-color="#00eaff"/></linearGradient><linearGradient id="g71"><stop offset="0.000" stop-color="#01fffe"/><stop offset="0.025" stop-color="#00f6ff"/><stop offset="0.049" stop-color="#00e9ff"/><stop offset="0.074" stop-color="#00e3ff"/><stop offset="0.099" stop-color="#00eaff"/><stop offset="0.123" stop-color="#00f5ff"/><stop offset="0.148" stop-color="#00f7ff"/><stop offset="0.173" stop-color="#00f0ff"/><stop offset="0.198" stop-color="#00f0ff"/><stop offset="0.222" stop-color="#07fff8"/><stop offset="0.247" stop-color="#2dffd2"/><stop offset="0.272" stop-color="#4dffb2"/><stop offset="0.296" stop-color="#5cffa3"/><stop offset="0.321" stop-color="#68ff97"/><stop offset="0.346" stop-color="#75ff8a"/><stop offset="0.370" stop-color="#8aff75"/><stop offset="0.395" stop-color="#b4ff4b"/><stop offset="0.420" stop-color="#faff05"/><stop offset="0.444" stop-color="#ffa700"/><stop offset="0.469" stop-color="#ff3100"/><stop offset="0.494" stop-color="#e50000"/><stop offset="0.519" stop-color="#c80000"/><stop offset="0.543" stop-color="#bf0000"/><stop offset="0.568" stop-color="#c10000"/><stop offset="0.593" stop-color="#c70000"/><stop offset="0.617" stop-color="#d40000"/><stop offset="0.642" stop-color="#ea0000"/><stop offset="0.667" stop-color="#ff0e00"/><stop offset="0.691" stop-color="#ff5600"/><stop offset="0.716" stop-color="#ff9a00"/><stop offset="0.741" stop-color="#ffd500"/><stop offset="0.765" stop-color="#f5ff0a"/><stop offset="0.790" stop-color="#c8ff37"/><stop offset="0.815" stop-color="#a0ff5f"/><stop offset="0.840" stop-color="#7bff84"/><stop offset="0.864" stop-color="#5affa5"/><stop offset="0.889" stop-color="#38ffc7"/><stop offset="0.914" stop-color="#16ffe9"/><stop offset="0.938" stop-color="#00f5ff"/><stop offset="0.963" stop-color="#00e4ff"/><stop offset="0.988" stop-color="#00e7ff"/><stop offset="1.000" stop-color="#00edff"/></linearGradient><linearGradient id="g72"><stop offset="0.000" stop-color="#04fffb"/><stop offset="0.025" stop-color="#00faff"/><stop offset="0.049" stop-color="#00efff"/><stop offset="0.074" stop-color="#00e9ff"/><stop offset="0.099" stop-color="#00efff"/><stop offset="0.123" stop-color="#00f9ff"/><stop offset="0.148" stop-color="#00faff"/><stop offset="0.173" stop-color="#00f5ff"/><stop offset="0.198" stop-color="#00f6ff"/><stop offset="0.222" stop-color="#0cfff3"/><stop offset="0.247" stop-color="#2fffd0"/><stop offset="0.272" stop-color="#4dffb2"/><stop offset="0.296" stop-color="#5cffa3"/><stop offset="0.321" stop-color="#68ff97"/><stop offset="0.346" stop-color="#74ff8b"/><stop offset="0.370" stop-color="#85ff7a"/><stop offset="0.395" stop-color="#a8ff57"/><stop offset="0.420" stop-color="#e6ff19"/><stop offset="0.444" stop-color="#ffc300"/><stop offset="0.469" stop-color="#ff5c00"/><stop offset="0.494" stop-color="#fa0000"/><stop offset="0.519" stop-color="#d80000"/><stop offset="0.543" stop-color="#cd0000"/><stop offset="0.568" stop-color="#ce0000"/><stop offset="0.593" stop-color="#d30000"/><stop offset="0.617" stop-color="#de0000"/><stop offset="0.642" stop-color="#f30000"/><stop offset="0.667" stop-color="#ff1a00"/><stop offset="0.691" stop-color="#ff6000"/><stop offset="0.716" stop-color="#ff9e00"/><stop offset="0.741" stop-color="#ffd700"/><stop offset="0.765" stop-color="#f5ff0a"/><stop offset="0.790" stop-color="#c8ff37"/><stop offset="0.815" stop-color="#a1ff5e"/><stop offset="0.840" stop-color="#7dff82"/><stop offset="0.864" stop-color="#5bffa4"/><stop offset="0.889" stop-color="#3affc5"/><stop offset="0.914" stop-color="#18ffe7"/><stop offset="0.938" stop-color="#00f8ff"/><stop offset="0.963" stop-color="#00e7ff"/><stop offset="0.988" stop-color="#00eaff"/><stop offset="1.000" stop-color="#00efff"/></linearGradient><linearGradient id="g73"><stop offset="0.000" stop-color="#07fff8"/><stop offset="0.025" stop-color="#00ffff"/><stop offset="0.049" stop-color="#00f6ff"/><stop offset="0.074" stop-color="#00f0ff"/><stop offset="0.099" stop-color="#00f5ff"/><stop offset="0.123" stop-color="#00fdff"/><stop offset="0.148" stop-color="#00feff"/><stop offset="0.173" stop-color="#00fbff"/><stop offset="0.198" stop-color="#00fdff"/><stop offset="0.222" stop-color="#11ffee"/><stop offset="0.247" stop-color="#32ffcd"/><stop offset="0.272" stop-color="#4effb1"/><stop offset="0.296" stop-color="#5cffa3"/><stop offset="0.321" stop-color="#68ff97"/><stop offset="0.346" stop-color="#73ff8c"/><stop offset="0.370" stop-color="#82ff7d"/><stop offset="0.395" stop-color="#9dff62"/><stop offset="0.420" stop-color="#d3ff2c"/><stop offset="0.444" stop-color="#ffde00"/><stop offset="0.469" stop-color="#ff8300"/><stop offset="0.494" stop-color="#ff1b00"/><stop offset="0.519" stop-color="#eb0000"/><stop offset="0.543" stop-color="#dc0000"/><stop offset="0.568" stop-color="#dd0000"/><stop offset="0.593" stop-color="#e10000"/><stop offset="0.617" stop-color="#ec0000"/><stop offset="0.642" stop-color="#ff0100"/><stop offset="0.667" stop-color="#ff2d00"/><stop offset="0.691" stop-color="#ff6d00"/><stop offset="0.716" stop-color="#ffa600"/><stop offset="0.741" stop-color="#ffdb00"/><stop offset="0.765" stop-color="#f3ff0c"/><stop offset="0.790" stop-color="#c8ff37"/><stop offset="0.815" stop-color="#a1ff5e"/><stop offset="0.840" stop-color="#7dff82"/><stop offset="0.864" stop-color="#5cffa3"/><stop offset="0.889" stop-color="#3cffc3"/><stop offset="0.914" stop-color="#1affe5"/><stop offset="0.938" stop-color="#00faff"/><stop offset="0.963" stop-color="#00eaff"/><stop offset="0.988" stop-color="#00ecff"/><stop offset="1.000" stop-color="#00f1ff"/></linearGradient><linearGradient id="g74"><stop offset="0.000" stop-color="#0cfff3"/><stop offset="0.025" stop-color="#07fff8"/><stop offset="0.049" stop-color="#00feff"/><stop offset="0.074" stop-color="#00f8ff"/><stop offset="0.099" stop-color="#00fcff"/><stop offset="0.123" stop-color="#03fffc"/><stop offset="0.148" stop-color="#03fffc"/><stop offset="0.173" stop-color="#01fffe"/><stop offset="0.198" stop-color="#04fffb"/><stop offset="0.222" stop-color="#16ffe9"/><stop offset="0.247" stop-color="#34ffcb"/><stop offset="0.272" stop-color="#4fffb0"/><stop offset="0.296" stop-color="#5dffa2"/><stop offset="0.321" stop-color="#69ff96"/><stop offset="0.346" stop-color="#73ff8c"/><stop offset="0.370" stop-color="#7fff80"/><stop offset="0.395" stop-color="#95ff6a"/><stop offset="0.420" stop-color="#c2ff3d"/><stop offset="0.444" stop-color="#fff800"/><stop offset="0.469" stop-color="#ffa600"/><stop offset="0.494" stop-color="#ff4b00"/><stop offset="0.519" stop-color="#ff0400"/><stop offset="0.543" stop-color="#ef0000"/><stop offset="0.568" stop-color="#ef0000"/><stop offset="0.593" stop-color="#f30000"/><stop offset="0.617" stop-color="#fd0000"/><stop offset="0.642" stop-color="#ff1700"/><stop offset="0.667" stop-color="#ff4500"/><stop offset="0.691" stop-color="#ff7d00"/><stop offset="0.716" stop-color="#ffb000"/><stop offset="0.741" stop-color="#ffe200"/><stop offset="0.765" stop-color="#efff10"/><stop offset="0.790" stop-color="#c6ff39"/><stop offset="0.815" stop-color="#a0ff5f"/><stop offset="0.840" stop-color="#7dff82"/><stop offset="0.864" stop-color="#5dffa2"/><stop offset="0.889" stop-color="#3dffc2"/><stop offset="0.914" stop-color="#1cffe3"/><stop offset="0.938" stop-color="#00fdff"/><stop offset="0.963" stop-color="#00edff"/><stop offset="0.988" stop-color="#00efff"/><stop offset="1.000" stop-color="#00f3ff"/></linearGradient><linearGradient id="g75"><stop offset="0.000" stop-color="#13ffec"/><stop offset="0.025" stop-color="#10ffef"/><stop offset="0.049" stop-color="#09fff6"/><stop offset="0.074" stop-color="#03fffc"/><stop offset="0.099" stop-color="#05fffa"/><stop offset="0.123" stop-color="#09fff6"/><stop offset="0.148" stop-color="#08fff7"/><stop offset="0.173" stop-color="#07fff8"/><stop offset="0.198" stop-color="#0afff5"/><stop offset="0.222" stop-color="#1affe5"/><stop offset="0.247" stop-color="#36ffc9"/><stop offset="0.272" stop-color="#50ffaf"/><stop offset="0.296" stop-color="#5fffa0"/><stop offset="0.321" stop-color="#6dff92"/><stop offset="0.346" stop-color="#75ff8a"/><stop offset="0.370" stop-color="#7eff81"/><stop offset="0.395" stop-color="#8eff71"/><stop offset="0.420" stop-color="#b1ff4e"/><stop offset="0.444" stop-color="#edff12"/><stop offset="0.469" stop-color="#ffc700"/><stop offset="0.494" stop-color="#ff7a00"/><stop offset="0.519" stop-color="#ff2d00"/><stop offset="0.543" stop-color="#ff0a00"/><stop offset="0.568" stop-color="#ff0800"/><stop offset="0.593" stop-color="#ff0c00"/><stop offset="0.617" stop-color="#ff1a00"/><stop offset="0.642" stop-color="#ff3700"/><stop offset="0.667" stop-color="#ff6200"/><stop offset="0.691" stop-color="#ff8f00"/><stop offset="0.716" stop-color="#ffbc00"/><stop offset="0.741" stop-color="#ffea00"/><stop offset="0.765" stop-color="#e9ff16"/><stop offset="0.790" stop-color="#c2ff3d"/><stop offset="0.815" stop-color="#9eff61"/><stop offset="0.840" stop-color="#7cff83"/><stop offset="0.864" stop-color="#5dffa2"/><stop offset="0.889" stop-color="#3dffc2"/><stop offset="0.914" stop-color="#1dffe2"/><stop offset="0.938" stop-color="#00ffff"/><stop offset="0.963" stop-color="#00f0ff"/><stop offset="0.988" stop-color="#00f2ff"/><stop offset="1.000" stop-color="#00f6ff"/></linearGradient><linearGradient id="g76"><stop offset="0.000" stop-color="#1dffe2"/><stop offset="0.025" stop-color="#1bffe4"/><stop offset="0.049" stop-color="#15ffea"/><stop offset="0.074" stop-color="#0ffff0"/><stop offset="0.099" stop-color="#0ffff0"/><stop offset="0.123" stop-color="#10ffef"/><stop offset="0.148" stop-color="#0efff1"/><stop offset="0.173" stop-color="#0cfff3"/><stop offset="0.198" stop-color="#10ffef"/><stop offset="0.222" stop-color="#1fffe0"/><stop offset="0.247" stop-color="#38ffc7"/><stop offset="0.272" stop-color="#51ffae"/><stop offset="0.296" stop-color="#63ff9c"/><stop offset="0.321" stop-color="#75ff8a"/><stop offset="0.346" stop-color="#7bff84"/><stop offset="0.370" stop-color="#7eff81"/><stop offset="0.395" stop-color="#89ff76"/><stop offset="0.420" stop-color="#a3ff5c"/><stop offset="0.444" stop-color="#d7ff28"/><stop offset="0.469" stop-color="#ffe600"/><stop offset="0.494" stop-color="#ffa000"/><stop offset="0.519" stop-color="#ff6100"/><stop offset="0.543" stop-color="#ff3600"/><stop offset="0.568" stop-color="#ff3000"/><stop offset="0.593" stop-color="#ff3400"/><stop offset="0.617" stop-color="#ff4300"/><stop offset="0.642" stop-color="#ff5c00"/><stop offset="0.667" stop-color="#ff7e00"/><stop offset="0.691" stop-color="#ffa300"/><stop offset="0.716" stop-color="#ffcb00"/><stop offset="0.741" stop-color="#fff400"/><stop offset="0.765" stop-color="#e3ff1c"/><stop offset="0.790" stop-color="#beff41"/><stop offset="0.815" stop-color="#9bff64"/><stop offset="0.840" stop-color="#7aff85"/><stop offset="0.864" stop-color="#5cffa3"/><stop offset="0.889" stop-color="#3dffc2"/><stop offset="0.914" stop-color="#1effe1"/><stop offset="0.938" stop-color="#02fffd"/><stop offset="0.963" stop-color="#00f3ff"/><stop offset="0.988" stop-color="#00f4ff"/><stop offset="1.000" stop-color="#00f8ff"/></linearGradient><linearGradient id="g77"><stop offset="0.000" stop-color="#28ffd7"/><stop offset="0.025" stop-color="#28ffd7"/><stop offset="0.049" stop-color="#23ffdc"/><stop offset="0.074" stop-color="#1dffe2"/><stop offset="0.099" stop-color="#1affe5"/><stop offset="0.123" stop-color="#19ffe6"/><stop offset="0.148" stop-color="#14ffeb"/><stop offset="0.173" stop-color="#12ffed"/><stop offset="0.198" stop-color="#15ffea"/><stop offset="0.222" stop-color="#23ffdc"/><stop offset="0.247" stop-color="#3bffc4"/><stop offset="0.272" stop-color="#54ffab"/><stop offset="0.296" stop-color="#6dff92"/><stop offset="0.321" stop-color="#87ff78"/><stop offset="0.346" stop-color="#88ff77"/><stop offset="0.370" stop-color="#81ff7e"/><stop offset="0.395" stop-color="#86ff79"/><stop offset="0.420" stop-color="#98ff67"/><stop offset="0.444" stop-color="#c2ff3d"/><stop offset="0.469" stop-color="#fbff04"/><stop offset="0.494" stop-color="#ffc400"/><stop offset="0.519" stop-color="#ff8d00"/><stop offset="0.543" stop-color="#ff6800"/><stop offset="0.568" stop-color="#ff6000"/><stop offset="0.593" stop-color="#ff6300"/><stop offset="0.617" stop-color="#ff6e00"/><stop offset="0.642" stop-color="#ff8000"/><stop offset="0.667" stop-color="#ff9900"/><stop offset="0.691" stop-color="#ffb800"/><stop offset="0.716" stop-color="#ffdc00"/><stop offset="0.741" stop-color="#feff01"/><stop offset="0.765" stop-color="#daff25"/><stop offset="0.790" stop-color="#b8ff47"/><stop offset="0.815" stop-color="#97ff68"/><stop offset="0.840" stop-color="#78ff87"/><stop offset="0.864" stop-color="#5affa5"/><stop offset="0.889" stop-color="#3cffc3"/><stop offset="0.914" stop-color="#1effe1"/><stop offset="0.938" stop-color="#03fffc"/><stop offset="0.963" stop-color="#00f5ff"/><stop offset="0.988" stop-color="#00f7ff"/><stop offset="1.000" stop-color="#00faff"/></linearGradient><linearGradient id="g78"><stop offset="0.000" stop-color="#36ffc9"/><stop offset="0.025" stop-color="#37ffc8"/><stop offset="0.049" stop-color="#33ffcc"/><stop offset="0.074" stop-color="#2cffd3"/><stop offset="0.099" stop-color="#26ffd9"/><stop offset="0.123" stop-color="#22ffdd"/><stop offset="0.148" stop-color="#1bffe4"/><stop offset="0.173" stop-color="#18ffe7"/><stop offset="0.198" stop-color="#1bffe4"/><stop offset="0.222" stop-color="#26ffd9"/><stop offset="0.247" stop-color="#3dffc2"/><stop offset="0.272" stop-color="#58ffa7"/><stop offset="0.296" stop-color="#7eff81"/><stop offset="0.321" stop-color="#a7ff58"/><stop offset="0.346" stop-color="#a0ff5f"/><stop offset="0.370" stop-color="#88ff77"/><stop offset="0.395" stop-color="#84ff7b"/><stop offset="0.420" stop-color="#90ff6f"/><stop offset="0.444" stop-color="#b0ff4f"/><stop offset="0.469" stop-color="#e1ff1e"/><stop offset="0.494" stop-color="#ffe600"/><stop offset="0.519" stop-color="#ffb300"/><stop offset="0.543" stop-color="#ff9200"/><stop offset="0.568" stop-color="#ff8900"/><stop offset="0.593" stop-color="#ff8b00"/><stop offset="0.617" stop-color="#ff9200"/><stop offset="0.642" stop-color="#ffa000"/><stop offset="0.667" stop-color="#ffb400"/><stop offset="0.691" stop-color="#ffcf00"/><stop offset="0.716" stop-color="#ffed00"/><stop offset="0.741" stop-color="#f1ff0e"/><stop offset="0.765" stop-color="#d1ff2e"/><stop offset="0.790" stop-color="#b1ff4e"/><stop offset="0.815" stop-color="#92ff6d"/><stop offset="0.840" stop-color="#75ff8a"/><stop offset="0.864" stop-color="#58ffa7"/><stop offset="0.889" stop-color="#3affc5"/><stop offset="0.914" stop-color="#1effe1"/><stop offset="0.938" stop-color="#04fffb"/><stop offset="0.963" stop-color="#00f8ff"/><stop offset="0.988" stop-color="#00f9ff"/><stop offset="1.000" stop-color="#00fcff"/></linearGradient><linearGradient id="g79"><stop offset="0.000" stop-color="#43ffbc"/><stop offset="0.025" stop-color="#47ffb8"/><stop offset="0.049" stop-color="#43ffbc"/><stop offset="0.074" stop-color="#3bffc4"/><stop offset="0.099" stop-color="#33ffcc"/><stop offset="0.123" stop-color="#2bffd4"/><stop offset="0.148" stop-color="#21ffde"/><stop offset="0.173" stop-color="#1dffe2"/><stop offset="0.198" stop-color="#1fffe0"/><stop offset="0.222" stop-color="#2affd5"/><stop offset="0.247" stop-color="#3fffc0"/><stop offset="0.272" stop-color="#5effa1"/><stop offset="0.296" stop-color="#98ff67"/><stop offset="0.321" stop-color="#d7ff28"/><stop offset="0.346" stop-color="#c4ff3b"/><stop offset="0.370" stop-color="#92ff6d"/><stop offset="0.395" stop-color="#84ff7b"/><stop offset="0.420" stop-color="#8aff75"/><stop offset="0.444" stop-color="#a1ff5e"/><stop offset="0.469" stop-color="#caff35"/><stop offset="0.494" stop-color="#faff05"/><stop offset="0.519" stop-color="#ffd700"/><stop offset="0.543" stop-color="#ffb700"/><stop offset="0.568" stop-color="#ffad00"/><stop offset="0.593" stop-color="#ffaf00"/><stop offset="0.617" stop-color="#ffb400"/><stop offset="0.642" stop-color="#ffbf00"/><stop offset="0.667" stop-color="#ffcf00"/><stop offset="0.691" stop-color="#ffe500"/><stop offset="0.716" stop-color="#ffff00"/><stop offset="0.741" stop-color="#e3ff1c"/><stop offset="0.765" stop-color="#c7ff38"/><stop offset="0.790" stop-color="#aaff55"/><stop offset="0.815" stop-color="#8dff72"/><stop offset="0.840" stop-color="#71ff8e"/><stop offset="0.864" stop-color="#55ffaa"/><stop offset="0.889" stop-color="#38ffc7"/><stop offset="0.914" stop-color="#1dffe2"/><stop offset="0.938" stop-color="#05fffa"/><stop offset="0.963" stop-color="#00faff"/><stop offset="0.988" stop-color="#00fbff"/><stop offset="1.000" stop-color="#00fdff"/></linearGradient><linearGradient id="g80"><stop offset="0.000" stop-color="#50ffaf"/><stop offset="0.025" stop-color="#55ffaa"/><stop offset="0.049" stop-color="#52ffad"/><stop offset="0.074" stop-color="#48ffb7"/><stop offset="0.099" stop-color="#3effc1"/><stop offset="0.123" stop-color="#33ffcc"/><stop offset="0.148" stop-color="#27ffd8"/><stop offset="0.173" stop-color="#22ffdd"/><stop offset="0.198" stop-color="#23ffdc"/><stop offset="0.222" stop-color="#2cffd3"/><stop offset="0.247" stop-color="#41ffbe"/><stop offset="0.272" stop-color="#65ff9a"/><stop offset="0.296" stop-color="#b7ff48"/><stop offset="0.321" stop-color="#ffeb00"/><stop offset="0.346" stop-color="#f1ff0e"/><stop offset="0.370" stop-color="#9fff60"/><stop offset="0.395" stop-color="#84ff7b"/><stop offset="0.420" stop-color="#86ff79"/><stop offset="0.444" stop-color="#96ff69"/><stop offset="0.469" stop-color="#b5ff4a"/><stop offset="0.494" stop-color="#dfff20"/><stop offset="0.519" stop-color="#fff800"/><stop offset="0.543" stop-color="#ffda00"/><stop offset="0.568" stop-color="#ffcf00"/><stop offset="0.593" stop-color="#ffd000"/><stop offset="0.617" stop-color="#ffd400"/><stop offset="0.642" stop-color="#ffdc00"/><stop offset="0.667" stop-color="#ffea00"/><stop offset="0.691" stop-color="#fffc00"/><stop offset="0.716" stop-color="#edff12"/><stop offset="0.741" stop-color="#d5ff2a"/><stop offset="0.765" stop-color="#bcff43"/><stop offset="0.790" stop-color="#a1ff5e"/><stop offset="0.815" stop-color="#87ff78"/><stop offset="0.840" stop-color="#6cff93"/><stop offset="0.864" stop-color="#52ffad"/><stop offset="0.889" stop-color="#36ffc9"/><stop offset="0.914" stop-color="#1bffe4"/><stop offset="0.938" stop-color="#05fffa"/><stop offset="0.963" stop-color="#00fbff"/><stop offset="0.988" stop-color="#00fdff"/><stop offset="1.000" stop-color="#00ffff"/></linearGradient><linearGradient id="g81"><stop offset="0.000" stop-color="#59ffa6"/><stop offset="0.025" stop-color="#5fffa0"/><stop offset="0.049" stop-color="#5dffa2"/><stop offset="0.074" stop-color="#52ffad"/><stop offset="0.099" stop-color="#46ffb9"/><stop offset="0.123" stop-color="#39ffc6"/><stop offset="0.148" stop-color="#2cffd3"/><stop offset="0.173" stop-color="#26ffd9"/><stop offset="0.198" stop-color="#26ffd9"/><stop offset="0.222" stop-color="#2effd1"/><stop offset="0.247" stop-color="#42ffbd"/><stop offset="0.272" stop-color="#6cff93"/><stop offset="0.296" stop-color="#d6ff29"/><stop offset="0.321" stop-color="#ffb100"/><stop offset="0.346" stop-color="#ffe100"/><stop offset="0.370" stop-color="#acff53"/><stop offset="0.395" stop-color="#85ff7a"/><stop offset="0.420" stop-color="#83ff7c"/><stop offset="0.444" stop-color="#8dff72"/><stop offset="0.469" stop-color="#a4ff5b"/><stop offset="0.494" stop-color="#c6ff39"/><stop offset="0.519" stop-color="#e9ff16"/><stop offset="0.543" stop-color="#fffa00"/><stop offset="0.568" stop-color="#ffef00"/><stop offset="0.593" stop-color="#ffef00"/><stop offset="0.617" stop-color="#fff200"/><stop offset="0.642" stop-color="#fff800"/><stop offset="0.667" stop-color="#fbff04"/><stop offset="0.691" stop-color="#edff12"/><stop offset="0.716" stop-color="#dbff24"/><stop offset="0.741" stop-color="#c7ff38"/><stop offset="0.765" stop-color="#b1ff4e"/><stop offset="0.790" stop-color="#99ff66"/><stop offset="0.815" stop-color="#80ff7f"/><stop offset="0.840" stop-color="#67ff98"/><stop offset="0.864" stop-color="#4effb1"/><stop offset="0.889" stop-color="#32ffcd"/><stop offset="0.914" stop-color="#1affe5"/><stop offset="0.938" stop-color="#05fffa"/><stop offset="0.963" stop-color="#00fdff"/><stop offset="0.988" stop-color="#00feff"/><stop offset="1.000" stop-color="#01fffe"/></linearGradient><linearGradient id="g82"><stop offset="0.000" stop-color="#5effa1"/><stop offset="0.025" stop-color="#64ff9b"/><stop offset="0.049" stop-color="#62ff9d"/><stop offset="0.074" stop-color="#58ffa7"/><stop offset="0.099" stop-color="#4bffb4"/><stop offset="0.123" stop-color="#3cffc3"/><stop offset="0.148" stop-color="#2effd1"/><stop offset="0.173" stop-color="#28ffd7"/><stop offset="0.198" stop-color="#28ffd7"/><stop offset="0.222" stop-color="#30ffcf"/><stop offset="0.247" stop-color="#43ffbc"/><stop offset="0.272" stop-color="#70ff8f"/><stop offset="0.296" stop-color="#eaff15"/><stop offset="0.321" stop-color="#ff8b00"/><stop offset="0.346" stop-color="#ffc400"/><stop offset="0.370" stop-color="#b5ff4a"/><stop offset="0.395" stop-color="#86ff79"/><stop offset="0.420" stop-color="#81ff7e"/><stop offset="0.444" stop-color="#88ff77"/><stop offset="0.469" stop-color="#97ff68"/><stop offset="0.494" stop-color="#b2ff4d"/><stop offset="0.519" stop-color="#cfff30"/><stop offset="0.543" stop-color="#e7ff18"/><stop offset="0.568" stop-color="#f3ff0c"/><stop offset="0.593" stop-color="#f3ff0c"/><stop offset="0.617" stop-color="#f1ff0e"/><stop offset="0.642" stop-color="#ecff13"/><stop offset="0.667" stop-color="#e4ff1b"/><stop offset="0.691" stop-color="#d8ff27"/><stop offset="0.716" stop-color="#caff35"/><stop offset="0.741" stop-color="#b9ff46"/><stop offset="0.765" stop-color="#a6ff59"/><stop offset="0.790" stop-color="#90ff6f"/><stop offset="0.815" stop-color="#7aff85"/><stop offset="0.840" stop-color="#62ff9d"/><stop offset="0.864" stop-color="#49ffb6"/><stop offset="0.889" stop-color="#2fffd0"/><stop offset="0.914" stop-color="#18ffe7"/><stop offset="0.938" stop-color="#05fffa"/><stop offset="0.963" stop-color="#00feff"/><stop offset="0.988" stop-color="#00ffff"/><stop offset="1.000" stop-color="#02fffd"/></linearGradient><filter id="f82" x="403.8" y="367.3" width="208.50" height="83.20" filterUnits="userSpaceOnUse"><feGaussianBlur stdDeviation="0.4 0.9" edgeMode="duplicate"/></filter><linearGradient id="g83" x1="0" y1="0" x2="0" y2="1"><stop offset="0.000" stop-color="#800000"/><stop offset="0.025" stop-color="#990000"/><stop offset="0.050" stop-color="#b30000"/><stop offset="0.075" stop-color="#cc0000"/><stop offset="0.100" stop-color="#e50000"/><stop offset="0.125" stop-color="#ff0000"/><stop offset="0.150" stop-color="#ff1a00"/><stop offset="0.175" stop-color="#ff3300"/><stop offset="0.200" stop-color="#ff4c00"/><stop offset="0.225" stop-color="#ff6600"/><stop offset="0.250" stop-color="#ff8000"/><stop offset="0.275" stop-color="#ff9900"/><stop offset="0.300" stop-color="#ffb300"/><stop offset="0.325" stop-color="#ffcc00"/><stop offset="0.350" stop-color="#ffe500"/><stop offset="0.375" stop-color="#ffff00"/><stop offset="0.400" stop-color="#e5ff1a"/><stop offset="0.425" stop-color="#ccff33"/><stop offset="0.450" stop-color="#b3ff4c"/><stop offset="0.475" stop-color="#99ff66"/><stop offset="0.500" stop-color="#80ff80"/><stop offset="0.525" stop-color="#66ff99"/><stop offset="0.550" stop-color="#4cffb3"/><stop offset="0.575" stop-color="#33ffcc"/><stop offset="0.600" stop-color="#1affe5"/><stop offset="0.625" stop-color="#00ffff"/><stop offset="0.650" stop-color="#00e5ff"/><stop offset="0.675" stop-color="#00ccff"/><stop offset="0.700" stop-color="#00b3ff"/><stop offset="0.725" stop-color="#0099ff"/><stop offset="0.750" stop-color="#0080ff"/><stop offset="0.775" stop-color="#0066ff"/><stop offset="0.800" stop-color="#004cff"/><stop offset="0.825" stop-color="#0033ff"/><stop offset="0.850" stop-color="#001aff"/><stop offset="0.875" stop-color="#0000ff"/><stop offset="0.900" stop-color="#0000e5"/><stop offset="0.925" stop-color="#0000cc"/><stop offset="0.950" stop-color="#0000b3"/><stop offset="0.975" stop-color="#000099"/><stop offset="1.000" stop-color="#000080"/></linearGradient></defs>
<rect width="685" height="473" fill="#fff"/>
<text x="13.20" y="12.60" font-size="22.5" text-anchor="start" font-weight="bold" fill="#000" font-family='"Liberation Sans", sans-serif' >a</text>
<text x="12.80" y="262.60" font-size="22.5" text-anchor="start" font-weight="bold" fill="#000" font-family='"Liberation Sans", sans-serif' >b</text>
<text x="369.30" y="262.60" font-size="22.5" text-anchor="start" font-weight="bold" fill="#000" font-family='"Liberation Sans", sans-serif' >c</text>
<text x="176.00" y="12.40" font-size="13.2" text-anchor="middle" font-weight="bold" fill="#000" font-family='"Liberation Sans", sans-serif' >First 20 minutes</text>
<text x="520.00" y="12.00" font-size="13.2" text-anchor="middle" font-weight="bold" fill="#000" font-family='"Liberation Sans", sans-serif' >Whole night</text>
<circle cx="177.5" cy="129.4" r="18.24" fill="none" stroke="#e3e3e3" stroke-width="0.9"/>
<circle cx="177.5" cy="129.4" r="36.48" fill="none" stroke="#e3e3e3" stroke-width="0.9"/>
<circle cx="177.5" cy="129.4" r="54.72" fill="none" stroke="#e3e3e3" stroke-width="0.9"/>
<circle cx="177.5" cy="129.4" r="72.96" fill="none" stroke="#e3e3e3" stroke-width="0.9"/>
<line x1="177.5" y1="129.4" x2="268.70" y2="129.40" stroke="#e3e3e3" stroke-width="0.9"/>
<line x1="177.5" y1="129.4" x2="256.48" y2="83.80" stroke="#e3e3e3" stroke-width="0.9"/>
<line x1="177.5" y1="129.4" x2="223.10" y2="50.42" stroke="#e3e3e3" stroke-width="0.9"/>
<line x1="177.5" y1="129.4" x2="177.50" y2="38.20" stroke="#e3e3e3" stroke-width="0.9"/>
<line x1="177.5" y1="129.4" x2="131.90" y2="50.42" stroke="#e3e3e3" stroke-width="0.9"/>
<line x1="177.5" y1="129.4" x2="98.52" y2="83.80" stroke="#e3e3e3" stroke-width="0.9"/>
<line x1="177.5" y1="129.4" x2="86.30" y2="129.40" stroke="#e3e3e3" stroke-width="0.9"/>
<line x1="177.5" y1="129.4" x2="98.52" y2="175.00" stroke="#e3e3e3" stroke-width="0.9"/>
<line x1="177.5" y1="129.4" x2="131.90" y2="208.38" stroke="#e3e3e3" stroke-width="0.9"/>
<line x1="177.5" y1="129.4" x2="177.50" y2="220.60" stroke="#e3e3e3" stroke-width="0.9"/>
<line x1="177.5" y1="129.4" x2="223.10" y2="208.38" stroke="#e3e3e3" stroke-width="0.9"/>
<line x1="177.5" y1="129.4" x2="256.48" y2="175.00" stroke="#e3e3e3" stroke-width="0.9"/>
<circle cx="177.5" cy="129.4" r="91.20" fill="none" stroke="#cdcdcd" stroke-width="1"/>
<text x="192.70" y="44.90" font-size="13" text-anchor="middle" font-weight="normal" fill="#262626" stroke="#262626" stroke-width="0.3" font-family='"Liberation Sans", sans-serif' >1</text>
<text x="189.80" y="62.40" font-size="13" text-anchor="middle" font-weight="normal" fill="#262626" stroke="#262626" stroke-width="0.3" font-family='"Liberation Sans", sans-serif' >0.8</text>
<text x="186.55" y="80.50" font-size="13" text-anchor="middle" font-weight="normal" fill="#262626" stroke="#262626" stroke-width="0.3" font-family='"Liberation Sans", sans-serif' >0.6</text>
<text x="183.35" y="98.60" font-size="13" text-anchor="middle" font-weight="normal" fill="#262626" stroke="#262626" stroke-width="0.3" font-family='"Liberation Sans", sans-serif' >0.4</text>
<text x="180.45" y="116.70" font-size="13" text-anchor="middle" font-weight="normal" fill="#262626" stroke="#262626" stroke-width="0.3" font-family='"Liberation Sans", sans-serif' >0.2</text>
<text x="177.20" y="133.60" font-size="13" text-anchor="middle" font-weight="normal" fill="#262626" stroke="#262626" stroke-width="0.3" font-family='"Liberation Sans", sans-serif' >0</text>
<path d="M177.50,129.40 L193.00,129.40 A15.50,15.50 0 0 1 191.82,135.33 Z" fill="rgb(250,140,170)" fill-opacity="0.34"/>
<path d="M177.50,129.40 L215.92,145.31 A41.59,41.59 0 0 1 206.91,158.81 Z" fill="rgb(250,140,170)" fill-opacity="0.34"/>
<path d="M177.50,129.40 L189.56,141.46 A17.05,17.05 0 0 1 184.03,145.16 Z" fill="rgb(250,140,170)" fill-opacity="0.34"/>
<path d="M177.50,129.40 L177.50,146.73 A17.33,17.33 0 0 1 170.87,145.41 Z" fill="rgb(250,140,170)" fill-opacity="0.34"/>
<path d="M177.50,129.40 L219.45,129.40 A41.95,41.95 0 0 1 213.83,150.38 Z" fill="rgb(150,150,255)" fill-opacity="0.3"/>
<path d="M177.50,129.40 L191.54,129.40 A14.04,14.04 0 0 0 189.66,122.38 Z" fill="rgb(150,150,255)" fill-opacity="0.3"/>
<path d="M177.50,129.40 L189.19,122.65 A13.50,13.50 0 0 0 184.25,117.71 Z" fill="rgb(150,150,255)" fill-opacity="0.3"/>
<path d="M177.50,129.40 L181.15,123.08 A7.30,7.30 0 0 0 177.50,122.10 Z" fill="rgb(150,150,255)" fill-opacity="0.3"/>
<path d="M177.50,129.40 L180.69,134.93 A6.38,6.38 0 0 1 177.50,135.78 Z" fill="rgb(150,150,255)" fill-opacity="0.3"/>
<line x1="177.5" y1="129.0" x2="255.29" y2="129.00" stroke="rgb(148,148,255)" stroke-width="2.5"/>
<line x1="177.5" y1="129.4" x2="229.49" y2="186.53" stroke="rgb(242,112,152)" stroke-width="2.9"/>
<path d="M177.50,129.40 L193.00,129.40 A15.50,15.50 0 0 1 191.82,135.33 Z" fill="none" stroke="#333" stroke-width="0.6" stroke-opacity="0.85"/>
<path d="M177.50,129.40 L215.92,145.31 A41.59,41.59 0 0 1 206.91,158.81 Z" fill="none" stroke="#333" stroke-width="0.6" stroke-opacity="0.85"/>
<path d="M177.50,129.40 L189.56,141.46 A17.05,17.05 0 0 1 184.03,145.16 Z" fill="none" stroke="#333" stroke-width="0.6" stroke-opacity="0.85"/>
<path d="M177.50,129.40 L177.50,146.73 A17.33,17.33 0 0 1 170.87,145.41 Z" fill="none" stroke="#333" stroke-width="0.6" stroke-opacity="0.85"/>
<path d="M177.50,129.40 L219.45,129.40 A41.95,41.95 0 0 1 213.83,150.38 Z" fill="none" stroke="#333" stroke-width="0.6" stroke-opacity="0.85"/>
<path d="M177.50,129.40 L191.54,129.40 A14.04,14.04 0 0 0 189.66,122.38 Z" fill="none" stroke="#333" stroke-width="0.6" stroke-opacity="0.85"/>
<path d="M177.50,129.40 L189.19,122.65 A13.50,13.50 0 0 0 184.25,117.71 Z" fill="none" stroke="#333" stroke-width="0.6" stroke-opacity="0.85"/>
<path d="M177.50,129.40 L181.15,123.08 A7.30,7.30 0 0 0 177.50,122.10 Z" fill="none" stroke="#333" stroke-width="0.6" stroke-opacity="0.85"/>
<path d="M177.50,129.40 L180.69,134.93 A6.38,6.38 0 0 1 177.50,135.78 Z" fill="none" stroke="#333" stroke-width="0.6" stroke-opacity="0.85"/>
<path d="M258.90,129.40 A81.4,81.4 0 0 1 232.07,189.80" fill="none" stroke="#111" stroke-width="1.6"/>
<text x="175.80" y="30.00" font-size="13" text-anchor="middle" font-weight="normal" fill="#262626" stroke="#262626" stroke-width="0.3" font-family='"Liberation Sans", sans-serif' ><tspan dx="1.0" font-family='"Liberation Serif", serif' font-style="italic">&#960;</tspan><tspan dx="0.9">/2</tspan></text>
<text x="226.20" y="43.30" font-size="13" text-anchor="start" font-weight="normal" fill="#262626" stroke="#262626" stroke-width="0.3" font-family='"Liberation Sans", sans-serif' ><tspan dx="0" font-family='"Liberation Serif", serif' font-style="italic">&#960;</tspan><tspan dx="0.9">/3</tspan></text>
<text x="260.00" y="78.80" font-size="13" text-anchor="start" font-weight="normal" fill="#262626" stroke="#262626" stroke-width="0.3" font-family='"Liberation Sans", sans-serif' ><tspan dx="0" font-family='"Liberation Serif", serif' font-style="italic">&#960;</tspan><tspan dx="0.9">/6</tspan></text>
<text x="273.00" y="134.30" font-size="13" text-anchor="start" font-weight="normal" fill="#262626" stroke="#262626" stroke-width="0.3" font-family='"Liberation Sans", sans-serif' >0</text>
<text x="260.40" y="190.40" font-size="13" text-anchor="start" font-weight="normal" fill="#262626" stroke="#262626" stroke-width="0.3" font-family='"Liberation Sans", sans-serif' >-<tspan dx="1.0" font-family='"Liberation Serif", serif' font-style="italic">&#960;</tspan><tspan dx="0.9">/6</tspan></text>
<text x="226.00" y="225.60" font-size="13" text-anchor="start" font-weight="normal" fill="#262626" stroke="#262626" stroke-width="0.3" font-family='"Liberation Sans", sans-serif' >-<tspan dx="1.0" font-family='"Liberation Serif", serif' font-style="italic">&#960;</tspan><tspan dx="0.9">/3</tspan></text>
<text x="177.35" y="238.50" font-size="13" text-anchor="middle" font-weight="normal" fill="#262626" stroke="#262626" stroke-width="0.3" font-family='"Liberation Sans", sans-serif' >-<tspan dx="1.0" font-family='"Liberation Serif", serif' font-style="italic">&#960;</tspan><tspan dx="0.9">/2</tspan></text>
<text x="128.30" y="225.50" font-size="13" text-anchor="end" font-weight="normal" fill="#262626" stroke="#262626" stroke-width="0.3" font-family='"Liberation Sans", sans-serif' >-2<tspan dx="1.0" font-family='"Liberation Serif", serif' font-style="italic">&#960;</tspan><tspan dx="0.9">/3</tspan></text>
<text x="94.00" y="190.00" font-size="13" text-anchor="end" font-weight="normal" fill="#262626" stroke="#262626" stroke-width="0.3" font-family='"Liberation Sans", sans-serif' >-5<tspan dx="1.0" font-family='"Liberation Serif", serif' font-style="italic">&#960;</tspan><tspan dx="0.9">/6</tspan></text>
<text x="76.90" y="135.00" font-size="13" text-anchor="end" font-weight="normal" fill="#262626" stroke="#262626" stroke-width="0.3" font-family='"Liberation Sans", sans-serif' >&#177;<tspan dx="0.6" font-family='"Liberation Serif", serif' font-style="italic">&#960;</tspan></text>
<text x="94.20" y="78.40" font-size="13" text-anchor="end" font-weight="normal" fill="#262626" stroke="#262626" stroke-width="0.3" font-family='"Liberation Sans", sans-serif' >5<tspan dx="1.0" font-family='"Liberation Serif", serif' font-style="italic">&#960;</tspan><tspan dx="0.9">/6</tspan></text>
<text x="128.20" y="43.30" font-size="13" text-anchor="end" font-weight="normal" fill="#262626" stroke="#262626" stroke-width="0.3" font-family='"Liberation Sans", sans-serif' >2<tspan dx="1.0" font-family='"Liberation Serif", serif' font-style="italic">&#960;</tspan><tspan dx="0.9">/3</tspan></text>
<line x1="258.0" y1="36.3" x2="299.0" y2="36.3" stroke="rgb(148,148,255)" stroke-width="3"/>
<line x1="258.0" y1="53" x2="299.0" y2="53" stroke="rgb(242,112,152)" stroke-width="3"/>
<text x="304.50" y="40.80" font-size="11" text-anchor="start" font-weight="normal" fill="#262626" stroke="#262626" stroke-width="0.3" font-family='"Liberation Sans", sans-serif' >IMMO</text>
<text x="304.50" y="57.20" font-size="11" text-anchor="start" font-weight="normal" fill="#262626" stroke="#262626" stroke-width="0.3" font-family='"Liberation Sans", sans-serif' >CTRL</text>
<path d="M255.00,162.50 h2.6 M255.65,161.40 l1.3,2.2 M256.95,161.40 l-1.3,2.2" stroke="#222" stroke-width="0.9"/>
<path d="M252.80,166.60 h2.6 M253.45,165.50 l1.3,2.2 M254.75,165.50 l-1.3,2.2" stroke="#222" stroke-width="0.9"/>
<circle cx="519.6" cy="129.4" r="18.24" fill="none" stroke="#e3e3e3" stroke-width="0.9"/>
<circle cx="519.6" cy="129.4" r="36.48" fill="none" stroke="#e3e3e3" stroke-width="0.9"/>
<circle cx="519.6" cy="129.4" r="54.72" fill="none" stroke="#e3e3e3" stroke-width="0.9"/>
<circle cx="519.6" cy="129.4" r="72.96" fill="none" stroke="#e3e3e3" stroke-width="0.9"/>
<line x1="519.6" y1="129.4" x2="610.80" y2="129.40" stroke="#e3e3e3" stroke-width="0.9"/>
<line x1="519.6" y1="129.4" x2="598.58" y2="83.80" stroke="#e3e3e3" stroke-width="0.9"/>
<line x1="519.6" y1="129.4" x2="565.20" y2="50.42" stroke="#e3e3e3" stroke-width="0.9"/>
<line x1="519.6" y1="129.4" x2="519.60" y2="38.20" stroke="#e3e3e3" stroke-width="0.9"/>
<line x1="519.6" y1="129.4" x2="474.00" y2="50.42" stroke="#e3e3e3" stroke-width="0.9"/>
<line x1="519.6" y1="129.4" x2="440.62" y2="83.80" stroke="#e3e3e3" stroke-width="0.9"/>
<line x1="519.6" y1="129.4" x2="428.40" y2="129.40" stroke="#e3e3e3" stroke-width="0.9"/>
<line x1="519.6" y1="129.4" x2="440.62" y2="175.00" stroke="#e3e3e3" stroke-width="0.9"/>
<line x1="519.6" y1="129.4" x2="474.00" y2="208.38" stroke="#e3e3e3" stroke-width="0.9"/>
<line x1="519.6" y1="129.4" x2="519.60" y2="220.60" stroke="#e3e3e3" stroke-width="0.9"/>
<line x1="519.6" y1="129.4" x2="565.20" y2="208.38" stroke="#e3e3e3" stroke-width="0.9"/>
<line x1="519.6" y1="129.4" x2="598.58" y2="175.00" stroke="#e3e3e3" stroke-width="0.9"/>
<circle cx="519.6" cy="129.4" r="91.20" fill="none" stroke="#cdcdcd" stroke-width="1"/>
<text x="534.80" y="44.90" font-size="13" text-anchor="middle" font-weight="normal" fill="#262626" stroke="#262626" stroke-width="0.3" font-family='"Liberation Sans", sans-serif' >1</text>
<text x="531.90" y="62.40" font-size="13" text-anchor="middle" font-weight="normal" fill="#262626" stroke="#262626" stroke-width="0.3" font-family='"Liberation Sans", sans-serif' >0.8</text>
<text x="528.65" y="80.50" font-size="13" text-anchor="middle" font-weight="normal" fill="#262626" stroke="#262626" stroke-width="0.3" font-family='"Liberation Sans", sans-serif' >0.6</text>
<text x="525.45" y="98.60" font-size="13" text-anchor="middle" font-weight="normal" fill="#262626" stroke="#262626" stroke-width="0.3" font-family='"Liberation Sans", sans-serif' >0.4</text>
<text x="522.55" y="116.70" font-size="13" text-anchor="middle" font-weight="normal" fill="#262626" stroke="#262626" stroke-width="0.3" font-family='"Liberation Sans", sans-serif' >0.2</text>
<text x="519.30" y="133.60" font-size="13" text-anchor="middle" font-weight="normal" fill="#262626" stroke="#262626" stroke-width="0.3" font-family='"Liberation Sans", sans-serif' >0</text>
<path d="M519.60,129.40 L568.39,129.40 A48.79,48.79 0 0 1 564.78,147.84 Z" fill="rgb(250,140,170)" fill-opacity="0.34"/>
<path d="M519.60,129.40 L543.95,129.40 A24.35,24.35 0 0 0 542.18,120.28 Z" fill="rgb(250,140,170)" fill-opacity="0.34"/>
<path d="M519.60,129.40 L530.07,134.97 A11.86,11.86 0 0 1 527.22,138.48 Z" fill="rgb(250,140,170)" fill-opacity="0.34"/>
<path d="M519.60,129.40 L522.34,134.14 A5.47,5.47 0 0 1 519.60,134.87 Z" fill="rgb(250,140,170)" fill-opacity="0.34"/>
<path d="M519.60,129.40 L555.62,129.40 A36.02,36.02 0 0 1 554.96,136.27 Z" fill="rgb(150,150,255)" fill-opacity="0.3"/>
<path d="M519.60,129.40 L536.51,122.57 A18.24,18.24 0 0 0 534.90,119.47 Z" fill="rgb(150,150,255)" fill-opacity="0.3"/>
<path d="M519.60,129.40 L539.30,125.57 A20.06,20.06 0 0 0 538.20,121.88 Z" fill="rgb(150,150,255)" fill-opacity="0.3"/>
<path d="M519.60,129.40 L543.77,129.40 A24.17,24.17 0 0 0 543.32,124.79 Z" fill="rgb(150,150,255)" fill-opacity="0.3"/>
<line x1="519.6" y1="129.0" x2="606.70" y2="129.00" stroke="rgb(148,148,255)" stroke-width="2.5"/>
<line x1="519.6" y1="129.4" x2="603.86" y2="147.93" stroke="rgb(242,112,152)" stroke-width="2.9"/>
<path d="M519.60,129.40 L568.39,129.40 A48.79,48.79 0 0 1 564.78,147.84 Z" fill="none" stroke="#333" stroke-width="0.6" stroke-opacity="0.85"/>
<path d="M519.60,129.40 L543.95,129.40 A24.35,24.35 0 0 0 542.18,120.28 Z" fill="none" stroke="#333" stroke-width="0.6" stroke-opacity="0.85"/>
<path d="M519.60,129.40 L530.07,134.97 A11.86,11.86 0 0 1 527.22,138.48 Z" fill="none" stroke="#333" stroke-width="0.6" stroke-opacity="0.85"/>
<path d="M519.60,129.40 L522.34,134.14 A5.47,5.47 0 0 1 519.60,134.87 Z" fill="none" stroke="#333" stroke-width="0.6" stroke-opacity="0.85"/>
<path d="M519.60,129.40 L555.62,129.40 A36.02,36.02 0 0 1 554.96,136.27 Z" fill="none" stroke="#333" stroke-width="0.6" stroke-opacity="0.85"/>
<path d="M519.60,129.40 L536.51,122.57 A18.24,18.24 0 0 0 534.90,119.47 Z" fill="none" stroke="#333" stroke-width="0.6" stroke-opacity="0.85"/>
<path d="M519.60,129.40 L539.30,125.57 A20.06,20.06 0 0 0 538.20,121.88 Z" fill="none" stroke="#333" stroke-width="0.6" stroke-opacity="0.85"/>
<path d="M519.60,129.40 L543.77,129.40 A24.17,24.17 0 0 0 543.32,124.79 Z" fill="none" stroke="#333" stroke-width="0.6" stroke-opacity="0.85"/>
<text x="517.90" y="30.00" font-size="13" text-anchor="middle" font-weight="normal" fill="#262626" stroke="#262626" stroke-width="0.3" font-family='"Liberation Sans", sans-serif' ><tspan dx="1.0" font-family='"Liberation Serif", serif' font-style="italic">&#960;</tspan><tspan dx="0.9">/2</tspan></text>
<text x="568.30" y="43.30" font-size="13" text-anchor="start" font-weight="normal" fill="#262626" stroke="#262626" stroke-width="0.3" font-family='"Liberation Sans", sans-serif' ><tspan dx="0" font-family='"Liberation Serif", serif' font-style="italic">&#960;</tspan><tspan dx="0.9">/3</tspan></text>
<text x="602.10" y="78.80" font-size="13" text-anchor="start" font-weight="normal" fill="#262626" stroke="#262626" stroke-width="0.3" font-family='"Liberation Sans", sans-serif' ><tspan dx="0" font-family='"Liberation Serif", serif' font-style="italic">&#960;</tspan><tspan dx="0.9">/6</tspan></text>
<text x="615.10" y="134.30" font-size="13" text-anchor="start" font-weight="normal" fill="#262626" stroke="#262626" stroke-width="0.3" font-family='"Liberation Sans", sans-serif' >0</text>
<text x="602.50" y="190.40" font-size="13" text-anchor="start" font-weight="normal" fill="#262626" stroke="#262626" stroke-width="0.3" font-family='"Liberation Sans", sans-serif' >-<tspan dx="1.0" font-family='"Liberation Serif", serif' font-style="italic">&#960;</tspan><tspan dx="0.9">/6</tspan></text>
<text x="568.10" y="225.60" font-size="13" text-anchor="start" font-weight="normal" fill="#262626" stroke="#262626" stroke-width="0.3" font-family='"Liberation Sans", sans-serif' >-<tspan dx="1.0" font-family='"Liberation Serif", serif' font-style="italic">&#960;</tspan><tspan dx="0.9">/3</tspan></text>
<text x="519.45" y="238.50" font-size="13" text-anchor="middle" font-weight="normal" fill="#262626" stroke="#262626" stroke-width="0.3" font-family='"Liberation Sans", sans-serif' >-<tspan dx="1.0" font-family='"Liberation Serif", serif' font-style="italic">&#960;</tspan><tspan dx="0.9">/2</tspan></text>
<text x="470.40" y="225.50" font-size="13" text-anchor="end" font-weight="normal" fill="#262626" stroke="#262626" stroke-width="0.3" font-family='"Liberation Sans", sans-serif' >-2<tspan dx="1.0" font-family='"Liberation Serif", serif' font-style="italic">&#960;</tspan><tspan dx="0.9">/3</tspan></text>
<text x="436.10" y="190.00" font-size="13" text-anchor="end" font-weight="normal" fill="#262626" stroke="#262626" stroke-width="0.3" font-family='"Liberation Sans", sans-serif' >-5<tspan dx="1.0" font-family='"Liberation Serif", serif' font-style="italic">&#960;</tspan><tspan dx="0.9">/6</tspan></text>
<text x="419.00" y="135.00" font-size="13" text-anchor="end" font-weight="normal" fill="#262626" stroke="#262626" stroke-width="0.3" font-family='"Liberation Sans", sans-serif' >&#177;<tspan dx="0.6" font-family='"Liberation Serif", serif' font-style="italic">&#960;</tspan></text>
<text x="436.30" y="78.40" font-size="13" text-anchor="end" font-weight="normal" fill="#262626" stroke="#262626" stroke-width="0.3" font-family='"Liberation Sans", sans-serif' >5<tspan dx="1.0" font-family='"Liberation Serif", serif' font-style="italic">&#960;</tspan><tspan dx="0.9">/6</tspan></text>
<text x="470.30" y="43.30" font-size="13" text-anchor="end" font-weight="normal" fill="#262626" stroke="#262626" stroke-width="0.3" font-family='"Liberation Sans", sans-serif' >2<tspan dx="1.0" font-family='"Liberation Serif", serif' font-style="italic">&#960;</tspan><tspan dx="0.9">/3</tspan></text>
<line x1="600.1" y1="36.3" x2="641.1" y2="36.3" stroke="rgb(148,148,255)" stroke-width="3"/>
<line x1="600.1" y1="53" x2="641.1" y2="53" stroke="rgb(242,112,152)" stroke-width="3"/>
<text x="646.60" y="40.80" font-size="11" text-anchor="start" font-weight="normal" fill="#262626" stroke="#262626" stroke-width="0.3" font-family='"Liberation Sans", sans-serif' >IMMO</text>
<text x="646.60" y="57.20" font-size="11" text-anchor="start" font-weight="normal" fill="#262626" stroke="#262626" stroke-width="0.3" font-family='"Liberation Sans", sans-serif' >CTRL</text>
<polyline points="72.70,347.40 73.74,347.38 74.79,347.31 75.83,347.19 76.88,347.03 77.92,346.82 78.97,346.57 80.01,346.27 81.06,345.92 82.10,345.54 83.14,345.10 84.19,344.62 85.23,344.10 86.28,343.54 87.32,342.93 88.37,342.28 89.41,341.59 90.46,340.86 91.50,340.09 92.55,339.28 93.59,338.43 94.63,337.55 95.68,336.63 96.72,335.67 97.77,334.68 98.81,333.65 99.86,332.59 100.90,331.50 101.95,330.38 102.99,329.23 104.04,328.05 105.08,326.84 106.12,325.61 107.17,324.35 108.21,323.07 109.26,321.76 110.30,320.44 111.35,319.10 112.39,317.73 113.44,316.35 114.48,314.96 115.52,313.55 116.57,312.13 117.61,310.69 118.66,309.25 119.70,307.79 120.75,306.33 121.79,304.87 122.84,303.40 123.88,301.92 124.93,300.45 125.97,298.98 127.01,297.50 128.06,296.03 129.10,294.57 130.15,293.11 131.19,291.65 132.24,290.21 133.28,288.77 134.33,287.35 135.37,285.94 136.41,284.55 137.46,283.17 138.50,281.80 139.55,280.46 140.59,279.14 141.64,277.83 142.68,276.55 143.73,275.29 144.77,274.06 145.81,272.85 146.86,271.67 147.90,270.52 148.95,269.40 149.99,268.31 151.04,267.25 152.08,266.22 153.13,265.23 154.17,264.27 155.22,263.35 156.26,262.47 157.30,261.62 158.35,260.81 159.39,260.04 160.44,259.31 161.48,258.62 162.53,257.97 163.57,257.36 164.62,256.80 165.66,256.28 166.71,255.80 167.75,255.36 168.79,254.98 169.84,254.63 170.88,254.33 171.93,254.08 172.97,253.87 174.02,253.71 175.06,253.59 176.11,253.52 177.15,253.50 178.19,253.52 179.24,253.59 180.28,253.71 181.33,253.87 182.37,254.08 183.42,254.33 184.46,254.63 185.51,254.98 186.55,255.36 187.59,255.80 188.64,256.28 189.68,256.80 190.73,257.36 191.77,257.97 192.82,258.62 193.86,259.31 194.91,260.04 195.95,260.81 197.00,261.62 198.04,262.47 199.08,263.35 200.13,264.27 201.17,265.23 202.22,266.22 203.26,267.25 204.31,268.31 205.35,269.40 206.40,270.52 207.44,271.67 208.49,272.85 209.53,274.06 210.57,275.29 211.62,276.55 212.66,277.83 213.71,279.14 214.75,280.46 215.80,281.80 216.84,283.17 217.89,284.55 218.93,285.94 219.97,287.35 221.02,288.77 222.06,290.21 223.11,291.65 224.15,293.11 225.20,294.57 226.24,296.03 227.29,297.50 228.33,298.98 229.38,300.45 230.42,301.92 231.46,303.40 232.51,304.87 233.55,306.33 234.60,307.79 235.64,309.25 236.69,310.69 237.73,312.13 238.78,313.55 239.82,314.96 240.86,316.35 241.91,317.73 242.95,319.10 244.00,320.44 245.04,321.76 246.09,323.07 247.13,324.35 248.18,325.61 249.22,326.84 250.26,328.05 251.31,329.23 252.35,330.38 253.40,331.50 254.44,332.59 255.49,333.65 256.53,334.68 257.58,335.67 258.62,336.63 259.67,337.55 260.71,338.43 261.75,339.28 262.80,340.09 263.84,340.86 264.89,341.59 265.93,342.28 266.98,342.93 268.02,343.54 269.07,344.10 270.11,344.62 271.16,345.10 272.20,345.54 273.24,345.92 274.29,346.27 275.33,346.57 276.38,346.82 277.42,347.03 278.47,347.19 279.51,347.31 280.56,347.38 281.60,347.40" fill="none" stroke="#1a1a1a" stroke-width="1"/>
<path d="M44.4,253.1 V347.4 H310.8" fill="none" stroke="#5a5a5a" stroke-width="1.1"/>
<path d="M44.4,253.1 H47.4 M72.7,347.4 V344.2 M177.4,347.4 V344.2 M281.6,347.4 V344.2" fill="none" stroke="#5a5a5a" stroke-width="1.1"/>
<text x="40.60" y="256.40" font-size="11" text-anchor="middle" font-weight="normal" fill="#333" stroke="#333" stroke-width="0.2" font-family='"Liberation Sans", sans-serif' >+</text>
<text x="41.00" y="348.60" font-size="11" text-anchor="middle" font-weight="normal" fill="#333" stroke="#333" stroke-width="0.2" font-family='"Liberation Sans", sans-serif' >-</text>
<text x="75.60" y="355.80" font-size="10" text-anchor="middle" font-weight="normal" fill="#333" stroke="#333" stroke-width="0.2" font-family='"Liberation Sans", sans-serif' >-&#960;</text>
<text x="176.50" y="355.80" font-size="10" text-anchor="middle" font-weight="normal" fill="#333" stroke="#333" stroke-width="0.2" font-family='"Liberation Sans", sans-serif' >0</text>
<text x="280.60" y="355.80" font-size="10" text-anchor="middle" font-weight="normal" fill="#333" stroke="#333" stroke-width="0.2" font-family='"Liberation Sans", sans-serif' >&#960;</text>
<line x1="158.7" y1="253.6" x2="195.9" y2="253.6" stroke="rgb(148,148,255)" stroke-width="1.4"/>
<circle cx="177.4" cy="253.6" r="3.7" fill="rgb(148,148,255)"/>
<line x1="131" y1="268.5" x2="168.6" y2="268.5" stroke="rgb(242,112,152)" stroke-width="1.4"/>
<circle cx="149.6" cy="268.5" r="3.7" fill="rgb(242,112,152)"/>
<line x1="226.1" y1="265.9" x2="254.8" y2="265.9" stroke="rgb(148,148,255)" stroke-width="1.6"/>
<line x1="226.1" y1="275.2" x2="254.8" y2="275.2" stroke="rgb(242,112,152)" stroke-width="1.6"/>
<text x="258.00" y="268.90" font-size="6.1" text-anchor="start" font-weight="normal" fill="#333" stroke="#333" stroke-width="0.15" font-family='"Liberation Sans", sans-serif' >IMMO (<tspan font-style="italic">M</tspan> &#177; <tspan font-style="italic">&#963;</tspan>)</text>
<text x="258.00" y="278.20" font-size="6.1" text-anchor="start" font-weight="normal" fill="#333" stroke="#333" stroke-width="0.15" font-family='"Liberation Sans", sans-serif' >CTRL (<tspan font-style="italic">M</tspan> &#177; <tspan font-style="italic">&#963;</tspan>)</text>
<polyline points="44.30,406.52 44.42,406.68 44.54,406.85 44.66,407.01 44.78,407.18 44.91,407.33 45.03,407.48 45.15,407.60 45.27,407.71 45.39,407.78 45.51,407.84 45.63,407.86 45.75,407.84 45.87,407.80 46.00,407.72 46.12,407.62 46.24,407.48 46.36,407.32 46.48,407.15 46.60,406.95 46.72,406.75 46.84,406.55 46.96,406.35 47.09,406.16 47.21,405.99 47.33,405.84 47.45,405.72 47.57,405.64 47.69,405.59 47.81,405.58 47.93,405.61 48.06,405.68 48.18,405.79 48.30,405.95 48.42,406.14 48.54,406.36 48.66,406.61 48.78,406.89 48.90,407.18 49.02,407.48 49.15,407.78 49.27,408.09 49.39,408.38 49.51,408.66 49.63,408.92 49.75,409.16 49.87,409.37 49.99,409.55 50.11,409.70 50.24,409.82 50.36,409.90 50.48,409.96 50.60,409.99 50.72,409.99 50.84,409.97 50.96,409.93 51.08,409.88 51.20,409.82 51.33,409.76 51.45,409.70 51.57,409.64 51.69,409.59 51.81,409.56 51.93,409.54 52.05,409.53 52.17,409.54 52.29,409.57 52.42,409.61 52.54,409.67 52.66,409.75 52.78,409.84 52.90,409.94 53.02,410.05 53.14,410.17 53.26,410.29 53.39,410.41 53.51,410.53 53.63,410.65 53.75,410.77 53.87,410.88 53.99,411.00 54.11,411.11 54.23,411.22 54.35,411.33 54.48,411.44 54.60,411.56 54.72,411.68 54.84,411.81 54.96,411.95 55.08,412.10 55.20,412.26 55.32,412.44 55.44,412.64 55.57,412.84 55.69,413.06 55.81,413.30 55.93,413.54 56.05,413.79 56.17,414.04 56.29,414.29 56.41,414.53 56.53,414.77 56.66,415.00 56.78,415.20 56.90,415.39 57.02,415.55 57.14,415.68 57.26,415.78 57.38,415.86 57.50,415.90 57.62,415.91 57.75,415.89 57.87,415.85 57.99,415.78 58.11,415.69 58.23,415.59 58.35,415.49 58.47,415.38 58.59,415.27 58.72,415.18 58.84,415.10 58.96,415.04 59.08,415.01 59.20,415.02 59.32,415.06 59.44,415.13 59.56,415.25 59.68,415.41 59.81,415.60 59.93,415.84 60.05,416.10 60.17,416.40 60.29,416.73 60.41,417.07 60.53,417.43 60.65,417.79 60.77,418.16 60.90,418.51 61.02,418.86 61.14,419.19 61.26,419.50 61.38,419.77 61.50,420.02 61.62,420.23 61.74,420.41 61.86,420.54 61.99,420.65 62.11,420.72 62.23,420.75 62.35,420.76 62.47,420.75 62.59,420.71 62.71,420.66 62.83,420.60 62.95,420.54 63.08,420.47 63.20,420.41 63.32,420.36 63.44,420.32 63.56,420.29 63.68,420.29 63.80,420.30 63.92,420.33 64.04,420.39 64.17,420.46 64.29,420.55 64.41,420.65 64.53,420.77 64.65,420.90 64.77,421.04 64.89,421.18 65.01,421.33 65.14,421.47 65.26,421.62 65.38,421.76 65.50,421.89 65.62,422.02 65.74,422.15 65.86,422.27 65.98,422.38 66.10,422.49 66.23,422.60 66.35,422.71 66.47,422.82 66.59,422.94 66.71,423.06 66.83,423.19 66.95,423.32 67.07,423.47 67.19,423.62 67.32,423.78 67.44,423.95 67.56,424.13 67.68,424.31 67.80,424.49 67.92,424.66 68.04,424.83 68.16,424.99 68.28,425.14 68.41,425.27 68.53,425.38 68.65,425.47 68.77,425.53 68.89,425.56 69.01,425.57 69.13,425.54 69.25,425.49 69.37,425.41 69.50,425.30 69.62,425.17 69.74,425.03 69.86,424.87 69.98,424.71 70.10,424.54 70.22,424.37 70.34,424.22 70.47,424.08 70.59,423.97 70.71,423.88 70.83,423.81 70.95,423.79 71.07,423.80 71.19,423.84 71.31,423.93 71.43,424.05 71.56,424.20 71.68,424.39 71.80,424.60 71.92,424.83 72.04,425.09 72.16,425.35 72.28,425.62 72.40,425.88 72.52,426.13 72.65,426.37 72.77,426.59 72.89,426.77 73.01,426.93 73.13,427.05 73.25,427.14 73.37,427.18 73.49,427.18 73.61,427.15 73.74,427.07 73.86,426.97 73.98,426.83 74.10,426.66 74.22,426.48 74.34,426.27 74.46,426.06 74.58,425.84 74.70,425.62 74.83,425.41 74.95,425.20 75.07,425.01 75.19,424.84 75.31,424.69 75.43,424.56 75.55,424.45 75.67,424.37 75.79,424.30 75.92,424.26 76.04,424.24 76.16,424.23 76.28,424.24 76.40,424.25 76.52,424.27 76.64,424.30 76.76,424.32 76.89,424.35 77.01,424.37 77.13,424.38 77.25,424.38 77.37,424.38 77.49,424.36 77.61,424.34 77.73,424.31 77.85,424.27 77.98,424.23 78.10,424.18 78.22,424.13 78.34,424.09 78.46,424.04 78.58,424.00 78.70,423.96 78.82,423.93 78.94,423.90 79.07,423.88 79.19,423.86 79.31,423.85 79.43,423.83 79.55,423.82 79.67,423.80 79.79,423.77 79.91,423.73 80.03,423.68 80.16,423.61 80.28,423.51 80.40,423.40 80.52,423.26 80.64,423.09 80.76,422.90 80.88,422.67 81.00,422.43 81.12,422.16 81.25,421.86 81.37,421.55 81.49,421.23 81.61,420.90 81.73,420.57 81.85,420.24 81.97,419.92 82.09,419.62 82.22,419.33 82.34,419.08 82.46,418.86 82.58,418.67 82.70,418.53 82.82,418.42 82.94,418.36 83.06,418.34 83.18,418.36 83.31,418.42 83.43,418.51 83.55,418.63 83.67,418.77 83.79,418.92 83.91,419.08 84.03,419.23 84.15,419.38 84.27,419.49 84.40,419.58 84.52,419.63 84.64,419.63 84.76,419.57 84.88,419.46 85.00,419.29 85.12,419.05 85.24,418.75 85.36,418.40 85.49,417.98 85.61,417.52 85.73,417.02 85.85,416.50 85.97,415.95 86.09,415.40 86.21,414.86 86.33,414.35 86.45,413.87 86.58,413.44 86.70,413.07 86.82,412.78 86.94,412.56 87.06,412.42 87.18,412.36 87.30,412.39 87.42,412.49 87.55,412.66 87.67,412.89 87.79,413.15 87.91,413.44 88.03,413.73 88.15,414.00 88.27,414.24 88.39,414.41 88.51,414.50 88.64,414.49 88.76,414.37 88.88,414.12 89.00,413.74 89.12,413.22 89.24,412.58 89.36,411.83 89.48,410.97 89.60,410.03 89.73,409.03 89.85,408.02 89.97,407.02 90.09,406.06 90.21,405.19 90.33,404.45 90.45,403.85 90.57,403.44 90.69,403.24 90.82,403.25 90.94,403.50 91.06,403.98 91.18,404.67 91.30,405.57 91.42,406.63 91.54,407.81 91.66,409.08 91.78,410.38 91.91,411.64 92.03,412.81 92.15,413.83 92.27,414.65 92.39,415.19 92.51,415.43 92.63,415.33 92.75,414.86 92.87,414.02 93.00,412.81 93.12,411.24 93.24,409.36 93.36,407.22 93.48,404.87 93.60,402.40 93.72,399.88 93.84,397.40 93.97,395.06 94.09,392.95 94.21,391.14 94.33,389.72 94.45,388.75 94.57,388.28 94.69,388.34 94.81,388.93 94.93,390.05 95.06,391.68 95.18,393.75 95.30,396.20 95.42,398.93 95.54,401.86 95.66,404.86 95.78,407.82 95.90,410.61 96.02,413.13 96.15,415.27 96.27,416.92 96.39,418.02 96.51,418.50 96.63,418.33 96.75,417.49 96.87,416.01 96.99,413.92 97.11,411.29 97.24,408.21 97.36,404.78 97.48,401.13 97.60,397.38 97.72,393.67 97.84,390.14 97.96,386.93 98.08,384.14 98.20,381.89 98.33,380.26 98.45,379.31 98.57,379.07 98.69,379.56 98.81,380.74 98.93,382.58 99.05,385.00 99.17,387.90 99.30,391.18 99.42,394.70 99.54,398.33 99.66,401.93 99.78,405.36 99.90,408.50 100.02,411.23 100.14,413.44 100.26,415.07 100.39,416.04 100.51,416.35 100.63,415.98 100.75,414.96 100.87,413.33 100.99,411.17 101.11,408.57 101.23,405.64 101.35,402.48 101.48,399.23 101.60,396.01 101.72,392.93 101.84,390.12 101.96,387.66 102.08,385.64 102.20,384.13 102.32,383.17 102.44,382.77 102.57,382.94 102.69,383.65 102.81,384.85 102.93,386.49 103.05,388.50 103.17,390.77 103.29,393.22 103.41,395.75 103.53,398.27 103.66,400.67 103.78,402.88 103.90,404.82 104.02,406.43 104.14,407.67 104.26,408.50 104.38,408.92 104.50,408.92 104.63,408.54 104.75,407.80 104.87,406.75 104.99,405.46 105.11,403.97 105.23,402.37 105.35,400.72 105.47,399.09 105.59,397.54 105.72,396.13 105.84,394.91 105.96,393.93 106.08,393.20 106.20,392.75 106.32,392.59 106.44,392.70 106.56,393.07 106.68,393.69 106.81,394.51 106.93,395.50 107.05,396.62 107.17,397.81 107.29,399.05 107.41,400.28 107.53,401.46 107.65,402.56 107.77,403.54 107.90,404.38 108.02,405.07 108.14,405.58 108.26,405.93 108.38,406.10 108.50,406.11 108.62,405.97 108.74,405.70 108.86,405.32 108.99,404.86 109.11,404.34 109.23,403.80 109.35,403.24 109.47,402.71 109.59,402.21 109.71,401.77 109.83,401.41 109.95,401.13 110.08,400.94 110.20,400.86 110.32,400.86 110.44,400.97 110.56,401.16 110.68,401.43 110.80,401.77 110.92,402.17 111.05,402.61 111.17,403.08 111.29,403.58 111.41,404.07 111.53,404.56 111.65,405.04 111.77,405.49 111.89,405.91 112.01,406.29 112.14,406.63 112.26,406.93 112.38,407.19 112.50,407.41 112.62,407.59 112.74,407.74 112.86,407.87 112.98,407.97 113.10,408.05 113.23,408.12 113.35,408.19 113.47,408.26 113.59,408.33 113.71,408.41 113.83,408.50 113.95,408.61 114.07,408.72 114.19,408.86 114.32,409.00 114.44,409.16 114.56,409.32 114.68,409.50 114.80,409.68 114.92,409.85 115.04,410.03 115.16,410.20 115.28,410.36 115.41,410.51 115.53,410.64 115.65,410.76 115.77,410.87 115.89,410.96 116.01,411.04 116.13,411.10 116.25,411.16 116.38,411.20 116.50,411.25 116.62,411.30 116.74,411.35 116.86,411.41 116.98,411.48 117.10,411.58 117.22,411.69 117.34,411.83 117.47,412.00 117.59,412.20 117.71,412.42 117.83,412.68 117.95,412.97 118.07,413.28 118.19,413.61 118.31,413.97 118.43,414.34 118.56,414.72 118.68,415.10 118.80,415.48 118.92,415.86 119.04,416.21 119.16,416.55 119.28,416.86 119.40,417.14 119.52,417.39 119.65,417.59 119.77,417.76 119.89,417.89 120.01,417.97 120.13,418.02 120.25,418.03 120.37,418.01 120.49,417.95 120.61,417.88 120.74,417.78 120.86,417.68 120.98,417.57 121.10,417.46 121.22,417.36 121.34,417.28 121.46,417.22 121.58,417.18 121.71,417.17 121.83,417.19 121.95,417.25 122.07,417.34 122.19,417.47 122.31,417.64 122.43,417.83 122.55,418.06 122.67,418.30 122.80,418.57 122.92,418.86 123.04,419.15 123.16,419.45 123.28,419.75 123.40,420.05 123.52,420.33 123.64,420.60 123.76,420.85 123.89,421.08 124.01,421.29 124.13,421.47 124.25,421.63 124.37,421.76 124.49,421.87 124.61,421.96 124.73,422.03 124.85,422.08 124.98,422.12 125.10,422.15 125.22,422.17 125.34,422.18 125.46,422.19 125.58,422.20 125.70,422.22 125.82,422.23 125.94,422.25 126.07,422.27 126.19,422.29 126.31,422.32 126.43,422.35 126.55,422.37 126.67,422.40 126.79,422.42 126.91,422.43 127.03,422.44 127.16,422.43 127.28,422.42 127.40,422.40 127.52,422.36 127.64,422.31 127.76,422.26 127.88,422.20 128.00,422.13 128.13,422.05 128.25,421.98 128.37,421.91 128.49,421.85 128.61,421.80 128.73,421.76 128.85,421.74 128.97,421.73 129.09,421.75 129.22,421.79 129.34,421.86 129.46,421.95 129.58,422.06 129.70,422.19 129.82,422.34 129.94,422.50 130.06,422.67 130.18,422.85 130.31,423.03 130.43,423.21 130.55,423.37 130.67,423.52 130.79,423.64 130.91,423.73 131.03,423.80 131.15,423.83 131.27,423.82 131.40,423.77 131.52,423.68 131.64,423.55 131.76,423.38 131.88,423.18 132.00,422.94 132.12,422.68 132.24,422.39 132.36,422.09 132.49,421.78 132.61,421.46 132.73,421.15 132.85,420.85 132.97,420.57 133.09,420.30 133.21,420.07 133.33,419.86 133.46,419.69 133.58,419.56 133.70,419.46 133.82,419.40 133.94,419.38 134.06,419.39 134.18,419.43 134.30,419.50 134.42,419.58 134.55,419.69 134.67,419.80 134.79,419.92 134.91,420.03 135.03,420.14 135.15,420.24 135.27,420.32 135.39,420.38 135.51,420.42 135.64,420.43 135.76,420.42 135.88,420.37 136.00,420.30 136.12,420.21 136.24,420.09 136.36,419.94 136.48,419.78 136.60,419.61 136.73,419.42 136.85,419.22 136.97,419.02 137.09,418.82 137.21,418.61 137.33,418.42 137.45,418.22 137.57,418.04 137.69,417.86 137.82,417.69 137.94,417.53 138.06,417.38 138.18,417.23 138.30,417.08 138.42,416.94 138.54,416.80 138.66,416.66 138.78,416.52 138.91,416.37 139.03,416.22 139.15,416.06 139.27,415.89 139.39,415.72 139.51,415.55 139.63,415.37 139.75,415.20 139.88,415.02 140.00,414.85 140.12,414.69 140.24,414.53 140.36,414.39 140.48,414.27 140.60,414.16 140.72,414.07 140.84,414.01 140.97,413.96 141.09,413.94 141.21,413.94 141.33,413.96 141.45,414.00 141.57,414.05 141.69,414.11 141.81,414.18 141.93,414.25 142.06,414.31 142.18,414.37 142.30,414.41 142.42,414.43 142.54,414.43 142.66,414.40 142.78,414.34 142.90,414.24 143.02,414.11 143.15,413.94 143.27,413.74 143.39,413.50 143.51,413.23 143.63,412.94 143.75,412.62 143.87,412.28 143.99,411.93 144.11,411.58 144.24,411.23 144.36,410.89 144.48,410.56 144.60,410.25 144.72,409.97 144.84,409.72 144.96,409.50 145.08,409.33 145.21,409.19 145.33,409.10 145.45,409.04 145.57,409.02 145.69,409.05 145.81,409.10 145.93,409.18 146.05,409.29 146.17,409.41 146.30,409.55 146.42,409.69 146.54,409.83 146.66,409.96 146.78,410.09 146.90,410.19 147.02,410.28 147.14,410.34 147.26,410.38 147.39,410.39 147.51,410.36 147.63,410.32 147.75,410.24 147.87,410.14 147.99,410.01 148.11,409.87 148.23,409.72 148.35,409.55 148.48,409.37 148.60,409.19 148.72,409.02 148.84,408.84 148.96,408.68 149.08,408.53 149.20,408.38 149.32,408.25 149.44,408.14 149.57,408.04 149.69,407.95 149.81,407.88 149.93,407.82 150.05,407.77 150.17,407.73 150.29,407.69 150.41,407.66 150.54,407.63 150.66,407.60 150.78,407.56 150.90,407.53 151.02,407.50 151.14,407.47 151.26,407.43 151.38,407.40 151.50,407.37 151.63,407.34 151.75,407.32 151.87,407.32 151.99,407.32 152.11,407.34 152.23,407.37 152.35,407.42 152.47,407.49 152.59,407.59 152.72,407.70 152.84,407.83 152.96,407.98 153.08,408.15 153.20,408.34" fill="none" stroke="rgb(168,168,250)" stroke-width="1.7" stroke-linejoin="round"/>
<polyline points="44.30,406.37 45.03,406.41 45.75,406.52 46.48,406.70 47.21,406.93 47.93,407.23 48.66,407.58 49.39,407.98 50.11,408.43 50.84,408.92 51.57,409.45 52.29,410.02 53.02,410.62 53.75,411.24 54.48,411.90 55.20,412.57 55.93,413.26 56.66,413.97 57.38,414.69 58.11,415.41 58.84,416.13 59.56,416.86 60.29,417.58 61.02,418.30 61.74,419.00 62.47,419.68 63.20,420.35 63.92,421.00 64.65,421.62 65.38,422.21 66.10,422.76 66.83,423.28 67.56,423.76 68.28,424.19 69.01,424.57 69.74,424.91 70.47,425.18 71.19,425.40 71.92,425.56 72.65,425.65 73.37,425.67 74.10,425.62 74.83,425.50 75.55,425.32 76.28,425.07 77.01,424.75 77.73,424.38 78.46,423.93 79.19,423.43 79.91,422.87 80.64,422.25 81.37,421.57 82.09,420.83 82.82,420.04 83.55,419.19 84.27,418.29 85.00,417.33 85.73,416.32 86.45,415.27 87.18,414.17 87.91,413.04 88.64,411.88 89.36,410.72 90.09,409.55 90.82,408.38 91.54,407.23 92.27,406.10 93.00,405.01 93.72,403.95 94.45,402.95 95.18,402.01 95.90,401.14 96.63,400.34 97.36,399.64 98.08,399.03 98.81,398.53 99.54,398.14 100.26,397.87 100.99,397.72 101.72,397.68 102.44,397.74 103.17,397.90 103.90,398.15 104.63,398.49 105.35,398.92 106.08,399.42 106.81,399.99 107.53,400.62 108.26,401.32 108.99,402.08 109.71,402.88 110.44,403.73 111.17,404.62 111.89,405.54 112.62,406.49 113.35,407.47 114.07,408.46 114.80,409.46 115.53,410.47 116.25,411.48 116.98,412.49 117.71,413.48 118.43,414.45 119.16,415.40 119.89,416.31 120.61,417.19 121.34,418.03 122.07,418.82 122.80,419.56 123.52,420.23 124.25,420.83 124.98,421.37 125.70,421.82 126.43,422.19 127.16,422.47 127.88,422.65 128.61,422.73 129.34,422.72 130.06,422.62 130.79,422.44 131.52,422.18 132.24,421.86 132.97,421.47 133.70,421.02 134.42,420.52 135.15,419.97 135.88,419.38 136.60,418.76 137.33,418.11 138.06,417.44 138.78,416.74 139.51,416.04 140.24,415.33 140.97,414.62 141.69,413.92 142.42,413.23 143.15,412.55 143.87,411.90 144.60,411.28 145.33,410.69 146.05,410.15 146.78,409.65 147.51,409.20 148.23,408.81 148.96,408.49 149.69,408.24 150.41,408.06 151.14,407.96 151.87,407.95 152.59,408.04" fill="none" stroke="#484848" stroke-width="0.9"/>
<rect x="44.3" y="374.4" width="108.90" height="66.80" fill="none" stroke="#3a3a3a" stroke-width="0.9"/>
<path d="M71.52,441.2 v-1.6 M71.52,374.4 v1.6 M98.75,441.2 v-1.6 M98.75,374.4 v1.6 M125.97,441.2 v-1.6 M125.97,374.4 v1.6 M44.3,431.66 h1.6 M153.20,431.66 h-1.6 M44.3,412.57 h1.6 M153.20,412.57 h-1.6 M44.3,393.49 h1.6 M153.20,393.49 h-1.6" stroke="#3a3a3a" stroke-width="0.9" fill="none"/>
<text x="44.30" y="450.00" font-size="6.1" text-anchor="middle" font-weight="normal" fill="#333" stroke="#333" stroke-width="0.15" font-family='"Liberation Sans", sans-serif' >-1</text>
<text x="71.52" y="450.00" font-size="6.1" text-anchor="middle" font-weight="normal" fill="#333" stroke="#333" stroke-width="0.15" font-family='"Liberation Sans", sans-serif' >-0.5</text>
<text x="98.75" y="450.00" font-size="6.1" text-anchor="middle" font-weight="normal" fill="#333" stroke="#333" stroke-width="0.15" font-family='"Liberation Sans", sans-serif' >0</text>
<text x="125.97" y="450.00" font-size="6.1" text-anchor="middle" font-weight="normal" fill="#333" stroke="#333" stroke-width="0.15" font-family='"Liberation Sans", sans-serif' >0.5</text>
<text x="153.20" y="450.00" font-size="6.1" text-anchor="middle" font-weight="normal" fill="#333" stroke="#333" stroke-width="0.15" font-family='"Liberation Sans", sans-serif' >1</text>
<text x="41.70" y="376.60" font-size="6.1" text-anchor="end" font-weight="normal" fill="#333" stroke="#333" stroke-width="0.15" font-family='"Liberation Sans", sans-serif' >40</text>
<text x="41.70" y="395.69" font-size="6.1" text-anchor="end" font-weight="normal" fill="#333" stroke="#333" stroke-width="0.15" font-family='"Liberation Sans", sans-serif' >20</text>
<text x="41.70" y="414.77" font-size="6.1" text-anchor="end" font-weight="normal" fill="#333" stroke="#333" stroke-width="0.15" font-family='"Liberation Sans", sans-serif' >0</text>
<text x="41.70" y="433.86" font-size="6.1" text-anchor="end" font-weight="normal" fill="#333" stroke="#333" stroke-width="0.15" font-family='"Liberation Sans", sans-serif' >-20</text>
<text x="98.75" y="460.20" font-size="7.3" text-anchor="middle" font-weight="normal" fill="#333" stroke="#333" stroke-width="0.15" font-family='"Liberation Sans", sans-serif' >Time (s)</text>
<text transform="translate(29.70,407.80) rotate(-90)" x="0" y="0" font-size="7.3" text-anchor="middle" fill="#333" font-family='"Liberation Sans", sans-serif'>Amplitude (&#956;V)</text>
<line x1="95.50" y1="433.8" x2="115.40" y2="433.8" stroke="#3c3c3c" stroke-width="0.8"/>
<text x="118.70" y="436.40" font-size="6.0" text-anchor="start" font-weight="normal" fill="#333" stroke="#333" stroke-width="0.15" font-family='"Liberation Sans", sans-serif' >SO filtered</text>
<polyline points="201.50,408.72 201.62,408.93 201.74,409.16 201.86,409.38 201.98,409.60 202.11,409.81 202.23,410.01 202.35,410.19 202.47,410.35 202.59,410.48 202.71,410.58 202.83,410.66 202.95,410.70 203.07,410.70 203.20,410.68 203.32,410.62 203.44,410.54 203.56,410.43 203.68,410.31 203.80,410.16 203.92,410.01 204.04,409.86 204.16,409.71 204.29,409.57 204.41,409.45 204.53,409.35 204.65,409.27 204.77,409.23 204.89,409.23 205.01,409.26 205.13,409.34 205.26,409.46 205.38,409.62 205.50,409.82 205.62,410.05 205.74,410.32 205.86,410.61 205.98,410.93 206.10,411.26 206.22,411.60 206.35,411.95 206.47,412.30 206.59,412.63 206.71,412.95 206.83,413.25 206.95,413.53 207.07,413.78 207.19,414.00 207.31,414.19 207.44,414.34 207.56,414.46 207.68,414.56 207.80,414.62 207.92,414.66 208.04,414.67 208.16,414.67 208.28,414.66 208.40,414.63 208.53,414.61 208.65,414.58 208.77,414.56 208.89,414.54 209.01,414.54 209.13,414.55 209.25,414.57 209.37,414.62 209.49,414.68 209.62,414.75 209.74,414.84 209.86,414.95 209.98,415.07 210.10,415.20 210.22,415.34 210.34,415.48 210.46,415.63 210.59,415.78 210.71,415.93 210.83,416.08 210.95,416.22 211.07,416.36 211.19,416.50 211.31,416.64 211.43,416.77 211.55,416.91 211.68,417.05 211.80,417.19 211.92,417.33 212.04,417.48 212.16,417.65 212.28,417.82 212.40,418.01 212.52,418.21 212.64,418.42 212.77,418.65 212.89,418.89 213.01,419.15 213.13,419.41 213.25,419.67 213.37,419.94 213.49,420.21 213.61,420.48 213.73,420.73 213.86,420.97 213.98,421.20 214.10,421.40 214.22,421.58 214.34,421.73 214.46,421.84 214.58,421.93 214.70,421.99 214.82,422.01 214.95,422.01 215.07,421.98 215.19,421.92 215.31,421.85 215.43,421.77 215.55,421.67 215.67,421.57 215.79,421.48 215.92,421.40 216.04,421.33 216.16,421.28 216.28,421.26 216.40,421.28 216.52,421.33 216.64,421.41 216.76,421.54 216.88,421.70 217.01,421.91 217.13,422.15 217.25,422.42 217.37,422.73 217.49,423.05 217.61,423.40 217.73,423.77 217.85,424.14 217.97,424.51 218.10,424.87 218.22,425.22 218.34,425.55 218.46,425.86 218.58,426.14 218.70,426.39 218.82,426.60 218.94,426.78 219.06,426.92 219.19,427.03 219.31,427.10 219.43,427.13 219.55,427.14 219.67,427.13 219.79,427.09 219.91,427.04 220.03,426.98 220.15,426.91 220.28,426.84 220.40,426.78 220.52,426.72 220.64,426.68 220.76,426.65 220.88,426.64 221.00,426.65 221.12,426.68 221.24,426.73 221.37,426.79 221.49,426.88 221.61,426.97 221.73,427.09 221.85,427.21 221.97,427.34 222.09,427.47 222.21,427.61 222.34,427.75 222.46,427.88 222.58,428.01 222.70,428.14 222.82,428.26 222.94,428.37 223.06,428.48 223.18,428.58 223.30,428.68 223.43,428.78 223.55,428.88 223.67,428.98 223.79,429.08 223.91,429.19 224.03,429.30 224.15,429.43 224.27,429.56 224.39,429.70 224.52,429.84 224.64,430.00 224.76,430.16 224.88,430.32 225.00,430.48 225.12,430.64 225.24,430.79 225.36,430.94 225.48,431.07 225.61,431.18 225.73,431.27 225.85,431.34 225.97,431.38 226.09,431.40 226.21,431.38 226.33,431.33 226.45,431.26 226.57,431.16 226.70,431.03 226.82,430.88 226.94,430.71 227.06,430.53 227.18,430.34 227.30,430.15 227.42,429.97 227.54,429.79 227.67,429.63 227.79,429.48 227.91,429.37 228.03,429.28 228.15,429.23 228.27,429.21 228.39,429.23 228.51,429.29 228.63,429.38 228.76,429.51 228.88,429.67 229.00,429.85 229.12,430.06 229.24,430.28 229.36,430.52 229.48,430.75 229.60,430.99 229.72,431.21 229.85,431.42 229.97,431.61 230.09,431.77 230.21,431.89 230.33,431.99 230.45,432.04 230.57,432.05 230.69,432.03 230.81,431.96 230.94,431.86 231.06,431.73 231.18,431.56 231.30,431.37 231.42,431.15 231.54,430.92 231.66,430.68 231.78,430.43 231.90,430.18 232.03,429.94 232.15,429.71 232.27,429.49 232.39,429.29 232.51,429.12 232.63,428.96 232.75,428.83 232.87,428.72 232.99,428.63 233.12,428.56 233.24,428.51 233.36,428.48 233.48,428.46 233.60,428.46 233.72,428.46 233.84,428.46 233.96,428.46 234.09,428.47 234.21,428.46 234.33,428.45 234.45,428.44 234.57,428.41 234.69,428.38 234.81,428.34 234.93,428.29 235.05,428.24 235.18,428.18 235.30,428.11 235.42,428.05 235.54,427.99 235.66,427.93 235.78,427.87 235.90,427.82 236.02,427.77 236.14,427.74 236.27,427.70 236.39,427.68 236.51,427.65 236.63,427.63 236.75,427.61 236.87,427.58 236.99,427.55 237.11,427.50 237.23,427.45 237.36,427.38 237.48,427.28 237.60,427.17 237.72,427.03 237.84,426.86 237.96,426.67 238.08,426.46 238.20,426.21 238.32,425.94 238.45,425.66 238.57,425.35 238.69,425.03 238.81,424.70 238.93,424.37 239.05,424.05 239.17,423.73 239.29,423.43 239.42,423.15 239.54,422.90 239.66,422.69 239.78,422.51 239.90,422.38 240.02,422.29 240.14,422.25 240.26,422.26 240.38,422.31 240.51,422.41 240.63,422.54 240.75,422.70 240.87,422.89 240.99,423.10 241.11,423.31 241.23,423.52 241.35,423.72 241.47,423.89 241.60,424.02 241.72,424.11 241.84,424.14 241.96,424.11 242.08,424.02 242.20,423.85 242.32,423.60 242.44,423.29 242.56,422.90 242.69,422.46 242.81,421.96 242.93,421.42 243.05,420.86 243.17,420.28 243.29,419.71 243.41,419.17 243.53,418.66 243.65,418.22 243.78,417.86 243.90,417.58 244.02,417.41 244.14,417.34 244.26,417.38 244.38,417.54 244.50,417.79 244.62,418.14 244.75,418.55 244.87,419.02 244.99,419.52 245.11,420.02 245.23,420.48 245.35,420.89 245.47,421.19 245.59,421.38 245.71,421.42 245.84,421.29 245.96,420.98 246.08,420.48 246.20,419.80 246.32,418.93 246.44,417.90 246.56,416.75 246.68,415.49 246.80,414.18 246.93,412.86 247.05,411.60 247.17,410.43 247.29,409.41 247.41,408.60 247.53,408.05 247.65,407.77 247.77,407.82 247.89,408.19 248.02,408.89 248.14,409.91 248.26,411.22 248.38,412.78 248.50,414.52 248.62,416.39 248.74,418.29 248.86,420.16 248.98,421.89 249.11,423.40 249.23,424.60 249.35,425.43 249.47,425.81 249.59,425.70 249.71,425.06 249.83,423.90 249.95,422.21 250.07,420.04 250.20,417.45 250.32,414.52 250.44,411.33 250.56,408.02 250.68,404.69 250.80,401.47 250.92,398.51 251.04,395.91 251.17,393.79 251.29,392.26 251.41,391.38 251.53,391.20 251.65,391.76 251.77,393.04 251.89,395.00 252.01,397.59 252.13,400.70 252.26,404.21 252.38,407.99 252.50,411.88 252.62,415.72 252.74,419.35 252.86,422.61 252.98,425.34 253.10,427.43 253.22,428.77 253.35,429.29 253.47,428.94 253.59,427.73 253.71,425.67 253.83,422.85 253.95,419.34 254.07,415.30 254.19,410.85 254.31,406.18 254.44,401.45 254.56,396.86 254.68,392.58 254.80,388.77 254.92,385.57 255.04,383.12 255.16,381.49 255.28,380.75 255.40,380.91 255.53,381.95 255.65,383.83 255.77,386.44 255.89,389.68 256.01,393.41 256.13,397.45 256.25,401.65 256.37,405.82 256.50,409.80 256.62,413.41 256.74,416.53 256.86,419.02 256.98,420.80 257.10,421.79 257.22,421.98 257.34,421.37 257.46,419.99 257.59,417.91 257.71,415.22 257.83,412.05 257.95,408.53 258.07,404.79 258.19,401.00 258.31,397.29 258.43,393.80 258.55,390.67 258.68,387.99 258.80,385.84 258.92,384.30 259.04,383.39 259.16,383.12 259.28,383.47 259.40,384.40 259.52,385.83 259.64,387.69 259.77,389.87 259.89,392.28 260.01,394.80 260.13,397.32 260.25,399.75 260.37,401.97 260.49,403.91 260.61,405.51 260.73,406.72 260.86,407.49 260.98,407.83 261.10,407.74 261.22,407.24 261.34,406.37 261.46,405.19 261.58,403.75 261.70,402.12 261.83,400.38 261.95,398.60 262.07,396.85 262.19,395.19 262.31,393.68 262.43,392.37 262.55,391.30 262.67,390.48 262.79,389.94 262.92,389.68 263.04,389.69 263.16,389.95 263.28,390.43 263.40,391.11 263.52,391.94 263.64,392.88 263.76,393.90 263.88,394.94 264.01,395.98 264.13,396.97 264.25,397.89 264.37,398.71 264.49,399.41 264.61,399.98 264.73,400.40 264.85,400.69 264.97,400.83 265.10,400.85 265.22,400.74 265.34,400.54 265.46,400.25 265.58,399.89 265.70,399.48 265.82,399.05 265.94,398.61 266.06,398.18 266.19,397.77 266.31,397.39 266.43,397.06 266.55,396.79 266.67,396.57 266.79,396.42 266.91,396.33 267.03,396.30 267.15,396.33 267.28,396.41 267.40,396.55 267.52,396.73 267.64,396.94 267.76,397.19 267.88,397.46 268.00,397.75 268.12,398.05 268.25,398.36 268.37,398.67 268.49,398.97 268.61,399.27 268.73,399.55 268.85,399.82 268.97,400.08 269.09,400.32 269.21,400.55 269.34,400.75 269.46,400.94 269.58,401.12 269.70,401.28 269.82,401.42 269.94,401.56 270.06,401.68 270.18,401.80 270.30,401.91 270.43,402.02 270.55,402.13 270.67,402.24 270.79,402.35 270.91,402.46 271.03,402.58 271.15,402.71 271.27,402.84 271.39,402.97 271.52,403.11 271.64,403.25 271.76,403.39 271.88,403.53 272.00,403.68 272.12,403.81 272.24,403.94 272.36,404.06 272.48,404.18 272.61,404.28 272.73,404.37 272.85,404.45 272.97,404.51 273.09,404.56 273.21,404.61 273.33,404.64 273.45,404.67 273.58,404.69 273.70,404.72 273.82,404.74 273.94,404.78 274.06,404.83 274.18,404.89 274.30,404.97 274.42,405.07 274.54,405.20 274.67,405.36 274.79,405.54 274.91,405.76 275.03,406.00 275.15,406.28 275.27,406.57 275.39,406.90 275.51,407.24 275.63,407.60 275.76,407.96 275.88,408.33 276.00,408.70 276.12,409.06 276.24,409.40 276.36,409.73 276.48,410.03 276.60,410.29 276.72,410.53 276.85,410.72 276.97,410.88 277.09,411.00 277.21,411.08 277.33,411.12 277.45,411.12 277.57,411.09 277.69,411.03 277.81,410.95 277.94,410.86 278.06,410.75 278.18,410.64 278.30,410.53 278.42,410.43 278.54,410.34 278.66,410.28 278.78,410.24 278.91,410.24 279.03,410.26 279.15,410.32 279.27,410.42 279.39,410.55 279.51,410.72 279.63,410.92 279.75,411.15 279.87,411.41 280.00,411.69 280.12,411.98 280.24,412.28 280.36,412.59 280.48,412.90 280.60,413.21 280.72,413.51 280.84,413.79 280.96,414.05 281.09,414.30 281.21,414.52 281.33,414.72 281.45,414.90 281.57,415.05 281.69,415.18 281.81,415.29 281.93,415.38 282.05,415.45 282.18,415.51 282.30,415.57 282.42,415.61 282.54,415.65 282.66,415.69 282.78,415.73 282.90,415.77 283.02,415.82 283.14,415.87 283.27,415.92 283.39,415.98 283.51,416.04 283.63,416.11 283.75,416.17 283.87,416.24 283.99,416.30 284.11,416.36 284.23,416.41 284.36,416.45 284.48,416.48 284.60,416.51 284.72,416.52 284.84,416.53 284.96,416.52 285.08,416.52 285.20,416.50 285.33,416.49 285.45,416.47 285.57,416.46 285.69,416.46 285.81,416.47 285.93,416.49 286.05,416.54 286.17,416.60 286.29,416.68 286.42,416.79 286.54,416.92 286.66,417.08 286.78,417.26 286.90,417.47 287.02,417.69 287.14,417.92 287.26,418.17 287.38,418.42 287.51,418.68 287.63,418.93 287.75,419.17 287.87,419.39 287.99,419.59 288.11,419.76 288.23,419.91 288.35,420.01 288.47,420.08 288.60,420.11 288.72,420.10 288.84,420.05 288.96,419.97 289.08,419.84 289.20,419.69 289.32,419.51 289.44,419.30 289.56,419.08 289.69,418.85 289.81,418.62 289.93,418.39 290.05,418.17 290.17,417.96 290.29,417.78 290.41,417.63 290.53,417.50 290.66,417.41 290.78,417.36 290.90,417.34 291.02,417.36 291.14,417.42 291.26,417.51 291.38,417.63 291.50,417.77 291.62,417.94 291.75,418.12 291.87,418.31 291.99,418.51 292.11,418.70 292.23,418.89 292.35,419.06 292.47,419.22 292.59,419.36 292.71,419.47 292.84,419.56 292.96,419.62 293.08,419.65 293.20,419.66 293.32,419.64 293.44,419.59 293.56,419.52 293.68,419.44 293.80,419.33 293.93,419.22 294.05,419.09 294.17,418.96 294.29,418.83 294.41,418.70 294.53,418.58 294.65,418.45 294.77,418.34 294.89,418.23 295.02,418.13 295.14,418.04 295.26,417.96 295.38,417.88 295.50,417.80 295.62,417.73 295.74,417.65 295.86,417.58 295.98,417.50 296.11,417.42 296.23,417.33 296.35,417.24 296.47,417.14 296.59,417.03 296.71,416.92 296.83,416.81 296.95,416.70 297.08,416.58 297.20,416.47 297.32,416.37 297.44,416.28 297.56,416.20 297.68,416.13 297.80,416.08 297.92,416.05 298.04,416.04 298.17,416.06 298.29,416.09 298.41,416.15 298.53,416.22 298.65,416.32 298.77,416.42 298.89,416.54 299.01,416.66 299.13,416.78 299.26,416.90 299.38,417.00 299.50,417.09 299.62,417.17 299.74,417.21 299.86,417.23 299.98,417.22 300.10,417.17 300.22,417.08 300.35,416.96 300.47,416.80 300.59,416.61 300.71,416.38 300.83,416.13 300.95,415.86 301.07,415.56 301.19,415.25 301.31,414.94 301.44,414.63 301.56,414.32 301.68,414.03 301.80,413.76 301.92,413.52 302.04,413.30 302.16,413.12 302.28,412.98 302.41,412.88 302.53,412.81 302.65,412.79 302.77,412.81 302.89,412.86 303.01,412.94 303.13,413.05 303.25,413.18 303.37,413.33 303.50,413.50 303.62,413.66 303.74,413.83 303.86,413.99 303.98,414.13 304.10,414.26 304.22,414.37 304.34,414.45 304.46,414.50 304.59,414.53 304.71,414.52 304.83,414.49 304.95,414.43 305.07,414.34 305.19,414.23 305.31,414.10 305.43,413.96 305.55,413.80 305.68,413.63 305.80,413.46 305.92,413.29 306.04,413.13 306.16,412.97 306.28,412.82 306.40,412.68 306.52,412.55 306.64,412.44 306.77,412.34 306.89,412.26 307.01,412.18 307.13,412.12 307.25,412.06 307.37,412.01 307.49,411.97 307.61,411.93 307.74,411.89 307.86,411.85 307.98,411.81 308.10,411.77 308.22,411.73 308.34,411.68 308.46,411.63 308.58,411.58 308.70,411.54 308.83,411.49 308.95,411.45 309.07,411.42 309.19,411.41 309.31,411.40 309.43,411.41 309.55,411.44 309.67,411.49 309.79,411.55 309.92,411.64 310.04,411.74 310.16,411.86 310.28,412.00 310.40,412.15" fill="none" stroke="rgb(245,150,180)" stroke-width="1.7" stroke-linejoin="round"/>
<polyline points="201.50,408.56 202.23,408.94 202.95,409.37 203.68,409.86 204.41,410.39 205.13,410.96 205.86,411.58 206.59,412.23 207.31,412.91 208.04,413.63 208.77,414.36 209.49,415.12 210.22,415.90 210.95,416.70 211.68,417.50 212.40,418.32 213.13,419.13 213.86,419.95 214.58,420.76 215.31,421.57 216.04,422.36 216.76,423.15 217.49,423.91 218.22,424.65 218.94,425.37 219.67,426.06 220.40,426.72 221.12,427.34 221.85,427.92 222.58,428.46 223.30,428.95 224.03,429.40 224.76,429.78 225.48,430.12 226.21,430.39 226.94,430.59 227.67,430.73 228.39,430.79 229.12,430.78 229.85,430.70 230.57,430.54 231.30,430.32 232.03,430.04 232.75,429.69 233.48,429.30 234.21,428.85 234.93,428.36 235.66,427.82 236.39,427.25 237.11,426.64 237.84,426.01 238.57,425.35 239.29,424.67 240.02,423.97 240.75,423.25 241.47,422.52 242.20,421.76 242.93,420.97 243.65,420.17 244.38,419.34 245.11,418.49 245.84,417.61 246.56,416.70 247.29,415.76 248.02,414.80 248.74,413.81 249.47,412.78 250.20,411.73 250.92,410.65 251.65,409.55 252.38,408.44 253.10,407.33 253.83,406.21 254.56,405.11 255.28,404.02 256.01,402.95 256.74,401.91 257.46,400.92 258.19,399.98 258.92,399.12 259.64,398.35 260.37,397.69 261.10,397.15 261.83,396.76 262.55,396.53 263.28,396.45 264.01,396.53 264.73,396.73 265.46,397.06 266.19,397.49 266.91,398.02 267.64,398.63 268.37,399.31 269.09,400.04 269.82,400.82 270.55,401.62 271.27,402.45 272.00,403.30 272.73,404.17 273.45,405.04 274.18,405.93 274.91,406.81 275.63,407.69 276.36,408.57 277.09,409.43 277.81,410.27 278.54,411.10 279.27,411.90 280.00,412.67 280.72,413.40 281.45,414.10 282.18,414.76 282.90,415.38 283.63,415.95 284.36,416.48 285.08,416.97 285.81,417.40 286.54,417.78 287.26,418.11 287.99,418.39 288.72,418.61 289.44,418.77 290.17,418.86 290.90,418.90 291.62,418.87 292.35,418.79 293.08,418.66 293.80,418.49 294.53,418.27 295.26,418.02 295.98,417.73 296.71,417.41 297.44,417.07 298.17,416.72 298.89,416.34 299.62,415.96 300.35,415.57 301.07,415.18 301.80,414.79 302.53,414.41 303.25,414.04 303.98,413.69 304.71,413.36 305.43,413.05 306.16,412.78 306.89,412.54 307.61,412.33 308.34,412.17 309.07,412.06 309.79,412.00" fill="none" stroke="#484848" stroke-width="0.9"/>
<rect x="201.5" y="374.4" width="108.90" height="66.80" fill="none" stroke="#3a3a3a" stroke-width="0.9"/>
<path d="M228.72,441.2 v-1.6 M228.72,374.4 v1.6 M255.95,441.2 v-1.6 M255.95,374.4 v1.6 M283.17,441.2 v-1.6 M283.17,374.4 v1.6 M201.5,431.66 h1.6 M310.40,431.66 h-1.6 M201.5,412.57 h1.6 M310.40,412.57 h-1.6 M201.5,393.49 h1.6 M310.40,393.49 h-1.6" stroke="#3a3a3a" stroke-width="0.9" fill="none"/>
<text x="201.50" y="450.00" font-size="6.1" text-anchor="middle" font-weight="normal" fill="#333" stroke="#333" stroke-width="0.15" font-family='"Liberation Sans", sans-serif' >-1</text>
<text x="228.72" y="450.00" font-size="6.1" text-anchor="middle" font-weight="normal" fill="#333" stroke="#333" stroke-width="0.15" font-family='"Liberation Sans", sans-serif' >-0.5</text>
<text x="255.95" y="450.00" font-size="6.1" text-anchor="middle" font-weight="normal" fill="#333" stroke="#333" stroke-width="0.15" font-family='"Liberation Sans", sans-serif' >0</text>
<text x="283.17" y="450.00" font-size="6.1" text-anchor="middle" font-weight="normal" fill="#333" stroke="#333" stroke-width="0.15" font-family='"Liberation Sans", sans-serif' >0.5</text>
<text x="310.40" y="450.00" font-size="6.1" text-anchor="middle" font-weight="normal" fill="#333" stroke="#333" stroke-width="0.15" font-family='"Liberation Sans", sans-serif' >1</text>
<text x="198.90" y="376.60" font-size="6.1" text-anchor="end" font-weight="normal" fill="#333" stroke="#333" stroke-width="0.15" font-family='"Liberation Sans", sans-serif' >40</text>
<text x="198.90" y="395.69" font-size="6.1" text-anchor="end" font-weight="normal" fill="#333" stroke="#333" stroke-width="0.15" font-family='"Liberation Sans", sans-serif' >20</text>
<text x="198.90" y="414.77" font-size="6.1" text-anchor="end" font-weight="normal" fill="#333" stroke="#333" stroke-width="0.15" font-family='"Liberation Sans", sans-serif' >0</text>
<text x="198.90" y="433.86" font-size="6.1" text-anchor="end" font-weight="normal" fill="#333" stroke="#333" stroke-width="0.15" font-family='"Liberation Sans", sans-serif' >-20</text>
<text x="255.95" y="460.20" font-size="7.3" text-anchor="middle" font-weight="normal" fill="#333" stroke="#333" stroke-width="0.15" font-family='"Liberation Sans", sans-serif' >Time (s)</text>
<text transform="translate(186.90,407.80) rotate(-90)" x="0" y="0" font-size="7.3" text-anchor="middle" fill="#333" font-family='"Liberation Sans", sans-serif'>Amplitude (&#956;V)</text>
<line x1="252.70" y1="433.8" x2="272.60" y2="433.8" stroke="#3c3c3c" stroke-width="0.8"/>
<text x="275.90" y="436.40" font-size="6.0" text-anchor="start" font-weight="normal" fill="#333" stroke="#333" stroke-width="0.15" font-family='"Liberation Sans", sans-serif' >SO filtered</text>
<g clip-path="url(#c1)"><g filter="url(#f41)" shape-rendering="crispEdges"><rect x="406.8" y="261" width="202.50" height="2" fill="url(#g2)"/><rect x="406.8" y="263" width="202.50" height="2" fill="url(#g3)"/><rect x="406.8" y="265" width="202.50" height="2" fill="url(#g4)"/><rect x="406.8" y="267" width="202.50" height="2" fill="url(#g5)"/><rect x="406.8" y="269" width="202.50" height="2" fill="url(#g6)"/><rect x="406.8" y="271" width="202.50" height="2" fill="url(#g7)"/><rect x="406.8" y="273" width="202.50" height="2" fill="url(#g8)"/><rect x="406.8" y="275" width="202.50" height="2" fill="url(#g9)"/><rect x="406.8" y="277" width="202.50" height="2" fill="url(#g10)"/><rect x="406.8" y="279" width="202.50" height="2" fill="url(#g11)"/><rect x="406.8" y="281" width="202.50" height="2" fill="url(#g12)"/><rect x="406.8" y="283" width="202.50" height="2" fill="url(#g13)"/><rect x="406.8" y="285" width="202.50" height="2" fill="url(#g14)"/><rect x="406.8" y="287" width="202.50" height="2" fill="url(#g15)"/><rect x="406.8" y="289" width="202.50" height="2" fill="url(#g16)"/><rect x="406.8" y="291" width="202.50" height="2" fill="url(#g17)"/><rect x="406.8" y="293" width="202.50" height="2" fill="url(#g18)"/><rect x="406.8" y="295" width="202.50" height="2" fill="url(#g19)"/><rect x="406.8" y="297" width="202.50" height="2" fill="url(#g20)"/><rect x="406.8" y="299" width="202.50" height="2" fill="url(#g21)"/><rect x="406.8" y="301" width="202.50" height="2" fill="url(#g22)"/><rect x="406.8" y="303" width="202.50" height="2" fill="url(#g23)"/><rect x="406.8" y="305" width="202.50" height="2" fill="url(#g24)"/><rect x="406.8" y="307" width="202.50" height="2" fill="url(#g25)"/><rect x="406.8" y="309" width="202.50" height="2" fill="url(#g26)"/><rect x="406.8" y="311" width="202.50" height="2" fill="url(#g27)"/><rect x="406.8" y="313" width="202.50" height="2" fill="url(#g28)"/><rect x="406.8" y="315" width="202.50" height="2" fill="url(#g29)"/><rect x="406.8" y="317" width="202.50" height="2" fill="url(#g30)"/><rect x="406.8" y="319" width="202.50" height="2" fill="url(#g31)"/><rect x="406.8" y="321" width="202.50" height="2" fill="url(#g32)"/><rect x="406.8" y="323" width="202.50" height="2" fill="url(#g33)"/><rect x="406.8" y="325" width="202.50" height="2" fill="url(#g34)"/><rect x="406.8" y="327" width="202.50" height="2" fill="url(#g35)"/><rect x="406.8" y="329" width="202.50" height="2" fill="url(#g36)"/><rect x="406.8" y="331" width="202.50" height="2" fill="url(#g37)"/><rect x="406.8" y="333" width="202.50" height="2" fill="url(#g38)"/><rect x="406.8" y="335" width="202.50" height="2" fill="url(#g39)"/><rect x="406.8" y="337" width="202.50" height="2" fill="url(#g40)"/><rect x="406.8" y="339" width="202.50" height="2" fill="url(#g41)"/></g></g>
<polyline points="406.80,303.90 407.48,304.21 408.15,304.49 408.83,304.75 409.51,304.98 410.19,305.19 410.86,305.38 411.54,305.54 412.22,305.68 412.90,305.80 413.57,305.89 414.25,305.96 414.93,306.01 415.60,306.04 416.28,306.04 416.96,306.03 417.64,306.00 418.31,305.94 418.99,305.87 419.67,305.77 420.35,305.66 421.02,305.53 421.70,305.39 422.38,305.22 423.05,305.04 423.73,304.84 424.41,304.62 425.09,304.39 425.76,304.14 426.44,303.88 427.12,303.60 427.79,303.30 428.47,303.00 429.15,302.68 429.83,302.34 430.50,301.99 431.18,301.63 431.86,301.26 432.54,300.88 433.21,300.48 433.89,300.07 434.57,299.65 435.24,299.23 435.92,298.79 436.60,298.34 437.28,297.88 437.95,297.42 438.63,296.94 439.31,296.47 439.99,296.00 440.66,295.53 441.34,295.07 442.02,294.62 442.69,294.18 443.37,293.75 444.05,293.35 444.73,292.97 445.40,292.61 446.08,292.28 446.76,291.98 447.44,291.72 448.11,291.49 448.79,291.30 449.47,291.16 450.14,291.06 450.82,291.01 451.50,291.02 452.18,291.08 452.85,291.19 453.53,291.37 454.21,291.61 454.89,291.92 455.56,292.30 456.24,292.76 456.92,293.28 457.59,293.88 458.27,294.54 458.95,295.27 459.63,296.05 460.30,296.88 460.98,297.75 461.66,298.67 462.34,299.63 463.01,300.62 463.69,301.64 464.37,302.68 465.04,303.73 465.72,304.81 466.40,305.89 467.08,306.97 467.75,308.06 468.43,309.14 469.11,310.21 469.78,311.27 470.46,312.31 471.14,313.32 471.82,314.31 472.49,315.26 473.17,316.17 473.85,317.05 474.53,317.87 475.20,318.65 475.88,319.36 476.56,320.02 477.23,320.61 477.91,321.13 478.59,321.57 479.27,321.94 479.94,322.24 480.62,322.47 481.30,322.62 481.98,322.71 482.65,322.73 483.33,322.68 484.01,322.56 484.68,322.39 485.36,322.15 486.04,321.85 486.72,321.49 487.39,321.07 488.07,320.60 488.75,320.07 489.43,319.49 490.10,318.85 490.78,318.17 491.46,317.44 492.13,316.65 492.81,315.82 493.49,314.95 494.17,314.03 494.84,313.07 495.52,312.07 496.20,311.03 496.88,309.96 497.55,308.86 498.23,307.75 498.91,306.62 499.58,305.49 500.26,304.36 500.94,303.23 501.62,302.13 502.29,301.05 502.97,299.99 503.65,298.98 504.33,298.00 505.00,297.08 505.68,296.21 506.36,295.39 507.03,294.62 507.71,293.91 508.39,293.25 509.07,292.66 509.74,292.12 510.42,291.64 511.10,291.22 511.77,290.86 512.45,290.57 513.13,290.34 513.81,290.18 514.48,290.08 515.16,290.05 515.84,290.08 516.52,290.18 517.19,290.33 517.87,290.53 518.55,290.78 519.22,291.07 519.90,291.39 520.58,291.76 521.26,292.15 521.93,292.57 522.61,293.01 523.29,293.47 523.97,293.94 524.64,294.42 525.32,294.92 526.00,295.42 526.67,295.93 527.35,296.44 528.03,296.96 528.71,297.48 529.38,297.99 530.06,298.51 530.74,299.01 531.42,299.52 532.09,300.01 532.77,300.49 533.45,300.97 534.12,301.42 534.80,301.87 535.48,302.29 536.16,302.70 536.83,303.08 537.51,303.45 538.19,303.78 538.87,304.09 539.54,304.38 540.22,304.63 540.90,304.85 541.57,305.04 542.25,305.19 542.93,305.32 543.61,305.43 544.28,305.51 544.96,305.57 545.64,305.62 546.32,305.66 546.99,305.68 547.67,305.70 548.35,305.72 549.02,305.74 549.70,305.77 550.38,305.80 551.06,305.83 551.73,305.88 552.41,305.93 553.09,305.99 553.76,306.05 554.44,306.12 555.12,306.19 555.80,306.27 556.47,306.35 557.15,306.44 557.83,306.53 558.51,306.62 559.18,306.72 559.86,306.82 560.54,306.92 561.21,307.02 561.89,307.12 562.57,307.22 563.25,307.33 563.92,307.43 564.60,307.53 565.28,307.63 565.96,307.73 566.63,307.83 567.31,307.93 567.99,308.02 568.66,308.11 569.34,308.20 570.02,308.28 570.70,308.36 571.37,308.44 572.05,308.51 572.73,308.57 573.41,308.63 574.08,308.68 574.76,308.73 575.44,308.77 576.11,308.80 576.79,308.82 577.47,308.84 578.15,308.84 578.82,308.84 579.50,308.83 580.18,308.81 580.86,308.78 581.53,308.74 582.21,308.70 582.89,308.64 583.56,308.58 584.24,308.51 584.92,308.43 585.60,308.34 586.27,308.24 586.95,308.14 587.63,308.03 588.31,307.91 588.98,307.78 589.66,307.64 590.34,307.50 591.01,307.35 591.69,307.20 592.37,307.03 593.05,306.86 593.72,306.68 594.40,306.50 595.08,306.31 595.75,306.11 596.43,305.90 597.11,305.69 597.79,305.48 598.46,305.25 599.14,305.02 599.82,304.79 600.50,304.54 601.17,304.30 601.85,304.04 602.53,303.78 603.20,303.52 603.88,303.25 604.56,302.98 605.24,302.69 605.91,302.41 606.59,302.12 607.27,301.82 607.95,301.52 608.62,301.22 609.30,300.91" fill="none" stroke="rgb(188,186,245)" stroke-width="2.2" stroke-linejoin="round"/>
<rect x="406.8" y="261.4" width="202.50" height="77.70" fill="none" stroke="#3a3a3a" stroke-width="0.9"/>
<text x="406.80" y="347.80" font-size="6.6" text-anchor="middle" font-weight="normal" fill="#333" stroke="#333" stroke-width="0.15" font-family='"Liberation Sans", sans-serif' >-1</text>
<text x="435.73" y="347.80" font-size="6.6" text-anchor="middle" font-weight="normal" fill="#333" stroke="#333" stroke-width="0.15" font-family='"Liberation Sans", sans-serif' >-0.5</text>
<text x="464.66" y="347.80" font-size="6.6" text-anchor="middle" font-weight="normal" fill="#333" stroke="#333" stroke-width="0.15" font-family='"Liberation Sans", sans-serif' >0</text>
<text x="493.59" y="347.80" font-size="6.6" text-anchor="middle" font-weight="normal" fill="#333" stroke="#333" stroke-width="0.15" font-family='"Liberation Sans", sans-serif' >0.5</text>
<text x="522.51" y="347.80" font-size="6.6" text-anchor="middle" font-weight="normal" fill="#333" stroke="#333" stroke-width="0.15" font-family='"Liberation Sans", sans-serif' >1</text>
<text x="551.44" y="347.80" font-size="6.6" text-anchor="middle" font-weight="normal" fill="#333" stroke="#333" stroke-width="0.15" font-family='"Liberation Sans", sans-serif' >1.5</text>
<text x="580.37" y="347.80" font-size="6.6" text-anchor="middle" font-weight="normal" fill="#333" stroke="#333" stroke-width="0.15" font-family='"Liberation Sans", sans-serif' >2</text>
<text x="609.30" y="347.80" font-size="6.6" text-anchor="middle" font-weight="normal" fill="#333" stroke="#333" stroke-width="0.15" font-family='"Liberation Sans", sans-serif' >2.5</text>
<text x="405.00" y="341.50" font-size="6.6" text-anchor="end" font-weight="normal" fill="#333" stroke="#333" stroke-width="0.15" font-family='"Liberation Sans", sans-serif' >10</text>
<text x="405.00" y="325.96" font-size="6.6" text-anchor="end" font-weight="normal" fill="#333" stroke="#333" stroke-width="0.15" font-family='"Liberation Sans", sans-serif' >12</text>
<text x="405.00" y="310.42" font-size="6.6" text-anchor="end" font-weight="normal" fill="#333" stroke="#333" stroke-width="0.15" font-family='"Liberation Sans", sans-serif' >14</text>
<text x="405.00" y="294.88" font-size="6.6" text-anchor="end" font-weight="normal" fill="#333" stroke="#333" stroke-width="0.15" font-family='"Liberation Sans", sans-serif' >16</text>
<text x="405.00" y="279.34" font-size="6.6" text-anchor="end" font-weight="normal" fill="#333" stroke="#333" stroke-width="0.15" font-family='"Liberation Sans", sans-serif' >18</text>
<text x="405.00" y="263.80" font-size="6.6" text-anchor="end" font-weight="normal" fill="#333" stroke="#333" stroke-width="0.15" font-family='"Liberation Sans", sans-serif' >20</text>
<path d="M435.73,339.1 v-1.8 M435.73,261.4 v1.8 M464.66,339.1 v-1.8 M464.66,261.4 v1.8 M493.59,339.1 v-1.8 M493.59,261.4 v1.8 M522.51,339.1 v-1.8 M522.51,261.4 v1.8 M551.44,339.1 v-1.8 M551.44,261.4 v1.8 M580.37,339.1 v-1.8 M580.37,261.4 v1.8 M406.8,323.56 h1.8 M609.30,323.56 h-1.8 M406.8,308.02 h1.8 M609.30,308.02 h-1.8 M406.8,292.48 h1.8 M609.30,292.48 h-1.8 M406.8,276.94 h1.8 M609.30,276.94 h-1.8" stroke="#3a3a3a" stroke-width="0.9"/>
<text x="508.05" y="356.60" font-size="7.3" text-anchor="middle" font-weight="normal" fill="#333" stroke="#333" stroke-width="0.15" font-family='"Liberation Sans", sans-serif' >Time (s)</text>
<text transform="translate(393.60,300.25) rotate(-90)" x="0" y="0" font-size="7.4" text-anchor="middle" fill="#333" font-family='"Liberation Sans", sans-serif'>Frequency (Hz)</text>
<rect x="627.0" y="262.0" width="21.299999999999955" height="76.80000000000001" fill="url(#g42)" stroke="#3a3a3a" stroke-width="0.9"/>
<text x="651.80" y="285.69" font-size="6.6" text-anchor="start" font-weight="normal" fill="#333" stroke="#333" stroke-width="0.15" font-family='"Liberation Sans", sans-serif' >5</text>
<text x="651.80" y="309.62" font-size="6.6" text-anchor="start" font-weight="normal" fill="#333" stroke="#333" stroke-width="0.15" font-family='"Liberation Sans", sans-serif' >0</text>
<text x="651.80" y="333.54" font-size="6.6" text-anchor="start" font-weight="normal" fill="#333" stroke="#333" stroke-width="0.15" font-family='"Liberation Sans", sans-serif' >-5</text>
<path d="M648.3,283.29 h-1.6 M648.3,307.22 h-1.6 M648.3,331.14 h-1.6" stroke="#3a3a3a" stroke-width="0.9"/>
<text transform="translate(662.80,300.40) rotate(90)" x="0" y="0" font-size="6.4" text-anchor="middle" fill="#333" font-family='"Liberation Sans", sans-serif'>Decibel (dB)</text>
<g clip-path="url(#c43)"><g filter="url(#f82)" shape-rendering="crispEdges"><rect x="406.8" y="370" width="202.50" height="2" fill="url(#g44)"/><rect x="406.8" y="372" width="202.50" height="2" fill="url(#g45)"/><rect x="406.8" y="374" width="202.50" height="2" fill="url(#g46)"/><rect x="406.8" y="376" width="202.50" height="2" fill="url(#g47)"/><rect x="406.8" y="378" width="202.50" height="2" fill="url(#g48)"/><rect x="406.8" y="380" width="202.50" height="2" fill="url(#g49)"/><rect x="406.8" y="382" width="202.50" height="2" fill="url(#g50)"/><rect x="406.8" y="384" width="202.50" height="2" fill="url(#g51)"/><rect x="406.8" y="386" width="202.50" height="2" fill="url(#g52)"/><rect x="406.8" y="388" width="202.50" height="2" fill="url(#g53)"/><rect x="406.8" y="390" width="202.50" height="2" fill="url(#g54)"/><rect x="406.8" y="392" width="202.50" height="2" fill="url(#g55)"/><rect x="406.8" y="394" width="202.50" height="2" fill="url(#g56)"/><rect x="406.8" y="396" width="202.50" height="2" fill="url(#g57)"/><rect x="406.8" y="398" width="202.50" height="2" fill="url(#g58)"/><rect x="406.8" y="400" width="202.50" height="2" fill="url(#g59)"/><rect x="406.8" y="402" width="202.50" height="2" fill="url(#g60)"/><rect x="406.8" y="404" width="202.50" height="2" fill="url(#g61)"/><rect x="406.8" y="406" width="202.50" height="2" fill="url(#g62)"/><rect x="406.8" y="408" width="202.50" height="2" fill="url(#g63)"/><rect x="406.8" y="410" width="202.50" height="2" fill="url(#g64)"/><rect x="406.8" y="412" width="202.50" height="2" fill="url(#g65)"/><rect x="406.8" y="414" width="202.50" height="2" fill="url(#g66)"/><rect x="406.8" y="416" width="202.50" height="2" fill="url(#g67)"/><rect x="406.8" y="418" width="202.50" height="2" fill="url(#g68)"/><rect x="406.8" y="420" width="202.50" height="2" fill="url(#g69)"/><rect x="406.8" y="422" width="202.50" height="2" fill="url(#g70)"/><rect x="406.8" y="424" width="202.50" height="2" fill="url(#g71)"/><rect x="406.8" y="426" width="202.50" height="2" fill="url(#g72)"/><rect x="406.8" y="428" width="202.50" height="2" fill="url(#g73)"/><rect x="406.8" y="430" width="202.50" height="2" fill="url(#g74)"/><rect x="406.8" y="432" width="202.50" height="2" fill="url(#g75)"/><rect x="406.8" y="434" width="202.50" height="2" fill="url(#g76)"/><rect x="406.8" y="436" width="202.50" height="2" fill="url(#g77)"/><rect x="406.8" y="438" width="202.50" height="2" fill="url(#g78)"/><rect x="406.8" y="440" width="202.50" height="2" fill="url(#g79)"/><rect x="406.8" y="442" width="202.50" height="2" fill="url(#g80)"/><rect x="406.8" y="444" width="202.50" height="2" fill="url(#g81)"/><rect x="406.8" y="446" width="202.50" height="2" fill="url(#g82)"/></g></g>
<polyline points="406.80,412.89 407.48,413.32 408.15,413.70 408.83,414.04 409.51,414.34 410.19,414.60 410.86,414.82 411.54,415.00 412.22,415.14 412.90,415.26 413.57,415.33 414.25,415.38 414.93,415.39 415.60,415.37 416.28,415.32 416.96,415.24 417.64,415.13 418.31,415.00 418.99,414.84 419.67,414.65 420.35,414.45 421.02,414.22 421.70,413.96 422.38,413.69 423.05,413.40 423.73,413.09 424.41,412.77 425.09,412.43 425.76,412.07 426.44,411.70 427.12,411.31 427.79,410.92 428.47,410.51 429.15,410.10 429.83,409.68 430.50,409.25 431.18,408.81 431.86,408.37 432.54,407.92 433.21,407.47 433.89,407.02 434.57,406.57 435.24,406.12 435.92,405.67 436.60,405.22 437.28,404.78 437.95,404.34 438.63,403.91 439.31,403.48 439.99,403.06 440.66,402.65 441.34,402.25 442.02,401.87 442.69,401.50 443.37,401.14 444.05,400.81 444.73,400.50 445.40,400.21 446.08,399.95 446.76,399.72 447.44,399.52 448.11,399.35 448.79,399.22 449.47,399.13 450.14,399.08 450.82,399.07 451.50,399.11 452.18,399.19 452.85,399.33 453.53,399.52 454.21,399.76 454.89,400.06 455.56,400.42 456.24,400.84 456.92,401.32 457.59,401.88 458.27,402.50 458.95,403.19 459.63,403.94 460.30,404.76 460.98,405.63 461.66,406.55 462.34,407.52 463.01,408.53 463.69,409.58 464.37,410.65 465.04,411.75 465.72,412.88 466.40,414.02 467.08,415.17 467.75,416.33 468.43,417.49 469.11,418.64 469.78,419.79 470.46,420.93 471.14,422.04 471.82,423.14 472.49,424.21 473.17,425.24 473.85,426.24 474.53,427.19 475.20,428.10 475.88,428.96 476.56,429.76 477.23,430.49 477.91,431.16 478.59,431.76 479.27,432.28 479.94,432.73 480.62,433.08 481.30,433.34 481.98,433.51 482.65,433.58 483.33,433.54 484.01,433.39 484.68,433.14 485.36,432.80 486.04,432.36 486.72,431.84 487.39,431.24 488.07,430.56 488.75,429.81 489.43,429.00 490.10,428.12 490.78,427.19 491.46,426.22 492.13,425.20 492.81,424.14 493.49,423.05 494.17,421.93 494.84,420.79 495.52,419.64 496.20,418.47 496.88,417.30 497.55,416.12 498.23,414.95 498.91,413.79 499.58,412.65 500.26,411.52 500.94,410.42 501.62,409.36 502.29,408.32 502.97,407.34 503.65,406.39 504.33,405.51 505.00,404.67 505.68,403.91 506.36,403.21 507.03,402.57 507.71,402.00 508.39,401.48 509.07,401.03 509.74,400.63 510.42,400.29 511.10,400.01 511.77,399.77 512.45,399.58 513.13,399.44 513.81,399.35 514.48,399.30 515.16,399.30 515.84,399.33 516.52,399.40 517.19,399.51 517.87,399.65 518.55,399.82 519.22,400.03 519.90,400.26 520.58,400.52 521.26,400.81 521.93,401.12 522.61,401.45 523.29,401.79 523.97,402.16 524.64,402.54 525.32,402.93 526.00,403.34 526.67,403.75 527.35,404.18 528.03,404.61 528.71,405.04 529.38,405.47 530.06,405.91 530.74,406.34 531.42,406.77 532.09,407.19 532.77,407.61 533.45,408.01 534.12,408.41 534.80,408.79 535.48,409.16 536.16,409.51 536.83,409.84 537.51,410.16 538.19,410.45 538.87,410.74 539.54,411.01 540.22,411.26 540.90,411.50 541.57,411.73 542.25,411.95 542.93,412.15 543.61,412.34 544.28,412.52 544.96,412.69 545.64,412.85 546.32,413.01 546.99,413.15 547.67,413.29 548.35,413.42 549.02,413.54 549.70,413.66 550.38,413.77 551.06,413.87 551.73,413.98 552.41,414.07 553.09,414.17 553.76,414.26 554.44,414.35 555.12,414.44 555.80,414.53 556.47,414.62 557.15,414.71 557.83,414.81 558.51,414.90 559.18,414.99 559.86,415.09 560.54,415.19 561.21,415.29 561.89,415.40 562.57,415.50 563.25,415.61 563.92,415.71 564.60,415.82 565.28,415.93 565.96,416.04 566.63,416.14 567.31,416.25 567.99,416.36 568.66,416.46 569.34,416.56 570.02,416.66 570.70,416.76 571.37,416.86 572.05,416.95 572.73,417.04 573.41,417.13 574.08,417.22 574.76,417.30 575.44,417.38 576.11,417.45 576.79,417.52 577.47,417.58 578.15,417.64 578.82,417.69 579.50,417.74 580.18,417.78 580.86,417.82 581.53,417.85 582.21,417.87 582.89,417.88 583.56,417.89 584.24,417.89 584.92,417.88 585.60,417.87 586.27,417.84 586.95,417.81 587.63,417.77 588.31,417.72 588.98,417.66 589.66,417.59 590.34,417.50 591.01,417.41 591.69,417.31 592.37,417.20 593.05,417.07 593.72,416.94 594.40,416.79 595.08,416.63 595.75,416.46 596.43,416.28 597.11,416.08 597.79,415.87 598.46,415.64 599.14,415.41 599.82,415.15 600.50,414.89 601.17,414.61 601.85,414.31 602.53,414.00 603.20,413.67 603.88,413.33 604.56,412.98 605.24,412.60 605.91,412.21 606.59,411.80 607.27,411.38 607.95,410.94 608.62,410.48 609.30,410.00" fill="none" stroke="rgb(242,170,200)" stroke-width="2.2" stroke-linejoin="round"/>
<rect x="406.8" y="370.3" width="202.50" height="77.20" fill="none" stroke="#3a3a3a" stroke-width="0.9"/>
<text x="406.80" y="456.20" font-size="6.6" text-anchor="middle" font-weight="normal" fill="#333" stroke="#333" stroke-width="0.15" font-family='"Liberation Sans", sans-serif' >-1</text>
<text x="435.73" y="456.20" font-size="6.6" text-anchor="middle" font-weight="normal" fill="#333" stroke="#333" stroke-width="0.15" font-family='"Liberation Sans", sans-serif' >-0.5</text>
<text x="464.66" y="456.20" font-size="6.6" text-anchor="middle" font-weight="normal" fill="#333" stroke="#333" stroke-width="0.15" font-family='"Liberation Sans", sans-serif' >0</text>
<text x="493.59" y="456.20" font-size="6.6" text-anchor="middle" font-weight="normal" fill="#333" stroke="#333" stroke-width="0.15" font-family='"Liberation Sans", sans-serif' >0.5</text>
<text x="522.51" y="456.20" font-size="6.6" text-anchor="middle" font-weight="normal" fill="#333" stroke="#333" stroke-width="0.15" font-family='"Liberation Sans", sans-serif' >1</text>
<text x="551.44" y="456.20" font-size="6.6" text-anchor="middle" font-weight="normal" fill="#333" stroke="#333" stroke-width="0.15" font-family='"Liberation Sans", sans-serif' >1.5</text>
<text x="580.37" y="456.20" font-size="6.6" text-anchor="middle" font-weight="normal" fill="#333" stroke="#333" stroke-width="0.15" font-family='"Liberation Sans", sans-serif' >2</text>
<text x="609.30" y="456.20" font-size="6.6" text-anchor="middle" font-weight="normal" fill="#333" stroke="#333" stroke-width="0.15" font-family='"Liberation Sans", sans-serif' >2.5</text>
<text x="405.00" y="449.90" font-size="6.6" text-anchor="end" font-weight="normal" fill="#333" stroke="#333" stroke-width="0.15" font-family='"Liberation Sans", sans-serif' >10</text>
<text x="405.00" y="434.46" font-size="6.6" text-anchor="end" font-weight="normal" fill="#333" stroke="#333" stroke-width="0.15" font-family='"Liberation Sans", sans-serif' >12</text>
<text x="405.00" y="419.02" font-size="6.6" text-anchor="end" font-weight="normal" fill="#333" stroke="#333" stroke-width="0.15" font-family='"Liberation Sans", sans-serif' >14</text>
<text x="405.00" y="403.58" font-size="6.6" text-anchor="end" font-weight="normal" fill="#333" stroke="#333" stroke-width="0.15" font-family='"Liberation Sans", sans-serif' >16</text>
<text x="405.00" y="388.14" font-size="6.6" text-anchor="end" font-weight="normal" fill="#333" stroke="#333" stroke-width="0.15" font-family='"Liberation Sans", sans-serif' >18</text>
<text x="405.00" y="372.70" font-size="6.6" text-anchor="end" font-weight="normal" fill="#333" stroke="#333" stroke-width="0.15" font-family='"Liberation Sans", sans-serif' >20</text>
<path d="M435.73,447.5 v-1.8 M435.73,370.3 v1.8 M464.66,447.5 v-1.8 M464.66,370.3 v1.8 M493.59,447.5 v-1.8 M493.59,370.3 v1.8 M522.51,447.5 v-1.8 M522.51,370.3 v1.8 M551.44,447.5 v-1.8 M551.44,370.3 v1.8 M580.37,447.5 v-1.8 M580.37,370.3 v1.8 M406.8,432.06 h1.8 M609.30,432.06 h-1.8 M406.8,416.62 h1.8 M609.30,416.62 h-1.8 M406.8,401.18 h1.8 M609.30,401.18 h-1.8 M406.8,385.74 h1.8 M609.30,385.74 h-1.8" stroke="#3a3a3a" stroke-width="0.9"/>
<text x="508.05" y="465.00" font-size="7.3" text-anchor="middle" font-weight="normal" fill="#333" stroke="#333" stroke-width="0.15" font-family='"Liberation Sans", sans-serif' >Time (s)</text>
<text transform="translate(393.60,408.90) rotate(-90)" x="0" y="0" font-size="7.4" text-anchor="middle" fill="#333" font-family='"Liberation Sans", sans-serif'>Frequency (Hz)</text>
<rect x="627.0" y="370.6" width="21.299999999999955" height="77.09999999999997" fill="url(#g83)" stroke="#3a3a3a" stroke-width="0.9"/>
<text x="651.80" y="394.38" font-size="6.6" text-anchor="start" font-weight="normal" fill="#333" stroke="#333" stroke-width="0.15" font-family='"Liberation Sans", sans-serif' >5</text>
<text x="651.80" y="418.40" font-size="6.6" text-anchor="start" font-weight="normal" fill="#333" stroke="#333" stroke-width="0.15" font-family='"Liberation Sans", sans-serif' >0</text>
<text x="651.80" y="442.41" font-size="6.6" text-anchor="start" font-weight="normal" fill="#333" stroke="#333" stroke-width="0.15" font-family='"Liberation Sans", sans-serif' >-5</text>
<path d="M648.3,391.98 h-1.6 M648.3,416.00 h-1.6 M648.3,440.01 h-1.6" stroke="#3a3a3a" stroke-width="0.9"/>
<text transform="translate(662.80,409.15) rotate(90)" x="0" y="0" font-size="6.4" text-anchor="middle" fill="#333" font-family='"Liberation Sans", sans-serif'>Decibel (dB)</text>
</svg>
</body></html>
